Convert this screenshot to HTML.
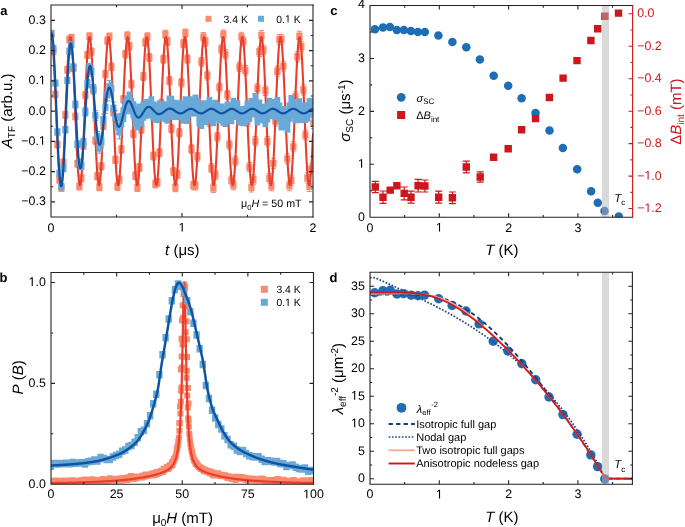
<!DOCTYPE html>
<html><head><meta charset="utf-8"><style>
html,body{margin:0;padding:0;background:#fff;}
svg{display:block;font-family:"Liberation Sans", sans-serif;will-change:transform;text-rendering:geometricPrecision;}
</style></head><body>
<svg width="685" height="527" viewBox="0 0 685 527">
<rect width="685" height="527" fill="#fff"/>
<clipPath id="ca"><rect x="51.0" y="5.0" width="262.0" height="212.0"/></clipPath>
<g clip-path="url(#ca)">
<path d="M48.29,30.73h6.20v7.40h-6.20z M50.89,31.10h1.0v6.66h-1.0z M48.89,30.60h5.0v1.0h-5.0z M48.89,37.26h5.0v1.0h-5.0z M50.29,47.70h6.20v7.40h-6.20z M52.89,48.05h1.0v6.69h-1.0z M50.89,47.55h5.0v1.0h-5.0z M50.89,54.24h5.0v1.0h-5.0z M52.29,90.72h6.20v7.40h-6.20z M54.89,91.06h1.0v6.72h-1.0z M52.89,90.56h5.0v1.0h-5.0z M52.89,97.28h5.0v1.0h-5.0z M54.29,140.94h6.20v7.40h-6.20z M56.89,141.27h1.0v6.74h-1.0z M54.89,140.77h5.0v1.0h-5.0z M54.89,147.51h5.0v1.0h-5.0z M56.29,176.14h6.20v7.40h-6.20z M58.89,176.45h1.0v6.77h-1.0z M56.89,175.95h5.0v1.0h-5.0z M56.89,182.72h5.0v1.0h-5.0z M58.29,184.39h6.20v7.40h-6.20z M60.89,184.69h1.0v6.80h-1.0z M58.89,184.19h5.0v1.0h-5.0z M58.89,190.99h5.0v1.0h-5.0z M60.29,158.73h6.20v7.40h-6.20z M62.89,159.02h1.0v6.83h-1.0z M60.89,158.52h5.0v1.0h-5.0z M60.89,165.34h5.0v1.0h-5.0z M62.29,111.25h6.20v7.40h-6.20z M64.89,111.53h1.0v6.85h-1.0z M62.89,111.03h5.0v1.0h-5.0z M62.89,117.88h5.0v1.0h-5.0z M64.29,66.03h6.20v7.40h-6.20z M66.89,66.29h1.0v6.88h-1.0z M64.89,65.79h5.0v1.0h-5.0z M64.89,72.67h5.0v1.0h-5.0z M66.29,35.81h6.20v7.40h-6.20z M68.89,36.06h1.0v6.91h-1.0z M66.89,35.56h5.0v1.0h-5.0z M66.89,42.47h5.0v1.0h-5.0z M68.29,34.00h6.20v7.40h-6.20z M70.89,34.23h1.0v6.94h-1.0z M68.89,33.73h5.0v1.0h-5.0z M68.89,40.67h5.0v1.0h-5.0z M70.29,64.40h6.20v7.40h-6.20z M72.89,64.62h1.0v6.97h-1.0z M70.89,64.12h5.0v1.0h-5.0z M70.89,71.08h5.0v1.0h-5.0z M72.29,112.70h6.20v7.40h-6.20z M74.89,112.91h1.0v6.99h-1.0z M72.89,112.41h5.0v1.0h-5.0z M72.89,119.40h5.0v1.0h-5.0z M74.29,159.92h6.20v7.40h-6.20z M76.89,160.11h1.0v7.02h-1.0z M74.89,159.61h5.0v1.0h-5.0z M74.89,166.63h5.0v1.0h-5.0z M76.29,182.86h6.20v7.40h-6.20z M78.89,183.04h1.0v7.05h-1.0z M76.89,182.54h5.0v1.0h-5.0z M76.89,189.58h5.0v1.0h-5.0z M78.29,174.59h6.20v7.40h-6.20z M80.89,174.75h1.0v7.08h-1.0z M78.89,174.25h5.0v1.0h-5.0z M78.89,181.33h5.0v1.0h-5.0z M80.29,142.01h6.20v7.40h-6.20z M82.89,142.16h1.0v7.10h-1.0z M80.89,141.66h5.0v1.0h-5.0z M80.89,148.76h5.0v1.0h-5.0z M82.29,91.40h6.20v7.40h-6.20z M84.89,91.54h1.0v7.13h-1.0z M82.89,91.04h5.0v1.0h-5.0z M82.89,98.17h5.0v1.0h-5.0z M84.29,51.29h6.20v7.40h-6.20z M86.89,51.41h1.0v7.16h-1.0z M84.89,50.91h5.0v1.0h-5.0z M84.89,58.07h5.0v1.0h-5.0z M86.29,32.69h6.20v7.40h-6.20z M88.89,32.80h1.0v7.19h-1.0z M86.89,32.30h5.0v1.0h-5.0z M86.89,39.49h5.0v1.0h-5.0z M88.29,47.86h6.20v7.40h-6.20z M90.89,47.95h1.0v7.21h-1.0z M88.89,47.45h5.0v1.0h-5.0z M88.89,54.67h5.0v1.0h-5.0z M90.29,85.78h6.20v7.40h-6.20z M92.89,85.86h1.0v7.24h-1.0z M90.89,85.36h5.0v1.0h-5.0z M90.89,92.60h5.0v1.0h-5.0z M92.29,136.87h6.20v7.40h-6.20z M94.89,136.93h1.0v7.27h-1.0z M92.89,136.43h5.0v1.0h-5.0z M92.89,143.70h5.0v1.0h-5.0z M94.29,172.56h6.20v7.40h-6.20z M96.89,172.61h1.0v7.30h-1.0z M94.89,172.11h5.0v1.0h-5.0z M94.89,179.41h5.0v1.0h-5.0z M96.29,183.39h6.20v7.40h-6.20z M98.89,183.42h1.0v7.33h-1.0z M96.89,182.92h5.0v1.0h-5.0z M96.89,190.25h5.0v1.0h-5.0z M98.29,162.73h6.20v7.40h-6.20z M100.89,162.76h1.0v7.35h-1.0z M98.89,162.26h5.0v1.0h-5.0z M98.89,169.61h5.0v1.0h-5.0z M100.29,122.10h6.20v7.40h-6.20z M102.89,122.11h1.0v7.38h-1.0z M100.89,121.61h5.0v1.0h-5.0z M100.89,128.99h5.0v1.0h-5.0z M102.29,70.41h6.20v7.40h-6.20z M104.89,70.40h1.0v7.41h-1.0z M102.89,69.90h5.0v1.0h-5.0z M102.89,77.31h5.0v1.0h-5.0z M104.29,36.75h6.20v7.40h-6.20z M106.89,36.73h1.0v7.44h-1.0z M104.89,36.23h5.0v1.0h-5.0z M104.89,43.67h5.0v1.0h-5.0z M106.29,33.11h6.20v7.40h-6.20z M108.89,33.08h1.0v7.46h-1.0z M106.89,32.58h5.0v1.0h-5.0z M106.89,40.04h5.0v1.0h-5.0z M108.29,63.14h6.20v7.40h-6.20z M110.89,63.10h1.0v7.49h-1.0z M108.89,62.60h5.0v1.0h-5.0z M108.89,70.09h5.0v1.0h-5.0z M110.29,108.54h6.20v7.40h-6.20z M112.89,108.48h1.0v7.52h-1.0z M110.89,107.98h5.0v1.0h-5.0z M110.89,115.50h5.0v1.0h-5.0z M112.29,156.12h6.20v7.40h-6.20z M114.89,156.04h1.0v7.55h-1.0z M112.89,155.54h5.0v1.0h-5.0z M112.89,163.09h5.0v1.0h-5.0z M114.29,182.96h6.20v7.40h-6.20z M116.89,182.87h1.0v7.57h-1.0z M114.89,182.37h5.0v1.0h-5.0z M114.89,189.94h5.0v1.0h-5.0z M116.29,176.19h6.20v7.40h-6.20z M118.89,176.09h1.0v7.60h-1.0z M116.89,175.59h5.0v1.0h-5.0z M116.89,183.19h5.0v1.0h-5.0z M118.29,145.69h6.20v7.40h-6.20z M120.89,145.58h1.0v7.63h-1.0z M118.89,145.08h5.0v1.0h-5.0z M118.89,152.71h5.0v1.0h-5.0z M120.29,95.72h6.20v7.40h-6.20z M122.89,95.59h1.0v7.66h-1.0z M120.89,95.09h5.0v1.0h-5.0z M120.89,102.75h5.0v1.0h-5.0z M122.29,50.43h6.20v7.40h-6.20z M124.89,50.29h1.0v7.69h-1.0z M122.89,49.79h5.0v1.0h-5.0z M122.89,57.47h5.0v1.0h-5.0z M124.29,31.97h6.20v7.40h-6.20z M126.89,31.81h1.0v7.71h-1.0z M124.89,31.31h5.0v1.0h-5.0z M124.89,39.03h5.0v1.0h-5.0z M126.29,42.44h6.20v7.40h-6.20z M128.89,42.27h1.0v7.74h-1.0z M126.89,41.77h5.0v1.0h-5.0z M126.89,49.51h5.0v1.0h-5.0z M128.29,80.47h6.20v7.40h-6.20z M130.89,80.29h1.0v7.77h-1.0z M128.89,79.79h5.0v1.0h-5.0z M128.89,87.56h5.0v1.0h-5.0z M130.29,130.09h6.20v7.40h-6.20z M132.89,129.89h1.0v7.80h-1.0z M130.89,129.39h5.0v1.0h-5.0z M130.89,137.18h5.0v1.0h-5.0z M132.29,172.07h6.20v7.40h-6.20z M134.89,171.86h1.0v7.82h-1.0z M132.89,171.36h5.0v1.0h-5.0z M132.89,179.18h5.0v1.0h-5.0z M134.29,183.91h6.20v7.40h-6.20z M136.89,183.68h1.0v7.85h-1.0z M134.89,183.18h5.0v1.0h-5.0z M134.89,191.03h5.0v1.0h-5.0z M136.29,163.79h6.20v7.40h-6.20z M138.89,163.55h1.0v7.88h-1.0z M136.89,163.05h5.0v1.0h-5.0z M136.89,170.93h5.0v1.0h-5.0z M138.29,125.61h6.20v7.40h-6.20z M140.89,125.35h1.0v7.91h-1.0z M138.89,124.85h5.0v1.0h-5.0z M138.89,132.76h5.0v1.0h-5.0z M140.29,72.76h6.20v7.40h-6.20z M142.89,72.50h1.0v7.94h-1.0z M140.89,72.00h5.0v1.0h-5.0z M140.89,79.93h5.0v1.0h-5.0z M142.29,38.60h6.20v7.40h-6.20z M144.89,38.32h1.0v7.96h-1.0z M142.89,37.82h5.0v1.0h-5.0z M142.89,45.78h5.0v1.0h-5.0z M144.29,33.11h6.20v7.40h-6.20z M146.89,32.82h1.0v7.99h-1.0z M144.89,32.32h5.0v1.0h-5.0z M144.89,40.31h5.0v1.0h-5.0z M146.29,53.90h6.20v7.40h-6.20z M148.89,53.59h1.0v8.02h-1.0z M146.89,53.09h5.0v1.0h-5.0z M146.89,61.11h5.0v1.0h-5.0z M148.29,101.62h6.20v7.40h-6.20z M150.89,101.30h1.0v8.05h-1.0z M148.89,100.80h5.0v1.0h-5.0z M148.89,108.85h5.0v1.0h-5.0z M150.29,152.38h6.20v7.40h-6.20z M152.89,152.04h1.0v8.07h-1.0z M150.89,151.54h5.0v1.0h-5.0z M150.89,159.61h5.0v1.0h-5.0z M152.29,180.21h6.20v7.40h-6.20z M154.89,179.86h1.0v8.10h-1.0z M152.89,179.36h5.0v1.0h-5.0z M152.89,187.46h5.0v1.0h-5.0z M154.29,178.77h6.20v7.40h-6.20z M156.89,178.41h1.0v8.13h-1.0z M154.89,177.91h5.0v1.0h-5.0z M154.89,186.04h5.0v1.0h-5.0z M156.29,149.09h6.20v7.40h-6.20z M158.89,148.71h1.0v8.16h-1.0z M156.89,148.21h5.0v1.0h-5.0z M156.89,156.37h5.0v1.0h-5.0z M158.29,99.65h6.20v7.40h-6.20z M160.89,99.25h1.0v8.18h-1.0z M158.89,98.75h5.0v1.0h-5.0z M158.89,106.94h5.0v1.0h-5.0z M160.29,55.46h6.20v7.40h-6.20z M162.89,55.05h1.0v8.21h-1.0z M160.89,54.55h5.0v1.0h-5.0z M160.89,62.76h5.0v1.0h-5.0z M162.29,30.75h6.20v7.40h-6.20z M164.89,30.33h1.0v8.24h-1.0z M162.89,29.83h5.0v1.0h-5.0z M162.89,38.07h5.0v1.0h-5.0z M164.29,37.57h6.20v7.40h-6.20z M166.89,37.14h1.0v8.27h-1.0z M164.89,36.64h5.0v1.0h-5.0z M164.89,44.90h5.0v1.0h-5.0z M166.29,76.99h6.20v7.40h-6.20z M168.89,76.55h1.0v8.30h-1.0z M166.89,76.05h5.0v1.0h-5.0z M166.89,84.34h5.0v1.0h-5.0z M168.29,125.01h6.20v7.40h-6.20z M170.89,124.55h1.0v8.32h-1.0z M168.89,124.05h5.0v1.0h-5.0z M168.89,132.37h5.0v1.0h-5.0z M170.29,167.89h6.20v7.40h-6.20z M172.89,167.41h1.0v8.35h-1.0z M170.89,166.91h5.0v1.0h-5.0z M170.89,175.26h5.0v1.0h-5.0z M172.29,183.90h6.20v7.40h-6.20z M174.89,183.41h1.0v8.38h-1.0z M172.89,182.91h5.0v1.0h-5.0z M172.89,191.29h5.0v1.0h-5.0z M174.29,170.78h6.20v7.40h-6.20z M176.89,170.28h1.0v8.41h-1.0z M174.89,169.78h5.0v1.0h-5.0z M174.89,178.18h5.0v1.0h-5.0z M176.29,129.04h6.20v7.40h-6.20z M178.89,128.52h1.0v8.43h-1.0z M176.89,128.02h5.0v1.0h-5.0z M176.89,136.46h5.0v1.0h-5.0z M178.29,78.97h6.20v7.40h-6.20z M180.89,78.44h1.0v8.46h-1.0z M178.89,77.94h5.0v1.0h-5.0z M178.89,86.41h5.0v1.0h-5.0z M180.29,39.82h6.20v7.40h-6.20z M182.89,39.28h1.0v8.49h-1.0z M180.89,38.78h5.0v1.0h-5.0z M180.89,47.27h5.0v1.0h-5.0z M182.29,29.60h6.20v7.40h-6.20z M184.89,29.04h1.0v8.52h-1.0z M182.89,28.54h5.0v1.0h-5.0z M182.89,37.06h5.0v1.0h-5.0z M184.29,55.24h6.20v7.40h-6.20z M186.89,54.66h1.0v8.54h-1.0z M184.89,54.16h5.0v1.0h-5.0z M184.89,62.71h5.0v1.0h-5.0z M186.29,98.96h6.20v7.40h-6.20z M188.89,98.37h1.0v8.57h-1.0z M186.89,97.87h5.0v1.0h-5.0z M186.89,106.44h5.0v1.0h-5.0z M188.29,145.32h6.20v7.40h-6.20z M190.89,144.72h1.0v8.60h-1.0z M188.89,144.22h5.0v1.0h-5.0z M188.89,152.82h5.0v1.0h-5.0z M190.29,181.62h6.20v7.40h-6.20z M192.89,181.00h1.0v8.63h-1.0z M190.89,180.50h5.0v1.0h-5.0z M190.89,189.13h5.0v1.0h-5.0z M192.29,181.89h6.20v7.40h-6.20z M194.89,181.26h1.0v8.66h-1.0z M192.89,180.76h5.0v1.0h-5.0z M192.89,189.41h5.0v1.0h-5.0z M194.29,153.11h6.20v7.40h-6.20z M196.89,152.47h1.0v8.68h-1.0z M194.89,151.97h5.0v1.0h-5.0z M194.89,160.65h5.0v1.0h-5.0z M196.29,103.82h6.20v7.40h-6.20z M198.89,103.16h1.0v8.71h-1.0z M196.89,102.66h5.0v1.0h-5.0z M196.89,111.37h5.0v1.0h-5.0z M198.29,58.13h6.20v7.40h-6.20z M200.89,57.46h1.0v8.74h-1.0z M198.89,56.96h5.0v1.0h-5.0z M198.89,65.70h5.0v1.0h-5.0z M200.29,33.26h6.20v7.40h-6.20z M202.89,32.58h1.0v8.77h-1.0z M200.89,32.08h5.0v1.0h-5.0z M200.89,40.84h5.0v1.0h-5.0z M202.29,38.07h6.20v7.40h-6.20z M204.89,37.38h1.0v8.79h-1.0z M202.89,36.88h5.0v1.0h-5.0z M202.89,45.67h5.0v1.0h-5.0z M204.29,71.82h6.20v7.40h-6.20z M206.89,71.11h1.0v8.82h-1.0z M204.89,70.61h5.0v1.0h-5.0z M204.89,79.43h5.0v1.0h-5.0z M206.29,118.07h6.20v7.40h-6.20z M208.89,117.35h1.0v8.85h-1.0z M206.89,116.85h5.0v1.0h-5.0z M206.89,125.70h5.0v1.0h-5.0z M208.29,164.54h6.20v7.40h-6.20z M210.89,163.80h1.0v8.88h-1.0z M208.89,163.30h5.0v1.0h-5.0z M208.89,172.18h5.0v1.0h-5.0z M210.29,184.29h6.20v7.40h-6.20z M212.89,183.54h1.0v8.90h-1.0z M210.89,183.04h5.0v1.0h-5.0z M210.89,191.94h5.0v1.0h-5.0z M212.29,171.32h6.20v7.40h-6.20z M214.89,170.56h1.0v8.93h-1.0z M212.89,170.06h5.0v1.0h-5.0z M212.89,178.99h5.0v1.0h-5.0z M214.29,133.16h6.20v7.40h-6.20z M216.89,132.38h1.0v8.96h-1.0z M214.89,131.88h5.0v1.0h-5.0z M214.89,140.84h5.0v1.0h-5.0z M216.29,83.71h6.20v7.40h-6.20z M218.89,82.92h1.0v8.99h-1.0z M216.89,82.42h5.0v1.0h-5.0z M216.89,91.41h5.0v1.0h-5.0z M218.29,45.55h6.20v7.40h-6.20z M220.89,44.75h1.0v9.02h-1.0z M218.89,44.25h5.0v1.0h-5.0z M218.89,53.26h5.0v1.0h-5.0z M220.29,30.86h6.20v7.40h-6.20z M222.89,30.04h1.0v9.04h-1.0z M220.89,29.54h5.0v1.0h-5.0z M220.89,38.59h5.0v1.0h-5.0z M222.29,50.45h6.20v7.40h-6.20z M224.89,49.62h1.0v9.07h-1.0z M222.89,49.12h5.0v1.0h-5.0z M222.89,58.19h5.0v1.0h-5.0z M224.29,91.01h6.20v7.40h-6.20z M226.89,90.16h1.0v9.10h-1.0z M224.89,89.66h5.0v1.0h-5.0z M224.89,98.76h5.0v1.0h-5.0z M226.29,140.88h6.20v7.40h-6.20z M228.89,140.02h1.0v9.13h-1.0z M226.89,139.52h5.0v1.0h-5.0z M226.89,148.64h5.0v1.0h-5.0z M228.29,176.61h6.20v7.40h-6.20z M230.89,175.73h1.0v9.15h-1.0z M228.89,175.23h5.0v1.0h-5.0z M228.89,184.39h5.0v1.0h-5.0z M230.29,181.39h6.20v7.40h-6.20z M232.89,180.50h1.0v9.18h-1.0z M230.89,180.00h5.0v1.0h-5.0z M230.89,189.18h5.0v1.0h-5.0z M232.29,157.43h6.20v7.40h-6.20z M234.89,156.53h1.0v9.21h-1.0z M232.89,156.03h5.0v1.0h-5.0z M232.89,165.24h5.0v1.0h-5.0z M234.29,109.17h6.20v7.40h-6.20z M236.89,108.25h1.0v9.24h-1.0z M234.89,107.75h5.0v1.0h-5.0z M234.89,116.99h5.0v1.0h-5.0z M236.29,63.21h6.20v7.40h-6.20z M238.89,62.28h1.0v9.27h-1.0z M236.89,61.78h5.0v1.0h-5.0z M236.89,71.04h5.0v1.0h-5.0z M238.29,33.21h6.20v7.40h-6.20z M240.89,32.26h1.0v9.29h-1.0z M238.89,31.76h5.0v1.0h-5.0z M238.89,41.06h5.0v1.0h-5.0z M240.29,37.54h6.20v7.40h-6.20z M242.89,36.58h1.0v9.32h-1.0z M240.89,36.08h5.0v1.0h-5.0z M240.89,45.40h5.0v1.0h-5.0z M242.29,66.54h6.20v7.40h-6.20z M244.89,65.56h1.0v9.35h-1.0z M242.89,65.06h5.0v1.0h-5.0z M242.89,74.41h5.0v1.0h-5.0z M244.29,117.93h6.20v7.40h-6.20z M246.89,116.94h1.0v9.38h-1.0z M244.89,116.44h5.0v1.0h-5.0z M244.89,125.82h5.0v1.0h-5.0z M246.29,163.44h6.20v7.40h-6.20z M248.89,162.44h1.0v9.40h-1.0z M246.89,161.94h5.0v1.0h-5.0z M246.89,171.34h5.0v1.0h-5.0z M248.29,183.70h6.20v7.40h-6.20z M250.89,182.68h1.0v9.43h-1.0z M248.89,182.18h5.0v1.0h-5.0z M248.89,191.61h5.0v1.0h-5.0z M250.29,175.81h6.20v7.40h-6.20z M252.89,174.78h1.0v9.46h-1.0z M250.89,174.28h5.0v1.0h-5.0z M250.89,183.74h5.0v1.0h-5.0z M252.29,137.43h6.20v7.40h-6.20z M254.89,136.38h1.0v9.49h-1.0z M252.89,135.88h5.0v1.0h-5.0z M252.89,145.37h5.0v1.0h-5.0z M254.29,84.86h6.20v7.40h-6.20z M256.89,83.81h1.0v9.51h-1.0z M254.89,83.31h5.0v1.0h-5.0z M254.89,92.82h5.0v1.0h-5.0z M256.29,48.09h6.20v7.40h-6.20z M258.89,47.02h1.0v9.54h-1.0z M256.89,46.52h5.0v1.0h-5.0z M256.89,56.06h5.0v1.0h-5.0z M258.29,31.64h6.20v7.40h-6.20z M260.89,30.55h1.0v9.57h-1.0z M258.89,30.05h5.0v1.0h-5.0z M258.89,39.62h5.0v1.0h-5.0z M260.29,46.27h6.20v7.40h-6.20z M262.89,45.17h1.0v9.60h-1.0z M260.89,44.67h5.0v1.0h-5.0z M260.89,54.27h5.0v1.0h-5.0z M262.29,87.11h6.20v7.40h-6.20z M264.89,85.99h1.0v9.63h-1.0z M262.89,85.49h5.0v1.0h-5.0z M262.89,95.12h5.0v1.0h-5.0z M264.29,137.56h6.20v7.40h-6.20z M266.89,136.43h1.0v9.65h-1.0z M264.89,135.93h5.0v1.0h-5.0z M264.89,145.58h5.0v1.0h-5.0z M266.29,174.56h6.20v7.40h-6.20z M268.89,173.42h1.0v9.68h-1.0z M266.89,172.92h5.0v1.0h-5.0z M266.89,182.60h5.0v1.0h-5.0z M268.29,182.24h6.20v7.40h-6.20z M270.89,181.08h1.0v9.71h-1.0z M268.89,180.58h5.0v1.0h-5.0z M268.89,190.29h5.0v1.0h-5.0z M270.29,159.88h6.20v7.40h-6.20z M272.89,158.71h1.0v9.74h-1.0z M270.89,158.21h5.0v1.0h-5.0z M270.89,167.95h5.0v1.0h-5.0z M272.29,117.36h6.20v7.40h-6.20z M274.89,116.17h1.0v9.76h-1.0z M272.89,115.67h5.0v1.0h-5.0z M272.89,125.44h5.0v1.0h-5.0z M274.29,67.54h6.20v7.40h-6.20z M276.89,66.34h1.0v9.79h-1.0z M274.89,65.84h5.0v1.0h-5.0z M274.89,75.63h5.0v1.0h-5.0z M276.29,35.68h6.20v7.40h-6.20z M278.89,34.47h1.0v9.82h-1.0z M276.89,33.97h5.0v1.0h-5.0z M276.89,43.79h5.0v1.0h-5.0z M278.29,35.57h6.20v7.40h-6.20z M280.89,34.34h1.0v9.85h-1.0z M278.89,33.84h5.0v1.0h-5.0z M278.89,43.69h5.0v1.0h-5.0z M280.29,62.47h6.20v7.40h-6.20z M282.89,61.23h1.0v9.87h-1.0z M280.89,60.73h5.0v1.0h-5.0z M280.89,70.60h5.0v1.0h-5.0z M282.29,111.64h6.20v7.40h-6.20z M284.89,110.39h1.0v9.90h-1.0z M282.89,109.89h5.0v1.0h-5.0z M282.89,119.79h5.0v1.0h-5.0z M284.29,155.13h6.20v7.40h-6.20z M286.89,153.86h1.0v9.93h-1.0z M284.89,153.36h5.0v1.0h-5.0z M284.89,163.29h5.0v1.0h-5.0z M286.29,182.02h6.20v7.40h-6.20z M288.89,180.74h1.0v9.96h-1.0z M286.89,180.24h5.0v1.0h-5.0z M286.89,190.20h5.0v1.0h-5.0z M288.29,176.62h6.20v7.40h-6.20z M290.89,175.33h1.0v9.99h-1.0z M288.89,174.83h5.0v1.0h-5.0z M288.89,184.81h5.0v1.0h-5.0z M290.29,143.14h6.20v7.40h-6.20z M292.89,141.83h1.0v10.01h-1.0z M290.89,141.33h5.0v1.0h-5.0z M290.89,151.34h5.0v1.0h-5.0z M292.29,93.36h6.20v7.40h-6.20z M294.89,92.04h1.0v10.04h-1.0z M292.89,91.54h5.0v1.0h-5.0z M292.89,101.58h5.0v1.0h-5.0z M294.29,53.08h6.20v7.40h-6.20z M296.89,51.75h1.0v10.07h-1.0z M294.89,51.25h5.0v1.0h-5.0z M294.89,61.31h5.0v1.0h-5.0z M296.29,32.58h6.20v7.40h-6.20z M298.89,31.24h1.0v10.10h-1.0z M296.89,30.74h5.0v1.0h-5.0z M296.89,40.83h5.0v1.0h-5.0z M298.29,43.09h6.20v7.40h-6.20z M300.89,41.73h1.0v10.12h-1.0z M298.89,41.23h5.0v1.0h-5.0z M298.89,51.35h5.0v1.0h-5.0z M300.29,86.24h6.20v7.40h-6.20z M302.89,84.86h1.0v10.15h-1.0z M300.89,84.36h5.0v1.0h-5.0z M300.89,94.51h5.0v1.0h-5.0z M302.29,131.30h6.20v7.40h-6.20z M304.89,129.91h1.0v10.18h-1.0z M302.89,129.41h5.0v1.0h-5.0z M302.89,139.59h5.0v1.0h-5.0z M304.29,174.27h6.20v7.40h-6.20z M306.89,172.87h1.0v10.21h-1.0z M304.89,172.37h5.0v1.0h-5.0z M304.89,182.57h5.0v1.0h-5.0z M306.29,182.72h6.20v7.40h-6.20z M308.89,181.30h1.0v10.24h-1.0z M306.89,180.80h5.0v1.0h-5.0z M306.89,191.04h5.0v1.0h-5.0z M308.29,165.46h6.20v7.40h-6.20z M310.89,164.03h1.0v10.26h-1.0z M308.89,163.53h5.0v1.0h-5.0z M308.89,173.79h5.0v1.0h-5.0z M310.29,119.61h6.20v7.40h-6.20z M312.89,118.16h1.0v10.29h-1.0z M310.89,117.66h5.0v1.0h-5.0z M310.89,127.96h5.0v1.0h-5.0z" fill="#F98B6E"/>
<path d="M51.00,37.35 L51.19,37.04 L51.37,37.01 L51.56,37.26 L51.75,37.79 L51.94,38.60 L52.12,39.68 L52.31,41.04 L52.50,42.66 L52.69,44.54 L52.87,46.67 L53.06,49.05 L53.25,51.66 L53.43,54.50 L53.62,57.55 L53.81,60.81 L54.00,64.26 L54.18,67.88 L54.37,71.67 L54.56,75.61 L54.75,79.68 L54.93,83.87 L55.12,88.17 L55.31,92.55 L55.49,97.01 L55.68,101.51 L55.87,106.05 L56.06,110.62 L56.24,115.18 L56.43,119.73 L56.62,124.24 L56.81,128.71 L56.99,133.11 L57.18,137.42 L57.37,141.64 L57.55,145.74 L57.74,149.71 L57.93,153.53 L58.12,157.19 L58.30,160.68 L58.49,163.97 L58.68,167.07 L58.87,169.96 L59.05,172.62 L59.24,175.04 L59.43,177.23 L59.61,179.16 L59.80,180.84 L59.99,182.25 L60.18,183.39 L60.36,184.26 L60.55,184.85 L60.74,185.16 L60.93,185.19 L61.11,184.94 L61.30,184.41 L61.49,183.60 L61.67,182.51 L61.86,181.15 L62.05,179.53 L62.24,177.65 L62.42,175.51 L62.61,173.14 L62.80,170.52 L62.99,167.68 L63.17,164.63 L63.36,161.37 L63.55,157.92 L63.73,154.30 L63.92,150.51 L64.11,146.57 L64.30,142.49 L64.48,138.30 L64.67,134.00 L64.86,129.62 L65.05,125.17 L65.23,120.66 L65.42,116.12 L65.61,111.56 L65.79,106.99 L65.98,102.44 L66.17,97.93 L66.36,93.46 L66.54,89.07 L66.73,84.75 L66.92,80.54 L67.11,76.44 L67.29,72.47 L67.48,68.65 L67.67,64.99 L67.85,61.50 L68.04,58.21 L68.23,55.11 L68.42,52.23 L68.60,49.57 L68.79,47.14 L68.98,44.96 L69.17,43.02 L69.35,41.35 L69.54,39.94 L69.73,38.80 L69.91,37.93 L70.10,37.35 L70.29,37.04 L70.48,37.01 L70.66,37.26 L70.85,37.80 L71.04,38.61 L71.23,39.70 L71.41,41.06 L71.60,42.68 L71.79,44.56 L71.97,46.70 L72.16,49.08 L72.35,51.69 L72.54,54.54 L72.72,57.59 L72.91,60.85 L73.10,64.30 L73.29,67.93 L73.47,71.72 L73.66,75.66 L73.85,79.73 L74.04,83.92 L74.22,88.22 L74.41,92.60 L74.60,97.06 L74.78,101.57 L74.97,106.11 L75.16,110.67 L75.35,115.23 L75.53,119.78 L75.72,124.30 L75.91,128.76 L76.10,133.16 L76.28,137.47 L76.47,141.69 L76.66,145.79 L76.84,149.75 L77.03,153.57 L77.22,157.23 L77.41,160.72 L77.59,164.01 L77.78,167.11 L77.97,169.99 L78.16,172.65 L78.34,175.07 L78.53,177.25 L78.72,179.19 L78.90,180.86 L79.09,182.27 L79.28,183.41 L79.47,184.27 L79.65,184.86 L79.84,185.16 L80.03,185.19 L80.22,184.93 L80.40,184.40 L80.59,183.58 L80.78,182.50 L80.96,181.14 L81.15,179.51 L81.34,177.63 L81.53,175.49 L81.71,173.11 L81.90,170.49 L82.09,167.65 L82.28,164.59 L82.46,161.33 L82.65,157.88 L82.84,154.25 L83.02,150.46 L83.21,146.52 L83.40,142.44 L83.59,138.25 L83.77,133.95 L83.96,129.57 L84.15,125.12 L84.34,120.61 L84.52,116.06 L84.71,111.50 L84.90,106.94 L85.08,102.39 L85.27,97.88 L85.46,93.41 L85.65,89.01 L85.83,84.70 L86.02,80.49 L86.21,76.39 L86.40,72.42 L86.58,68.60 L86.77,64.95 L86.96,61.46 L87.14,58.17 L87.33,55.08 L87.52,52.20 L87.71,49.54 L87.89,47.11 L88.08,44.93 L88.27,43.00 L88.46,41.33 L88.64,39.92 L88.83,38.79 L89.02,37.93 L89.20,37.34 L89.39,37.04 L89.58,37.01 L89.77,37.27 L89.95,37.81 L90.14,38.62 L90.33,39.71 L90.52,41.07 L90.70,42.70 L90.89,44.59 L91.08,46.73 L91.26,49.11 L91.45,51.73 L91.64,54.57 L91.83,57.63 L92.01,60.89 L92.20,64.34 L92.39,67.97 L92.58,71.76 L92.76,75.70 L92.95,79.78 L93.14,83.97 L93.32,88.27 L93.51,92.66 L93.70,97.11 L93.89,101.62 L94.07,106.16 L94.26,110.72 L94.45,115.29 L94.64,119.84 L94.82,124.35 L95.01,128.81 L95.20,133.21 L95.38,137.53 L95.57,141.74 L95.76,145.83 L95.95,149.80 L96.13,153.62 L96.32,157.27 L96.51,160.76 L96.70,164.05 L96.88,167.14 L97.07,170.02 L97.26,172.68 L97.44,175.10 L97.63,177.28 L97.82,179.21 L98.01,180.88 L98.19,182.28 L98.38,183.42 L98.57,184.28 L98.76,184.86 L98.94,185.17 L99.13,185.19 L99.32,184.93 L99.50,184.39 L99.69,183.57 L99.88,182.48 L100.07,181.12 L100.25,179.49 L100.44,177.60 L100.63,175.46 L100.82,173.08 L101.00,170.46 L101.19,167.61 L101.38,164.55 L101.56,161.29 L101.75,157.84 L101.94,154.21 L102.13,150.42 L102.31,146.47 L102.50,142.40 L102.69,138.20 L102.88,133.90 L103.06,129.52 L103.25,125.06 L103.44,120.55 L103.62,116.01 L103.81,111.45 L104.00,106.88 L104.19,102.34 L104.37,97.82 L104.56,93.36 L104.75,88.96 L104.94,84.65 L105.12,80.44 L105.31,76.34 L105.50,72.38 L105.68,68.56 L105.87,64.90 L106.06,61.42 L106.25,58.13 L106.43,55.04 L106.62,52.16 L106.81,49.51 L107.00,47.09 L107.18,44.91 L107.37,42.98 L107.56,41.31 L107.74,39.91 L107.93,38.78 L108.12,37.92 L108.31,37.34 L108.49,37.03 L108.68,37.01 L108.87,37.27 L109.06,37.81 L109.24,38.63 L109.43,39.73 L109.62,41.09 L109.80,42.72 L109.99,44.61 L110.18,46.75 L110.37,49.14 L110.55,51.76 L110.74,54.61 L110.93,57.67 L111.12,60.93 L111.30,64.38 L111.49,68.01 L111.68,71.81 L111.86,75.75 L112.05,79.83 L112.24,84.03 L112.43,88.32 L112.61,92.71 L112.80,97.16 L112.99,101.67 L113.18,106.22 L113.36,110.78 L113.55,115.34 L113.74,119.89 L113.92,124.40 L114.11,128.87 L114.30,133.26 L114.49,137.58 L114.67,141.79 L114.86,145.88 L115.05,149.85 L115.24,153.66 L115.42,157.32 L115.61,160.80 L115.80,164.09 L115.98,167.18 L116.17,170.05 L116.36,172.71 L116.55,175.13 L116.73,177.30 L116.92,179.23 L117.11,180.90 L117.30,182.30 L117.48,183.43 L117.67,184.29 L117.86,184.87 L118.05,185.17 L118.23,185.19 L118.42,184.92 L118.61,184.38 L118.79,183.56 L118.98,182.47 L119.17,181.10 L119.36,179.47 L119.54,177.58 L119.73,175.43 L119.92,173.05 L120.11,170.42 L120.29,167.58 L120.48,164.52 L120.67,161.25 L120.85,157.80 L121.04,154.16 L121.23,150.37 L121.42,146.42 L121.60,142.35 L121.79,138.15 L121.98,133.85 L122.17,129.46 L122.35,125.01 L122.54,120.50 L122.73,115.96 L122.91,111.39 L123.10,106.83 L123.29,102.28 L123.48,97.77 L123.66,93.31 L123.85,88.91 L124.04,84.60 L124.23,80.39 L124.41,76.29 L124.60,72.33 L124.79,68.52 L124.97,64.86 L125.16,61.38 L125.35,58.09 L125.54,55.01 L125.72,52.13 L125.91,49.48 L126.10,47.06 L126.29,44.88 L126.47,42.96 L126.66,41.30 L126.85,39.89 L127.03,38.76 L127.22,37.91 L127.41,37.33 L127.60,37.03 L127.78,37.01 L127.97,37.28 L128.16,37.82 L128.35,38.64 L128.53,39.74 L128.72,41.11 L128.91,42.74 L129.09,44.63 L129.28,46.78 L129.47,49.17 L129.66,51.79 L129.84,54.64 L130.03,57.70 L130.22,60.97 L130.41,64.42 L130.59,68.06 L130.78,71.85 L130.97,75.80 L131.15,79.88 L131.34,84.08 L131.53,88.38 L131.72,92.76 L131.90,97.22 L132.09,101.73 L132.28,106.27 L132.47,110.83 L132.65,115.40 L132.84,119.94 L133.03,124.46 L133.21,128.92 L133.40,133.31 L133.59,137.63 L133.78,141.84 L133.96,145.93 L134.15,149.89 L134.34,153.71 L134.53,157.36 L134.71,160.84 L134.90,164.12 L135.09,167.21 L135.27,170.09 L135.46,172.74 L135.65,175.15 L135.84,177.33 L136.02,179.25 L136.21,180.91 L136.40,182.31 L136.59,183.44 L136.77,184.30 L136.96,184.87 L137.15,185.17 L137.33,185.18 L137.52,184.92 L137.71,184.37 L137.90,183.55 L138.08,182.45 L138.27,181.08 L138.46,179.45 L138.65,177.55 L138.83,175.41 L139.02,173.02 L139.21,170.39 L139.39,167.54 L139.58,164.48 L139.77,161.21 L139.96,157.75 L140.14,154.12 L140.33,150.32 L140.52,146.38 L140.71,142.30 L140.89,138.10 L141.08,133.80 L141.27,129.41 L141.45,124.96 L141.64,120.45 L141.83,115.90 L142.02,111.34 L142.20,106.78 L142.39,102.23 L142.58,97.72 L142.77,93.25 L142.95,88.86 L143.14,84.55 L143.33,80.34 L143.51,76.25 L143.70,72.29 L143.89,68.47 L144.08,64.82 L144.26,61.34 L144.45,58.06 L144.64,54.97 L144.83,52.10 L145.01,49.45 L145.20,47.03 L145.39,44.86 L145.57,42.94 L145.76,41.28 L145.95,39.88 L146.14,38.75 L146.32,37.90 L146.51,37.33 L146.70,37.03 L146.89,37.02 L147.07,37.28 L147.26,37.83 L147.45,38.66 L147.63,39.76 L147.82,41.13 L148.01,42.76 L148.20,44.66 L148.38,46.81 L148.57,49.20 L148.76,51.82 L148.95,54.68 L149.13,57.74 L149.32,61.01 L149.51,64.47 L149.69,68.10 L149.88,71.90 L150.07,75.85 L150.26,79.93 L150.44,84.13 L150.63,88.43 L150.82,92.81 L151.01,97.27 L151.19,101.78 L151.38,106.32 L151.57,110.89 L151.75,115.45 L151.94,120.00 L152.13,124.51 L152.32,128.97 L152.50,133.37 L152.69,137.68 L152.88,141.89 L153.07,145.98 L153.25,149.94 L153.44,153.75 L153.63,157.40 L153.81,160.88 L154.00,164.16 L154.19,167.25 L154.38,170.12 L154.56,172.77 L154.75,175.18 L154.94,177.35 L155.13,179.27 L155.31,180.93 L155.50,182.33 L155.69,183.45 L155.87,184.30 L156.06,184.88 L156.25,185.17 L156.44,185.18 L156.62,184.91 L156.81,184.37 L157.00,183.54 L157.19,182.44 L157.37,181.06 L157.56,179.43 L157.75,177.53 L157.93,175.38 L158.12,172.99 L158.31,170.36 L158.50,167.51 L158.68,164.44 L158.87,161.17 L159.06,157.71 L159.25,154.08 L159.43,150.28 L159.62,146.33 L159.81,142.25 L159.99,138.05 L160.18,133.75 L160.37,129.36 L160.56,124.90 L160.74,120.39 L160.93,115.85 L161.12,111.29 L161.31,106.72 L161.49,102.18 L161.68,97.66 L161.87,93.20 L162.06,88.81 L162.24,84.50 L162.43,80.29 L162.62,76.20 L162.80,72.24 L162.99,68.43 L163.18,64.78 L163.37,61.30 L163.55,58.02 L163.74,54.94 L163.93,52.06 L164.12,49.42 L164.30,47.01 L164.49,44.84 L164.68,42.92 L164.86,41.26 L165.05,39.86 L165.24,38.74 L165.43,37.89 L165.61,37.32 L165.80,37.03 L165.99,37.02 L166.18,37.29 L166.36,37.84 L166.55,38.67 L166.74,39.77 L166.92,41.14 L167.11,42.78 L167.30,44.68 L167.49,46.83 L167.67,49.23 L167.86,51.86 L168.05,54.71 L168.24,57.78 L168.42,61.05 L168.61,64.51 L168.80,68.15 L168.98,71.95 L169.17,75.89 L169.36,79.98 L169.55,84.18 L169.73,88.48 L169.92,92.87 L170.11,97.32 L170.30,101.83 L170.48,106.38 L170.67,110.94 L170.86,115.50 L171.04,120.05 L171.23,124.56 L171.42,129.02 L171.61,133.42 L171.79,137.73 L171.98,141.93 L172.17,146.03 L172.36,149.98 L172.54,153.79 L172.73,157.44 L172.92,160.92 L173.10,164.20 L173.29,167.28 L173.48,170.15 L173.67,172.80 L173.85,175.21 L174.04,177.38 L174.23,179.29 L174.42,180.95 L174.60,182.34 L174.79,183.46 L174.98,184.31 L175.16,184.88 L175.35,185.17 L175.54,185.18 L175.73,184.91 L175.91,184.36 L176.10,183.53 L176.29,182.42 L176.48,181.05 L176.66,179.41 L176.85,177.51 L177.04,175.35 L177.22,172.96 L177.41,170.33 L177.60,167.47 L177.79,164.40 L177.97,161.13 L178.16,157.67 L178.35,154.03 L178.54,150.23 L178.72,146.28 L178.91,142.20 L179.10,138.00 L179.28,133.70 L179.47,129.31 L179.66,124.85 L179.85,120.34 L180.03,115.80 L180.22,111.23 L180.41,106.67 L180.60,102.12 L180.78,97.61 L180.97,93.15 L181.16,88.76 L181.34,84.45 L181.53,80.24 L181.72,76.15 L181.91,72.19 L182.09,68.38 L182.28,64.74 L182.47,61.26 L182.66,57.98 L182.84,54.90 L183.03,52.03 L183.22,49.39 L183.40,46.98 L183.59,44.81 L183.78,42.90 L183.97,41.24 L184.15,39.85 L184.34,38.73 L184.53,37.88 L184.72,37.31 L184.90,37.03 L185.09,37.02 L185.28,37.29 L185.46,37.85 L185.65,38.68 L185.84,39.78 L186.03,41.16 L186.21,42.80 L186.40,44.71 L186.59,46.86 L186.78,49.26 L186.96,51.89 L187.15,54.75 L187.34,57.82 L187.52,61.09 L187.71,64.55 L187.90,68.19 L188.09,71.99 L188.27,75.94 L188.46,80.02 L188.65,84.23 L188.84,88.53 L189.02,92.92 L189.21,97.38 L189.40,101.89 L189.58,106.43 L189.77,110.99 L189.96,115.56 L190.15,120.10 L190.33,124.62 L190.52,129.08 L190.71,133.47 L190.90,137.78 L191.08,141.98 L191.27,146.07 L191.46,150.03 L191.64,153.84 L191.83,157.49 L192.02,160.96 L192.21,164.24 L192.39,167.32 L192.58,170.18 L192.77,172.83 L192.96,175.24 L193.14,177.40 L193.33,179.31 L193.52,180.97 L193.70,182.36 L193.89,183.48 L194.08,184.32 L194.27,184.89 L194.45,185.17 L194.64,185.18 L194.83,184.90 L195.02,184.35 L195.20,183.52 L195.39,182.41 L195.58,181.03 L195.76,179.39 L195.95,177.48 L196.14,175.33 L196.33,172.93 L196.51,170.29 L196.70,167.44 L196.89,164.37 L197.08,161.09 L197.26,157.63 L197.45,153.99 L197.64,150.19 L197.82,146.23 L198.01,142.15 L198.20,137.95 L198.39,133.64 L198.57,129.26 L198.76,124.80 L198.95,120.29 L199.14,115.74 L199.32,111.18 L199.51,106.62 L199.70,102.07 L199.88,97.56 L200.07,93.10 L200.26,88.70 L200.45,84.40 L200.63,80.19 L200.82,76.10 L201.01,72.15 L201.20,68.34 L201.38,64.69 L201.57,61.22 L201.76,57.94 L201.94,54.86 L202.13,52.00 L202.32,49.36 L202.51,46.95 L202.69,44.79 L202.88,42.88 L203.07,41.22 L203.26,39.84 L203.44,38.72 L203.63,37.87 L203.82,37.31 L204.01,37.02 L204.19,37.02 L204.38,37.30 L204.57,37.85 L204.75,38.69 L204.94,39.80 L205.13,41.18 L205.32,42.83 L205.50,44.73 L205.69,46.89 L205.88,49.29 L206.07,51.92 L206.25,54.78 L206.44,57.85 L206.63,61.13 L206.81,64.59 L207.00,68.23 L207.19,72.04 L207.38,75.99 L207.56,80.07 L207.75,84.28 L207.94,88.58 L208.13,92.97 L208.31,97.43 L208.50,101.94 L208.69,106.49 L208.87,111.05 L209.06,115.61 L209.25,120.16 L209.44,124.67 L209.62,129.13 L209.81,133.52 L210.00,137.83 L210.19,142.03 L210.37,146.12 L210.56,150.08 L210.75,153.88 L210.93,157.53 L211.12,161.00 L211.31,164.28 L211.50,167.35 L211.68,170.22 L211.87,172.86 L212.06,175.26 L212.25,177.42 L212.43,179.33 L212.62,180.99 L212.81,182.37 L212.99,183.49 L213.18,184.33 L213.37,184.89 L213.56,185.18 L213.74,185.18 L213.93,184.90 L214.12,184.34 L214.31,183.50 L214.49,182.39 L214.68,181.01 L214.87,179.36 L215.05,177.46 L215.24,175.30 L215.43,172.90 L215.62,170.26 L215.80,167.40 L215.99,164.33 L216.18,161.05 L216.37,157.59 L216.55,153.94 L216.74,150.14 L216.93,146.19 L217.11,142.10 L217.30,137.90 L217.49,133.59 L217.68,129.20 L217.86,124.74 L218.05,120.23 L218.24,115.69 L218.43,111.12 L218.61,106.56 L218.80,102.02 L218.99,97.50 L219.17,93.04 L219.36,88.65 L219.55,84.35 L219.74,80.14 L219.92,76.06 L220.11,72.10 L220.30,68.30 L220.49,64.65 L220.67,61.18 L220.86,57.91 L221.05,54.83 L221.23,51.97 L221.42,49.33 L221.61,46.92 L221.80,44.76 L221.98,42.85 L222.17,41.21 L222.36,39.82 L222.55,38.71 L222.73,37.87 L222.92,37.30 L223.11,37.02 L223.29,37.02 L223.48,37.30 L223.67,37.86 L223.86,38.70 L224.04,39.81 L224.23,41.20 L224.42,42.85 L224.61,44.75 L224.79,46.91 L224.98,49.32 L225.17,51.95 L225.35,54.82 L225.54,57.89 L225.73,61.17 L225.92,64.63 L226.10,68.28 L226.29,72.08 L226.48,76.04 L226.67,80.12 L226.85,84.33 L227.04,88.63 L227.23,93.02 L227.41,97.48 L227.60,101.99 L227.79,106.54 L227.98,111.10 L228.16,115.67 L228.35,120.21 L228.54,124.72 L228.73,129.18 L228.91,133.57 L229.10,137.88 L229.29,142.08 L229.47,146.17 L229.66,150.12 L229.85,153.93 L230.04,157.57 L230.22,161.04 L230.41,164.31 L230.60,167.39 L230.79,170.25 L230.97,172.89 L231.16,175.29 L231.35,177.45 L231.53,179.36 L231.72,181.00 L231.91,182.39 L232.10,183.50 L232.28,184.34 L232.47,184.90 L232.66,185.18 L232.85,185.18 L233.03,184.89 L233.22,184.33 L233.41,183.49 L233.59,182.38 L233.78,180.99 L233.97,179.34 L234.16,177.43 L234.34,175.27 L234.53,172.87 L234.72,170.23 L234.91,167.37 L235.09,164.29 L235.28,161.01 L235.47,157.54 L235.65,153.90 L235.84,150.09 L236.03,146.14 L236.22,142.05 L236.40,137.85 L236.59,133.54 L236.78,129.15 L236.97,124.69 L237.15,120.18 L237.34,115.63 L237.53,111.07 L237.71,106.51 L237.90,101.96 L238.09,97.45 L238.28,92.99 L238.46,88.60 L238.65,84.30 L238.84,80.09 L239.03,76.01 L239.21,72.06 L239.40,68.25 L239.59,64.61 L239.77,61.14 L239.96,57.87 L240.15,54.79 L240.34,51.93 L240.52,49.30 L240.71,46.90 L240.90,44.74 L241.09,42.83 L241.27,41.19 L241.46,39.81 L241.65,38.69 L241.83,37.86 L242.02,37.30 L242.21,37.02 L242.40,37.02 L242.58,37.31 L242.77,37.87 L242.96,38.71 L243.15,39.83 L243.33,41.22 L243.52,42.87 L243.71,44.78 L243.89,46.94 L244.08,49.35 L244.27,51.99 L244.46,54.85 L244.64,57.93 L244.83,61.21 L245.02,64.68 L245.21,68.32 L245.39,72.13 L245.58,76.08 L245.77,80.17 L245.95,84.38 L246.14,88.68 L246.33,93.08 L246.52,97.54 L246.70,102.05 L246.89,106.59 L247.08,111.16 L247.27,115.72 L247.45,120.26 L247.64,124.78 L247.83,129.23 L248.02,133.62 L248.20,137.93 L248.39,142.13 L248.58,146.22 L248.76,150.17 L248.95,153.97 L249.14,157.61 L249.33,161.08 L249.51,164.35 L249.70,167.42 L249.89,170.28 L250.08,172.92 L250.26,175.32 L250.45,177.47 L250.64,179.38 L250.82,181.02 L251.01,182.40 L251.20,183.51 L251.39,184.35 L251.57,184.90 L251.76,185.18 L251.95,185.18 L252.14,184.89 L252.32,184.32 L252.51,183.48 L252.70,182.36 L252.88,180.98 L253.07,179.32 L253.26,177.41 L253.45,175.25 L253.63,172.84 L253.82,170.20 L254.01,167.33 L254.20,164.25 L254.38,160.97 L254.57,157.50 L254.76,153.86 L254.94,150.05 L255.13,146.09 L255.32,142.00 L255.51,137.80 L255.69,133.49 L255.88,129.10 L256.07,124.64 L256.26,120.13 L256.44,115.58 L256.63,111.02 L256.82,106.45 L257.00,101.91 L257.19,97.40 L257.38,92.94 L257.57,88.55 L257.75,84.25 L257.94,80.04 L258.13,75.96 L258.32,72.01 L258.50,68.21 L258.69,64.57 L258.88,61.10 L259.06,57.83 L259.25,54.76 L259.44,51.90 L259.63,49.27 L259.81,46.87 L260.00,44.72 L260.19,42.81 L260.38,41.17 L260.56,39.79 L260.75,38.68 L260.94,37.85 L261.12,37.29 L261.31,37.02 L261.50,37.03 L261.69,37.31 L261.87,37.88 L262.06,38.72 L262.25,39.84 L262.44,41.23 L262.62,42.89 L262.81,44.80 L263.00,46.97 L263.18,49.38 L263.37,52.02 L263.56,54.89 L263.75,57.97 L263.93,61.25 L264.12,64.72 L264.31,68.37 L264.50,72.17 L264.68,76.13 L264.87,80.22 L265.06,84.43 L265.24,88.74 L265.43,93.13 L265.62,97.59 L265.81,102.10 L265.99,106.65 L266.18,111.21 L266.37,115.77 L266.56,120.32 L266.74,124.83 L266.93,129.29 L267.12,133.68 L267.30,137.98 L267.49,142.18 L267.68,146.26 L267.87,150.21 L268.05,154.01 L268.24,157.65 L268.43,161.12 L268.62,164.39 L268.80,167.46 L268.99,170.31 L269.18,172.95 L269.36,175.34 L269.55,177.50 L269.74,179.40 L269.93,181.04 L270.11,182.42 L270.30,183.52 L270.49,184.35 L270.68,184.91 L270.86,185.18 L271.05,185.17 L271.24,184.88 L271.42,184.32 L271.61,183.47 L271.80,182.35 L271.99,180.96 L272.17,179.30 L272.36,177.39 L272.55,175.22 L272.74,172.81 L272.92,170.16 L273.11,167.30 L273.30,164.22 L273.48,160.93 L273.67,157.46 L273.86,153.81 L274.05,150.00 L274.23,146.04 L274.42,141.95 L274.61,137.75 L274.80,133.44 L274.98,129.05 L275.17,124.58 L275.36,120.07 L275.54,115.53 L275.73,110.96 L275.92,106.40 L276.11,101.85 L276.29,97.34 L276.48,92.89 L276.67,88.50 L276.86,84.20 L277.04,80.00 L277.23,75.91 L277.42,71.96 L277.60,68.16 L277.79,64.53 L277.98,61.06 L278.17,57.79 L278.35,54.72 L278.54,51.87 L278.73,49.24 L278.92,46.84 L279.10,44.69 L279.29,42.79 L279.48,41.15 L279.66,39.78 L279.85,38.67 L280.04,37.84 L280.23,37.29 L280.41,37.02 L280.60,37.03 L280.79,37.32 L280.98,37.89 L281.16,38.74 L281.35,39.86 L281.54,41.25 L281.72,42.91 L281.91,44.83 L282.10,46.99 L282.29,49.41 L282.47,52.05 L282.66,54.92 L282.85,58.00 L283.04,61.29 L283.22,64.76 L283.41,68.41 L283.60,72.22 L283.78,76.18 L283.97,80.27 L284.16,84.48 L284.35,88.79 L284.53,93.18 L284.72,97.64 L284.91,102.15 L285.10,106.70 L285.28,111.26 L285.47,115.83 L285.66,120.37 L285.84,124.88 L286.03,129.34 L286.22,133.73 L286.41,138.03 L286.59,142.23 L286.78,146.31 L286.97,150.26 L287.16,154.06 L287.34,157.70 L287.53,161.16 L287.72,164.43 L287.90,167.49 L288.09,170.35 L288.28,172.98 L288.47,175.37 L288.65,177.52 L288.84,179.42 L289.03,181.06 L289.22,182.43 L289.40,183.53 L289.59,184.36 L289.78,184.91 L289.96,185.18 L290.15,185.17 L290.34,184.88 L290.53,184.31 L290.71,183.46 L290.90,182.33 L291.09,180.94 L291.28,179.28 L291.46,177.36 L291.65,175.19 L291.84,172.78 L292.03,170.13 L292.21,167.26 L292.40,164.18 L292.59,160.89 L292.77,157.42 L292.96,153.77 L293.15,149.96 L293.34,146.00 L293.52,141.91 L293.71,137.70 L293.90,133.39 L294.09,128.99 L294.27,124.53 L294.46,120.02 L294.65,115.47 L294.83,110.91 L295.02,106.35 L295.21,101.80 L295.40,97.29 L295.58,92.83 L295.77,88.45 L295.96,84.15 L296.15,79.95 L296.33,75.87 L296.52,71.92 L296.71,68.12 L296.89,64.48 L297.08,61.02 L297.27,57.76 L297.46,54.69 L297.64,51.84 L297.83,49.21 L298.02,46.82 L298.21,44.67 L298.39,42.77 L298.58,41.13 L298.77,39.76 L298.95,38.66 L299.14,37.83 L299.33,37.29 L299.52,37.02 L299.70,37.03 L299.89,37.32 L300.08,37.90 L300.27,38.75 L300.45,39.87 L300.64,41.27 L300.83,42.93 L301.01,44.85 L301.20,47.02 L301.39,49.44 L301.58,52.08 L301.76,54.96 L301.95,58.04 L302.14,61.33 L302.33,64.80 L302.51,68.45 L302.70,72.27 L302.89,76.23 L303.07,80.32 L303.26,84.53 L303.45,88.84 L303.64,93.23 L303.82,97.70 L304.01,102.21 L304.20,106.76 L304.39,111.32 L304.57,115.88 L304.76,120.43 L304.95,124.93 L305.13,129.39 L305.32,133.78 L305.51,138.08 L305.70,142.28 L305.88,146.36 L306.07,150.31 L306.26,154.10 L306.45,157.74 L306.63,161.20 L306.82,164.46 L307.01,167.53 L307.19,170.38 L307.38,173.01 L307.57,175.40 L307.76,177.54 L307.94,179.44 L308.13,181.08 L308.32,182.45 L308.51,183.55 L308.69,184.37 L308.88,184.92 L309.07,185.18 L309.25,185.17 L309.44,184.87 L309.63,184.30 L309.82,183.45 L310.00,182.32 L310.19,180.92 L310.38,179.26 L310.57,177.34 L310.75,175.16 L310.94,172.75 L311.13,170.10 L311.31,167.23 L311.50,164.14 L311.69,160.85 L311.88,157.38 L312.06,153.72 L312.25,149.91 L312.44,145.95 L312.63,141.86 L312.81,137.65 L313.00,133.34" stroke="#EB3D2B" stroke-width="2.1" fill="none" stroke-linejoin="round"/>
<path d="M48.29,29.66h6.20v7.40h-6.20z M50.79,30.93h1.2v4.84h-1.2z M48.59,30.43h5.6v1.0h-5.6z M48.59,35.28h5.6v1.0h-5.6z M50.29,44.77h6.20v7.40h-6.20z M52.79,46.02h1.2v4.90h-1.2z M50.59,45.52h5.6v1.0h-5.6z M50.59,50.42h5.6v1.0h-5.6z M52.29,79.40h6.20v7.40h-6.20z M54.79,80.61h1.2v4.99h-1.2z M52.59,80.11h5.6v1.0h-5.6z M52.59,85.10h5.6v1.0h-5.6z M54.29,128.25h6.20v7.40h-6.20z M56.79,129.40h1.2v5.11h-1.2z M54.59,128.90h5.6v1.0h-5.6z M54.59,134.01h5.6v1.0h-5.6z M56.29,169.69h6.20v7.40h-6.20z M58.79,170.77h1.2v5.24h-1.2z M56.59,170.27h5.6v1.0h-5.6z M56.59,175.51h5.6v1.0h-5.6z M58.29,182.89h6.20v7.40h-6.20z M60.79,183.90h1.2v5.39h-1.2z M58.59,183.40h5.6v1.0h-5.6z M58.59,188.79h5.6v1.0h-5.6z M60.29,164.83h6.20v7.40h-6.20z M62.79,165.75h1.2v5.56h-1.2z M60.59,165.25h5.6v1.0h-5.6z M60.59,170.82h5.6v1.0h-5.6z M62.29,126.01h6.20v7.40h-6.20z M64.79,126.84h1.2v5.74h-1.2z M62.59,126.34h5.6v1.0h-5.6z M62.59,132.08h5.6v1.0h-5.6z M64.29,76.70h6.20v7.40h-6.20z M66.79,77.43h1.2v5.94h-1.2z M64.59,76.93h5.6v1.0h-5.6z M64.59,82.86h5.6v1.0h-5.6z M66.29,47.86h6.20v7.40h-6.20z M68.79,48.48h1.2v6.14h-1.2z M66.59,47.98h5.6v1.0h-5.6z M66.59,54.13h5.6v1.0h-5.6z M68.29,40.88h6.20v7.40h-6.20z M70.79,41.40h1.2v6.36h-1.2z M68.59,40.90h5.6v1.0h-5.6z M68.59,47.26h5.6v1.0h-5.6z M70.29,63.27h6.20v7.40h-6.20z M72.79,63.67h1.2v6.59h-1.2z M70.59,63.17h5.6v1.0h-5.6z M70.59,69.76h5.6v1.0h-5.6z M72.29,100.79h6.20v7.40h-6.20z M74.79,101.07h1.2v6.83h-1.2z M72.59,100.57h5.6v1.0h-5.6z M72.59,107.41h5.6v1.0h-5.6z M74.29,140.59h6.20v7.40h-6.20z M76.79,140.75h1.2v7.08h-1.2z M74.59,140.25h5.6v1.0h-5.6z M74.59,147.33h5.6v1.0h-5.6z M76.29,158.79h6.20v7.40h-6.20z M78.79,158.82h1.2v7.34h-1.2z M76.59,158.32h5.6v1.0h-5.6z M76.59,165.66h5.6v1.0h-5.6z M78.29,162.10h6.20v7.40h-6.20z M80.79,161.99h1.2v7.61h-1.2z M78.59,161.49h5.6v1.0h-5.6z M78.59,169.10h5.6v1.0h-5.6z M80.29,138.45h6.20v7.40h-6.20z M82.79,138.21h1.2v7.89h-1.2z M80.59,137.71h5.6v1.0h-5.6z M80.59,145.60h5.6v1.0h-5.6z M82.29,108.17h6.20v7.40h-6.20z M84.79,107.78h1.2v8.18h-1.2z M82.59,107.28h5.6v1.0h-5.6z M82.59,115.46h5.6v1.0h-5.6z M84.29,80.11h6.20v7.40h-6.20z M86.79,79.58h1.2v8.47h-1.2z M84.59,79.08h5.6v1.0h-5.6z M84.59,87.55h5.6v1.0h-5.6z M86.29,63.84h6.20v7.40h-6.20z M88.79,63.15h1.2v8.77h-1.2z M86.59,62.65h5.6v1.0h-5.6z M86.59,71.43h5.6v1.0h-5.6z M88.29,67.90h6.20v7.40h-6.20z M90.79,67.06h1.2v9.08h-1.2z M88.59,66.56h5.6v1.0h-5.6z M88.59,75.64h5.6v1.0h-5.6z M90.29,85.60h6.20v7.40h-6.20z M92.79,84.60h1.2v9.40h-1.2z M90.59,84.10h5.6v1.0h-5.6z M90.59,93.50h5.6v1.0h-5.6z M92.29,111.94h6.20v7.40h-6.20z M94.79,110.77h1.2v9.73h-1.2z M92.59,110.27h5.6v1.0h-5.6z M92.59,120.00h5.6v1.0h-5.6z M94.29,132.78h6.20v7.40h-6.20z M96.79,131.45h1.2v10.07h-1.2z M94.59,130.95h5.6v1.0h-5.6z M94.59,141.01h5.6v1.0h-5.6z M96.29,144.44h6.20v7.40h-6.20z M98.79,142.94h1.2v10.41h-1.2z M96.59,142.44h5.6v1.0h-5.6z M96.59,152.85h5.6v1.0h-5.6z M98.29,137.82h6.20v7.40h-6.20z M100.79,136.15h1.2v10.76h-1.2z M98.59,135.65h5.6v1.0h-5.6z M98.59,146.40h5.6v1.0h-5.6z M100.29,115.91h6.20v7.40h-6.20z M102.79,114.06h1.2v11.11h-1.2z M100.59,113.56h5.6v1.0h-5.6z M100.59,124.67h5.6v1.0h-5.6z M102.29,103.73h6.20v7.40h-6.20z M104.79,101.70h1.2v11.47h-1.2z M102.59,101.20h5.6v1.0h-5.6z M102.59,112.67h5.6v1.0h-5.6z M104.29,91.11h6.20v7.40h-6.20z M106.79,88.89h1.2v11.84h-1.2z M104.59,88.39h5.6v1.0h-5.6z M104.59,100.23h5.6v1.0h-5.6z M106.29,82.91h6.20v7.40h-6.20z M108.79,80.50h1.2v12.22h-1.2z M106.59,80.00h5.6v1.0h-5.6z M106.59,92.22h5.6v1.0h-5.6z M108.29,85.15h6.20v7.40h-6.20z M110.79,82.55h1.2v12.60h-1.2z M108.59,82.05h5.6v1.0h-5.6z M108.59,94.65h5.6v1.0h-5.6z M110.29,104.69h6.20v7.40h-6.20z M112.79,101.90h1.2v12.99h-1.2z M110.59,101.40h5.6v1.0h-5.6z M110.59,114.39h5.6v1.0h-5.6z M112.29,113.46h6.20v7.40h-6.20z M114.79,110.46h1.2v13.38h-1.2z M112.59,109.96h5.6v1.0h-5.6z M112.59,123.35h5.6v1.0h-5.6z M114.29,123.02h6.20v7.40h-6.20z M116.79,119.83h1.2v13.79h-1.2z M114.59,119.33h5.6v1.0h-5.6z M114.59,133.12h5.6v1.0h-5.6z M116.29,128.20h6.20v7.40h-6.20z M118.79,124.81h1.2v14.19h-1.2z M116.59,124.31h5.6v1.0h-5.6z M116.59,138.50h5.6v1.0h-5.6z M118.29,116.38h6.20v7.40h-6.20z M118.49,112.78h5.8v14.61h-5.8z M120.29,110.83h6.20v7.40h-6.20z M120.49,107.02h5.8v15.02h-5.8z M122.29,102.74h6.20v7.40h-6.20z M122.49,98.71h5.8v15.45h-5.8z M124.29,100.49h6.20v7.40h-6.20z M124.49,96.25h5.8v15.88h-5.8z M126.29,96.08h6.20v7.40h-6.20z M126.49,91.62h5.8v16.32h-5.8z M128.29,102.41h6.20v7.40h-6.20z M128.49,97.73h5.8v16.76h-5.8z M130.29,106.20h6.20v7.40h-6.20z M130.49,101.30h5.8v17.21h-5.8z M132.29,114.23h6.20v7.40h-6.20z M132.49,109.10h5.8v17.66h-5.8z M134.29,117.50h6.20v7.40h-6.20z M134.49,112.14h5.8v18.12h-5.8z M136.29,109.09h6.20v7.40h-6.20z M136.49,103.50h5.8v18.58h-5.8z M138.29,113.38h6.20v7.40h-6.20z M138.49,107.55h5.8v19.05h-5.8z M140.29,107.44h6.20v7.40h-6.20z M140.49,101.46h5.8v19.36h-5.8z M142.29,105.53h6.20v7.40h-6.20z M142.49,99.55h5.8v19.36h-5.8z M144.29,105.06h6.20v7.40h-6.20z M144.49,99.08h5.8v19.36h-5.8z M146.29,105.01h6.20v7.40h-6.20z M146.49,99.03h5.8v19.36h-5.8z M148.29,102.22h6.20v7.40h-6.20z M148.49,96.24h5.8v19.36h-5.8z M150.29,107.47h6.20v7.40h-6.20z M150.49,101.49h5.8v19.36h-5.8z M152.29,109.04h6.20v7.40h-6.20z M152.49,103.06h5.8v19.36h-5.8z M154.29,109.91h6.20v7.40h-6.20z M154.49,103.93h5.8v19.36h-5.8z M156.29,106.36h6.20v7.40h-6.20z M156.49,100.38h5.8v19.36h-5.8z M158.29,107.49h6.20v7.40h-6.20z M158.49,101.51h5.8v19.36h-5.8z M160.29,107.18h6.20v7.40h-6.20z M160.49,101.20h5.8v19.36h-5.8z M162.29,108.85h6.20v7.40h-6.20z M162.49,102.87h5.8v19.36h-5.8z M164.29,110.35h6.20v7.40h-6.20z M164.49,104.37h5.8v19.36h-5.8z M166.29,101.59h6.20v7.40h-6.20z M166.49,95.61h5.8v19.36h-5.8z M168.29,101.76h6.20v7.40h-6.20z M168.49,95.78h5.8v19.36h-5.8z M170.29,106.60h6.20v7.40h-6.20z M170.49,100.62h5.8v19.36h-5.8z M172.29,105.62h6.20v7.40h-6.20z M172.49,99.64h5.8v19.36h-5.8z M174.29,106.11h6.20v7.40h-6.20z M174.49,100.13h5.8v19.36h-5.8z M176.29,106.74h6.20v7.40h-6.20z M176.49,100.76h5.8v19.36h-5.8z M178.29,106.43h6.20v7.40h-6.20z M178.49,100.45h5.8v19.36h-5.8z M180.29,110.44h6.20v7.40h-6.20z M180.49,104.46h5.8v19.36h-5.8z M182.29,102.30h6.20v7.40h-6.20z M182.49,96.32h5.8v19.36h-5.8z M184.29,110.57h6.20v7.40h-6.20z M184.49,104.59h5.8v19.36h-5.8z M186.29,102.32h6.20v7.40h-6.20z M186.49,96.34h5.8v19.36h-5.8z M188.29,103.44h6.20v7.40h-6.20z M188.49,97.46h5.8v19.36h-5.8z M190.29,102.76h6.20v7.40h-6.20z M190.49,96.78h5.8v19.36h-5.8z M192.29,100.48h6.20v7.40h-6.20z M192.49,94.50h5.8v19.36h-5.8z M194.29,103.20h6.20v7.40h-6.20z M194.49,97.22h5.8v19.36h-5.8z M196.29,113.36h6.20v7.40h-6.20z M196.49,107.38h5.8v19.36h-5.8z M198.29,115.54h6.20v7.40h-6.20z M198.49,109.56h5.8v19.36h-5.8z M200.29,106.29h6.20v7.40h-6.20z M200.49,100.31h5.8v19.36h-5.8z M202.29,111.50h6.20v7.40h-6.20z M202.49,105.52h5.8v19.36h-5.8z M204.29,106.65h6.20v7.40h-6.20z M204.49,100.67h5.8v19.36h-5.8z M206.29,102.61h6.20v7.40h-6.20z M206.49,96.63h5.8v19.36h-5.8z M208.29,110.85h6.20v7.40h-6.20z M208.49,104.87h5.8v19.36h-5.8z M210.29,112.90h6.20v7.40h-6.20z M210.49,106.92h5.8v19.36h-5.8z M212.29,105.76h6.20v7.40h-6.20z M212.49,99.78h5.8v19.36h-5.8z M214.29,107.87h6.20v7.40h-6.20z M214.49,101.89h5.8v19.36h-5.8z M216.29,110.02h6.20v7.40h-6.20z M216.49,104.04h5.8v19.36h-5.8z M218.29,109.53h6.20v7.40h-6.20z M218.49,103.55h5.8v19.36h-5.8z M220.29,112.33h6.20v7.40h-6.20z M220.49,106.35h5.8v19.36h-5.8z M222.29,113.57h6.20v7.40h-6.20z M222.49,107.59h5.8v19.36h-5.8z M224.29,107.52h6.20v7.40h-6.20z M224.49,101.54h5.8v19.36h-5.8z M226.29,109.13h6.20v7.40h-6.20z M226.49,103.15h5.8v19.36h-5.8z M228.29,110.87h6.20v7.40h-6.20z M228.49,104.89h5.8v19.36h-5.8z M230.29,103.62h6.20v7.40h-6.20z M230.49,97.64h5.8v19.36h-5.8z M232.29,106.56h6.20v7.40h-6.20z M232.49,100.58h5.8v19.36h-5.8z M234.29,106.28h6.20v7.40h-6.20z M234.49,100.30h5.8v19.36h-5.8z M236.29,112.38h6.20v7.40h-6.20z M236.49,106.40h5.8v19.36h-5.8z M238.29,111.91h6.20v7.40h-6.20z M238.49,105.93h5.8v19.36h-5.8z M240.29,112.97h6.20v7.40h-6.20z M240.49,106.99h5.8v19.36h-5.8z M242.29,111.69h6.20v7.40h-6.20z M242.49,105.71h5.8v19.36h-5.8z M244.29,106.60h6.20v7.40h-6.20z M244.49,100.62h5.8v19.36h-5.8z M246.29,108.72h6.20v7.40h-6.20z M246.49,102.74h5.8v19.36h-5.8z M248.29,103.99h6.20v7.40h-6.20z M248.49,98.01h5.8v19.36h-5.8z M250.29,104.07h6.20v7.40h-6.20z M250.49,98.09h5.8v19.36h-5.8z M252.29,99.01h6.20v7.40h-6.20z M252.49,93.03h5.8v19.36h-5.8z M254.29,112.20h6.20v7.40h-6.20z M254.49,106.22h5.8v19.36h-5.8z M256.29,105.58h6.20v7.40h-6.20z M256.49,99.60h5.8v19.36h-5.8z M258.29,109.83h6.20v7.40h-6.20z M258.49,103.85h5.8v19.36h-5.8z M260.29,109.65h6.20v7.40h-6.20z M260.49,103.67h5.8v19.36h-5.8z M262.29,113.92h6.20v7.40h-6.20z M262.49,107.94h5.8v19.36h-5.8z M264.29,109.22h6.20v7.40h-6.20z M264.49,103.24h5.8v19.36h-5.8z M266.29,103.69h6.20v7.40h-6.20z M266.49,97.71h5.8v19.36h-5.8z M268.29,105.63h6.20v7.40h-6.20z M268.49,99.65h5.8v19.36h-5.8z M270.29,104.88h6.20v7.40h-6.20z M270.49,98.90h5.8v19.36h-5.8z M272.29,106.81h6.20v7.40h-6.20z M272.49,100.83h5.8v19.36h-5.8z M274.29,103.00h6.20v7.40h-6.20z M274.49,97.02h5.8v19.36h-5.8z M276.29,108.44h6.20v7.40h-6.20z M276.49,102.46h5.8v19.36h-5.8z M278.29,117.03h6.20v7.40h-6.20z M278.49,111.05h5.8v19.36h-5.8z M280.29,112.07h6.20v7.40h-6.20z M280.49,106.09h5.8v19.36h-5.8z M282.29,115.97h6.20v7.40h-6.20z M282.49,109.99h5.8v19.36h-5.8z M284.29,119.26h6.20v7.40h-6.20z M284.49,113.28h5.8v19.36h-5.8z M286.29,108.43h6.20v7.40h-6.20z M286.49,102.45h5.8v19.36h-5.8z M288.29,100.88h6.20v7.40h-6.20z M288.49,94.90h5.8v19.36h-5.8z M290.29,104.97h6.20v7.40h-6.20z M290.49,98.99h5.8v19.36h-5.8z M292.29,109.65h6.20v7.40h-6.20z M292.49,103.67h5.8v19.36h-5.8z M294.29,109.95h6.20v7.40h-6.20z M294.49,103.97h5.8v19.36h-5.8z M296.29,104.12h6.20v7.40h-6.20z M296.49,98.14h5.8v19.36h-5.8z M298.29,108.64h6.20v7.40h-6.20z M298.49,102.66h5.8v19.36h-5.8z M300.29,109.50h6.20v7.40h-6.20z M300.49,103.52h5.8v19.36h-5.8z M302.29,109.51h6.20v7.40h-6.20z M302.49,103.53h5.8v19.36h-5.8z M304.29,108.14h6.20v7.40h-6.20z M304.49,102.16h5.8v19.36h-5.8z M306.29,104.11h6.20v7.40h-6.20z M306.49,98.13h5.8v19.36h-5.8z M308.29,103.80h6.20v7.40h-6.20z M308.49,97.82h5.8v19.36h-5.8z M310.29,104.40h6.20v7.40h-6.20z M310.49,98.42h5.8v19.36h-5.8z" fill="#69A9D7"/>
<path d="M51.00,34.90 L51.19,34.10 L51.37,33.59 L51.56,33.36 L51.75,33.43 L51.94,33.78 L52.12,34.42 L52.31,35.35 L52.50,36.56 L52.69,38.05 L52.87,39.81 L53.06,41.83 L53.25,44.12 L53.43,46.65 L53.62,49.42 L53.81,52.41 L54.00,55.63 L54.18,59.05 L54.37,62.66 L54.56,66.45 L54.75,70.40 L54.93,74.50 L55.12,78.74 L55.31,83.09 L55.49,87.54 L55.68,92.07 L55.87,96.67 L56.06,101.32 L56.24,106.00 L56.43,110.69 L56.62,115.37 L56.81,120.04 L56.99,124.66 L57.18,129.23 L57.37,133.72 L57.55,138.12 L57.74,142.42 L57.93,146.59 L58.12,150.62 L58.30,154.49 L58.49,158.20 L58.68,161.72 L58.87,165.05 L59.05,168.17 L59.24,171.08 L59.43,173.75 L59.61,176.18 L59.80,178.37 L59.99,180.30 L60.18,181.97 L60.36,183.36 L60.55,184.49 L60.74,185.34 L60.93,185.91 L61.11,186.21 L61.30,186.22 L61.49,185.95 L61.67,185.40 L61.86,184.58 L62.05,183.49 L62.24,182.12 L62.42,180.50 L62.61,178.63 L62.80,176.51 L62.99,174.15 L63.17,171.56 L63.36,168.76 L63.55,165.75 L63.73,162.55 L63.92,159.17 L64.11,155.62 L64.30,151.91 L64.48,148.07 L64.67,144.10 L64.86,140.02 L65.05,135.85 L65.23,131.61 L65.42,127.30 L65.61,122.95 L65.79,118.57 L65.98,114.18 L66.17,109.80 L66.36,105.44 L66.54,101.12 L66.73,96.85 L66.92,92.65 L67.11,88.54 L67.29,84.54 L67.48,80.64 L67.67,76.88 L67.85,73.26 L68.04,69.80 L68.23,66.51 L68.42,63.40 L68.60,60.49 L68.79,57.77 L68.98,55.27 L69.17,52.98 L69.35,50.93 L69.54,49.11 L69.73,47.52 L69.91,46.19 L70.10,45.10 L70.29,44.26 L70.48,43.68 L70.66,43.35 L70.85,43.28 L71.04,43.45 L71.23,43.88 L71.41,44.56 L71.60,45.49 L71.79,46.65 L71.97,48.04 L72.16,49.67 L72.35,51.51 L72.54,53.56 L72.72,55.82 L72.91,58.27 L73.10,60.90 L73.29,63.71 L73.47,66.67 L73.66,69.79 L73.85,73.04 L74.04,76.41 L74.22,79.88 L74.41,83.46 L74.60,87.11 L74.78,90.83 L74.97,94.61 L75.16,98.42 L75.35,102.25 L75.53,106.09 L75.72,109.93 L75.91,113.74 L76.10,117.52 L76.28,121.25 L76.47,124.92 L76.66,128.51 L76.84,132.01 L77.03,135.41 L77.22,138.69 L77.41,141.85 L77.59,144.87 L77.78,147.75 L77.97,150.46 L78.16,153.02 L78.34,155.39 L78.53,157.59 L78.72,159.59 L78.90,161.40 L79.09,163.01 L79.28,164.41 L79.47,165.60 L79.65,166.58 L79.84,167.34 L80.03,167.89 L80.22,168.23 L80.40,168.35 L80.59,168.25 L80.78,167.94 L80.96,167.42 L81.15,166.70 L81.34,165.77 L81.53,164.65 L81.71,163.33 L81.90,161.83 L82.09,160.16 L82.28,158.32 L82.46,156.31 L82.65,154.15 L82.84,151.85 L83.02,149.42 L83.21,146.87 L83.40,144.20 L83.59,141.43 L83.77,138.58 L83.96,135.64 L84.15,132.64 L84.34,129.59 L84.52,126.49 L84.71,123.37 L84.90,120.22 L85.08,117.07 L85.27,113.93 L85.46,110.80 L85.65,107.71 L85.83,104.65 L86.02,101.65 L86.21,98.71 L86.40,95.85 L86.58,93.07 L86.77,90.38 L86.96,87.79 L87.14,85.32 L87.33,82.96 L87.52,80.74 L87.71,78.65 L87.89,76.70 L88.08,74.90 L88.27,73.25 L88.46,71.75 L88.64,70.42 L88.83,69.26 L89.02,68.26 L89.20,67.44 L89.39,66.78 L89.58,66.30 L89.77,65.99 L89.95,65.85 L90.14,65.88 L90.33,66.08 L90.52,66.45 L90.70,66.97 L90.89,67.66 L91.08,68.51 L91.26,69.50 L91.45,70.64 L91.64,71.92 L91.83,73.33 L92.01,74.86 L92.20,76.52 L92.39,78.29 L92.58,80.16 L92.76,82.12 L92.95,84.17 L93.14,86.30 L93.32,88.50 L93.51,90.76 L93.70,93.07 L93.89,95.42 L94.07,97.81 L94.26,100.21 L94.45,102.63 L94.64,105.06 L94.82,107.47 L95.01,109.88 L95.20,112.26 L95.38,114.61 L95.57,116.92 L95.76,119.18 L95.95,121.38 L96.13,123.52 L96.32,125.59 L96.51,127.58 L96.70,129.48 L96.88,131.30 L97.07,133.01 L97.26,134.62 L97.44,136.13 L97.63,137.52 L97.82,138.80 L98.01,139.96 L98.19,141.00 L98.38,141.91 L98.57,142.70 L98.76,143.35 L98.94,143.88 L99.13,144.28 L99.32,144.56 L99.50,144.70 L99.69,144.71 L99.88,144.60 L100.07,144.37 L100.25,144.01 L100.44,143.54 L100.63,142.95 L100.82,142.25 L101.00,141.44 L101.19,140.53 L101.38,139.52 L101.56,138.42 L101.75,137.23 L101.94,135.95 L102.13,134.61 L102.31,133.19 L102.50,131.70 L102.69,130.17 L102.88,128.57 L103.06,126.94 L103.25,125.27 L103.44,123.57 L103.62,121.84 L103.81,120.10 L104.00,118.34 L104.19,116.59 L104.37,114.83 L104.56,113.09 L104.75,111.36 L104.94,109.66 L105.12,107.99 L105.31,106.35 L105.50,104.75 L105.68,103.19 L105.87,101.69 L106.06,100.24 L106.25,98.86 L106.43,97.54 L106.62,96.29 L106.81,95.11 L107.00,94.01 L107.18,92.99 L107.37,92.05 L107.56,91.19 L107.74,90.42 L107.93,89.74 L108.12,89.15 L108.31,88.65 L108.49,88.24 L108.68,87.92 L108.87,87.70 L109.06,87.56 L109.24,87.52 L109.43,87.56 L109.62,87.69 L109.80,87.90 L109.99,88.20 L110.18,88.58 L110.37,89.04 L110.55,89.57 L110.74,90.18 L110.93,90.85 L111.12,91.59 L111.30,92.39 L111.49,93.25 L111.68,94.16 L111.86,95.13 L112.05,96.13 L112.24,97.18 L112.43,98.26 L112.61,99.38 L112.80,100.52 L112.99,101.68 L113.18,102.86 L113.36,104.06 L113.55,105.26 L113.74,106.46 L113.92,107.66 L114.11,108.86 L114.30,110.05 L114.49,111.22 L114.67,112.37 L114.86,113.50 L115.05,114.60 L115.24,115.68 L115.42,116.72 L115.61,117.72 L115.80,118.68 L115.98,119.60 L116.17,120.47 L116.36,121.29 L116.55,122.06 L116.73,122.78 L116.92,123.45 L117.11,124.06 L117.30,124.61 L117.48,125.10 L117.67,125.53 L117.86,125.90 L118.05,126.21 L118.23,126.46 L118.42,126.64 L118.61,126.77 L118.79,126.84 L118.98,126.85 L119.17,126.79 L119.36,126.69 L119.54,126.52 L119.73,126.30 L119.92,126.03 L120.11,125.71 L120.29,125.34 L120.48,124.92 L120.67,124.46 L120.85,123.96 L121.04,123.42 L121.23,122.84 L121.42,122.22 L121.60,121.58 L121.79,120.91 L121.98,120.21 L122.17,119.49 L122.35,118.76 L122.54,118.00 L122.73,117.24 L122.91,116.46 L123.10,115.68 L123.29,114.89 L123.48,114.11 L123.66,113.32 L123.85,112.54 L124.04,111.77 L124.23,111.01 L124.41,110.26 L124.60,109.53 L124.79,108.82 L124.97,108.12 L125.16,107.45 L125.35,106.81 L125.54,106.19 L125.72,105.60 L125.91,105.04 L126.10,104.51 L126.29,104.01 L126.47,103.55 L126.66,103.13 L126.85,102.74 L127.03,102.39 L127.22,102.07 L127.41,101.80 L127.60,101.56 L127.78,101.36 L127.97,101.20 L128.16,101.08 L128.35,101.00 L128.53,100.96 L128.72,100.95 L128.91,100.98 L129.09,101.05 L129.28,101.15 L129.47,101.29 L129.66,101.46 L129.84,101.66 L130.03,101.89 L130.22,102.16 L130.41,102.44 L130.59,102.76 L130.78,103.10 L130.97,103.47 L131.15,103.85 L131.34,104.25 L131.53,104.68 L131.72,105.11 L131.90,105.57 L132.09,106.03 L132.28,106.50 L132.47,106.99 L132.65,107.48 L132.84,107.97 L133.03,108.47 L133.21,108.96 L133.40,109.46 L133.59,109.95 L133.78,110.44 L133.96,110.92 L134.15,111.40 L134.34,111.86 L134.53,112.32 L134.71,112.76 L134.90,113.19 L135.09,113.60 L135.27,114.00 L135.46,114.38 L135.65,114.75 L135.84,115.09 L136.02,115.41 L136.21,115.72 L136.40,116.00 L136.59,116.26 L136.77,116.49 L136.96,116.71 L137.15,116.90 L137.33,117.06 L137.52,117.21 L137.71,117.32 L137.90,117.42 L138.08,117.49 L138.27,117.54 L138.46,117.56 L138.65,117.56 L138.83,117.54 L139.02,117.50 L139.21,117.43 L139.39,117.34 L139.58,117.24 L139.77,117.11 L139.96,116.97 L140.14,116.80 L140.33,116.62 L140.52,116.43 L140.71,116.22 L140.89,115.99 L141.08,115.75 L141.27,115.50 L141.45,115.24 L141.64,114.97 L141.83,114.69 L142.02,114.40 L142.20,114.11 L142.39,113.81 L142.58,113.50 L142.77,113.19 L142.95,112.89 L143.14,112.57 L143.33,112.26 L143.51,111.95 L143.70,111.65 L143.89,111.34 L144.08,111.04 L144.26,110.74 L144.45,110.45 L144.64,110.17 L144.83,109.90 L145.01,109.63 L145.20,109.37 L145.39,109.12 L145.57,108.89 L145.76,108.66 L145.95,108.44 L146.14,108.24 L146.32,108.05 L146.51,107.88 L146.70,107.71 L146.89,107.56 L147.07,107.43 L147.26,107.31 L147.45,107.20 L147.63,107.11 L147.82,107.03 L148.01,106.97 L148.20,106.92 L148.38,106.89 L148.57,106.87 L148.76,106.86 L148.95,106.87 L149.13,106.89 L149.32,106.93 L149.51,106.98 L149.69,107.04 L149.88,107.11 L150.07,107.20 L150.26,107.30 L150.44,107.41 L150.63,107.53 L150.82,107.66 L151.01,107.79 L151.19,107.94 L151.38,108.10 L151.57,108.26 L151.75,108.43 L151.94,108.61 L152.13,108.79 L152.32,108.98 L152.50,109.17 L152.69,109.37 L152.88,109.57 L153.07,109.77 L153.25,109.97 L153.44,110.17 L153.63,110.38 L153.81,110.58 L154.00,110.78 L154.19,110.99 L154.38,111.19 L154.56,111.38 L154.75,111.58 L154.94,111.77 L155.13,111.95 L155.31,112.13 L155.50,112.31 L155.69,112.48 L155.87,112.64 L156.06,112.80 L156.25,112.95 L156.44,113.09 L156.62,113.22 L156.81,113.35 L157.00,113.47 L157.19,113.58 L157.37,113.68 L157.56,113.77 L157.75,113.85 L157.93,113.92 L158.12,113.98 L158.31,114.04 L158.50,114.08 L158.68,114.11 L158.87,114.14 L159.06,114.15 L159.25,114.15 L159.43,114.15 L159.62,114.13 L159.81,114.11 L159.99,114.08 L160.18,114.03 L160.37,113.98 L160.56,113.92 L160.74,113.86 L160.93,113.78 L161.12,113.70 L161.31,113.61 L161.49,113.51 L161.68,113.40 L161.87,113.29 L162.06,113.18 L162.24,113.06 L162.43,112.93 L162.62,112.80 L162.80,112.66 L162.99,112.52 L163.18,112.38 L163.37,112.23 L163.55,112.08 L163.74,111.93 L163.93,111.78 L164.12,111.63 L164.30,111.47 L164.49,111.32 L164.68,111.17 L164.86,111.01 L165.05,110.86 L165.24,110.71 L165.43,110.56 L165.61,110.42 L165.80,110.28 L165.99,110.14 L166.18,110.00 L166.36,109.87 L166.55,109.75 L166.74,109.63 L166.92,109.51 L167.11,109.40 L167.30,109.30 L167.49,109.20 L167.67,109.11 L167.86,109.02 L168.05,108.94 L168.24,108.87 L168.42,108.81 L168.61,108.75 L168.80,108.70 L168.98,108.66 L169.17,108.63 L169.36,108.60 L169.55,108.58 L169.73,108.57 L169.92,108.57 L170.11,108.58 L170.30,108.59 L170.48,108.61 L170.67,108.64 L170.86,108.68 L171.04,108.72 L171.23,108.77 L171.42,108.83 L171.61,108.90 L171.79,108.97 L171.98,109.04 L172.17,109.13 L172.36,109.22 L172.54,109.31 L172.73,109.42 L172.92,109.52 L173.10,109.63 L173.29,109.75 L173.48,109.87 L173.67,109.99 L173.85,110.11 L174.04,110.24 L174.23,110.37 L174.42,110.50 L174.60,110.64 L174.79,110.77 L174.98,110.91 L175.16,111.04 L175.35,111.18 L175.54,111.31 L175.73,111.45 L175.91,111.58 L176.10,111.71 L176.29,111.84 L176.48,111.97 L176.66,112.09 L176.85,112.21 L177.04,112.32 L177.22,112.44 L177.41,112.54 L177.60,112.65 L177.79,112.74 L177.97,112.84 L178.16,112.92 L178.35,113.00 L178.54,113.08 L178.72,113.14 L178.91,113.21 L179.10,113.26 L179.28,113.31 L179.47,113.35 L179.66,113.38 L179.85,113.41 L180.03,113.43 L180.22,113.44 L180.41,113.44 L180.60,113.44 L180.78,113.43 L180.97,113.41 L181.16,113.38 L181.34,113.35 L181.53,113.31 L181.72,113.26 L181.91,113.21 L182.09,113.15 L182.28,113.08 L182.47,113.00 L182.66,112.93 L182.84,112.84 L183.03,112.75 L183.22,112.65 L183.40,112.55 L183.59,112.45 L183.78,112.34 L183.97,112.22 L184.15,112.11 L184.34,111.99 L184.53,111.86 L184.72,111.74 L184.90,111.61 L185.09,111.48 L185.28,111.35 L185.46,111.22 L185.65,111.09 L185.84,110.96 L186.03,110.83 L186.21,110.70 L186.40,110.57 L186.59,110.45 L186.78,110.32 L186.96,110.20 L187.15,110.08 L187.34,109.97 L187.52,109.85 L187.71,109.75 L187.90,109.64 L188.09,109.55 L188.27,109.45 L188.46,109.37 L188.65,109.28 L188.84,109.21 L189.02,109.14 L189.21,109.07 L189.40,109.02 L189.58,108.97 L189.77,108.92 L189.96,108.89 L190.15,108.86 L190.33,108.84 L190.52,108.82 L190.71,108.82 L190.90,108.82 L191.08,108.82 L191.27,108.84 L191.46,108.86 L191.64,108.89 L191.83,108.93 L192.02,108.97 L192.21,109.02 L192.39,109.08 L192.58,109.15 L192.77,109.22 L192.96,109.29 L193.14,109.38 L193.33,109.46 L193.52,109.56 L193.70,109.66 L193.89,109.76 L194.08,109.87 L194.27,109.98 L194.45,110.09 L194.64,110.21 L194.83,110.33 L195.02,110.46 L195.20,110.58 L195.39,110.71 L195.58,110.84 L195.76,110.97 L195.95,111.10 L196.14,111.23 L196.33,111.36 L196.51,111.49 L196.70,111.62 L196.89,111.74 L197.08,111.87 L197.26,111.99 L197.45,112.10 L197.64,112.22 L197.82,112.33 L198.01,112.44 L198.20,112.54 L198.39,112.64 L198.57,112.73 L198.76,112.82 L198.95,112.90 L199.14,112.98 L199.32,113.05 L199.51,113.11 L199.70,113.17 L199.88,113.22 L200.07,113.26 L200.26,113.30 L200.45,113.33 L200.63,113.35 L200.82,113.36 L201.01,113.37 L201.20,113.37 L201.38,113.36 L201.57,113.35 L201.76,113.32 L201.94,113.29 L202.13,113.26 L202.32,113.21 L202.51,113.16 L202.69,113.10 L202.88,113.04 L203.07,112.97 L203.26,112.89 L203.44,112.81 L203.63,112.72 L203.82,112.63 L204.01,112.53 L204.19,112.42 L204.38,112.31 L204.57,112.20 L204.75,112.09 L204.94,111.97 L205.13,111.85 L205.32,111.72 L205.50,111.60 L205.69,111.47 L205.88,111.34 L206.07,111.21 L206.25,111.08 L206.44,110.95 L206.63,110.82 L206.81,110.69 L207.00,110.57 L207.19,110.44 L207.38,110.32 L207.56,110.20 L207.75,110.08 L207.94,109.96 L208.13,109.85 L208.31,109.75 L208.50,109.64 L208.69,109.55 L208.87,109.45 L209.06,109.37 L209.25,109.29 L209.44,109.21 L209.62,109.14 L209.81,109.08 L210.00,109.02 L210.19,108.98 L210.37,108.93 L210.56,108.90 L210.75,108.87 L210.93,108.85 L211.12,108.84 L211.31,108.83 L211.50,108.83 L211.68,108.84 L211.87,108.86 L212.06,108.88 L212.25,108.92 L212.43,108.95 L212.62,109.00 L212.81,109.05 L212.99,109.11 L213.18,109.18 L213.37,109.25 L213.56,109.33 L213.74,109.41 L213.93,109.50 L214.12,109.60 L214.31,109.70 L214.49,109.80 L214.68,109.91 L214.87,110.02 L215.05,110.14 L215.24,110.26 L215.43,110.38 L215.62,110.51 L215.80,110.63 L215.99,110.76 L216.18,110.89 L216.37,111.02 L216.55,111.15 L216.74,111.28 L216.93,111.41 L217.11,111.54 L217.30,111.67 L217.49,111.79 L217.68,111.91 L217.86,112.03 L218.05,112.15 L218.24,112.26 L218.43,112.37 L218.61,112.48 L218.80,112.58 L218.99,112.68 L219.17,112.77 L219.36,112.85 L219.55,112.93 L219.74,113.01 L219.92,113.07 L220.11,113.14 L220.30,113.19 L220.49,113.24 L220.67,113.28 L220.86,113.31 L221.05,113.34 L221.23,113.35 L221.42,113.36 L221.61,113.37 L221.80,113.36 L221.98,113.35 L222.17,113.33 L222.36,113.31 L222.55,113.27 L222.73,113.23 L222.92,113.19 L223.11,113.13 L223.29,113.07 L223.48,113.00 L223.67,112.93 L223.86,112.85 L224.04,112.76 L224.23,112.67 L224.42,112.57 L224.61,112.47 L224.79,112.37 L224.98,112.26 L225.17,112.14 L225.35,112.03 L225.54,111.91 L225.73,111.78 L225.92,111.66 L226.10,111.53 L226.29,111.40 L226.48,111.27 L226.67,111.14 L226.85,111.01 L227.04,110.88 L227.23,110.75 L227.41,110.62 L227.60,110.50 L227.79,110.37 L227.98,110.25 L228.16,110.13 L228.35,110.02 L228.54,109.90 L228.73,109.80 L228.91,109.69 L229.10,109.59 L229.29,109.50 L229.47,109.41 L229.66,109.32 L229.85,109.24 L230.04,109.17 L230.22,109.11 L230.41,109.05 L230.60,109.00 L230.79,108.95 L230.97,108.91 L231.16,108.88 L231.35,108.86 L231.53,108.84 L231.72,108.83 L231.91,108.83 L232.10,108.84 L232.28,108.85 L232.47,108.87 L232.66,108.90 L232.85,108.94 L233.03,108.98 L233.22,109.03 L233.41,109.09 L233.59,109.15 L233.78,109.22 L233.97,109.29 L234.16,109.38 L234.34,109.46 L234.53,109.56 L234.72,109.65 L234.91,109.76 L235.09,109.86 L235.28,109.98 L235.47,110.09 L235.65,110.21 L235.84,110.33 L236.03,110.45 L236.22,110.58 L236.40,110.71 L236.59,110.84 L236.78,110.97 L236.97,111.10 L237.15,111.23 L237.34,111.36 L237.53,111.48 L237.71,111.61 L237.90,111.74 L238.09,111.86 L238.28,111.98 L238.46,112.10 L238.65,112.22 L238.84,112.33 L239.03,112.44 L239.21,112.54 L239.40,112.64 L239.59,112.73 L239.77,112.82 L239.96,112.90 L240.15,112.98 L240.34,113.05 L240.52,113.11 L240.71,113.17 L240.90,113.22 L241.09,113.26 L241.27,113.30 L241.46,113.33 L241.65,113.35 L241.83,113.36 L242.02,113.37 L242.21,113.37 L242.40,113.36 L242.58,113.34 L242.77,113.32 L242.96,113.29 L243.15,113.25 L243.33,113.21 L243.52,113.16 L243.71,113.10 L243.89,113.03 L244.08,112.96 L244.27,112.88 L244.46,112.80 L244.64,112.71 L244.83,112.62 L245.02,112.52 L245.21,112.41 L245.39,112.30 L245.58,112.19 L245.77,112.08 L245.95,111.96 L246.14,111.83 L246.33,111.71 L246.52,111.58 L246.70,111.46 L246.89,111.33 L247.08,111.20 L247.27,111.07 L247.45,110.94 L247.64,110.81 L247.83,110.68 L248.02,110.55 L248.20,110.43 L248.39,110.30 L248.58,110.18 L248.76,110.06 L248.95,109.95 L249.14,109.84 L249.33,109.73 L249.51,109.63 L249.70,109.53 L249.89,109.44 L250.08,109.36 L250.26,109.28 L250.45,109.20 L250.64,109.13 L250.82,109.07 L251.01,109.02 L251.20,108.97 L251.39,108.93 L251.57,108.89 L251.76,108.87 L251.95,108.85 L252.14,108.84 L252.32,108.83 L252.51,108.83 L252.70,108.84 L252.88,108.86 L253.07,108.89 L253.26,108.92 L253.45,108.96 L253.63,109.01 L253.82,109.06 L254.01,109.12 L254.20,109.19 L254.38,109.26 L254.57,109.34 L254.76,109.43 L254.94,109.52 L255.13,109.61 L255.32,109.71 L255.51,109.82 L255.69,109.93 L255.88,110.04 L256.07,110.16 L256.26,110.28 L256.44,110.40 L256.63,110.53 L256.82,110.65 L257.00,110.78 L257.19,110.91 L257.38,111.04 L257.57,111.17 L257.75,111.30 L257.94,111.43 L258.13,111.56 L258.32,111.69 L258.50,111.81 L258.69,111.93 L258.88,112.05 L259.06,112.17 L259.25,112.28 L259.44,112.39 L259.63,112.50 L259.81,112.60 L260.00,112.69 L260.19,112.78 L260.38,112.87 L260.56,112.95 L260.75,113.02 L260.94,113.09 L261.12,113.14 L261.31,113.20 L261.50,113.24 L261.69,113.28 L261.87,113.31 L262.06,113.34 L262.25,113.36 L262.44,113.37 L262.62,113.37 L262.81,113.36 L263.00,113.35 L263.18,113.33 L263.37,113.30 L263.56,113.27 L263.75,113.23 L263.93,113.18 L264.12,113.12 L264.31,113.06 L264.50,112.99 L264.68,112.92 L264.87,112.83 L265.06,112.75 L265.24,112.66 L265.43,112.56 L265.62,112.46 L265.81,112.35 L265.99,112.24 L266.18,112.12 L266.37,112.01 L266.56,111.88 L266.74,111.76 L266.93,111.64 L267.12,111.51 L267.30,111.38 L267.49,111.25 L267.68,111.12 L267.87,110.99 L268.05,110.86 L268.24,110.73 L268.43,110.60 L268.62,110.48 L268.80,110.35 L268.99,110.23 L269.18,110.11 L269.36,110.00 L269.55,109.88 L269.74,109.78 L269.93,109.67 L270.11,109.57 L270.30,109.48 L270.49,109.39 L270.68,109.31 L270.86,109.23 L271.05,109.16 L271.24,109.10 L271.42,109.04 L271.61,108.99 L271.80,108.94 L271.99,108.91 L272.17,108.88 L272.36,108.85 L272.55,108.84 L272.74,108.83 L272.92,108.83 L273.11,108.84 L273.30,108.85 L273.48,108.88 L273.67,108.91 L273.86,108.94 L274.05,108.99 L274.23,109.04 L274.42,109.10 L274.61,109.16 L274.80,109.23 L274.98,109.31 L275.17,109.39 L275.36,109.48 L275.54,109.57 L275.73,109.67 L275.92,109.78 L276.11,109.88 L276.29,110.00 L276.48,110.11 L276.67,110.23 L276.86,110.35 L277.04,110.48 L277.23,110.60 L277.42,110.73 L277.60,110.86 L277.79,110.99 L277.98,111.12 L278.17,111.25 L278.35,111.38 L278.54,111.51 L278.73,111.63 L278.92,111.76 L279.10,111.88 L279.29,112.00 L279.48,112.12 L279.66,112.24 L279.85,112.35 L280.04,112.45 L280.23,112.56 L280.41,112.65 L280.60,112.75 L280.79,112.83 L280.98,112.91 L281.16,112.99 L281.35,113.06 L281.54,113.12 L281.72,113.18 L281.91,113.23 L282.10,113.27 L282.29,113.30 L282.47,113.33 L282.66,113.35 L282.85,113.36 L283.04,113.37 L283.22,113.37 L283.41,113.36 L283.60,113.34 L283.78,113.32 L283.97,113.28 L284.16,113.24 L284.35,113.20 L284.53,113.15 L284.72,113.09 L284.91,113.02 L285.10,112.95 L285.28,112.87 L285.47,112.78 L285.66,112.69 L285.84,112.60 L286.03,112.50 L286.22,112.39 L286.41,112.28 L286.59,112.17 L286.78,112.05 L286.97,111.93 L287.16,111.81 L287.34,111.69 L287.53,111.56 L287.72,111.43 L287.90,111.30 L288.09,111.17 L288.28,111.04 L288.47,110.91 L288.65,110.78 L288.84,110.65 L289.03,110.53 L289.22,110.40 L289.40,110.28 L289.59,110.16 L289.78,110.04 L289.96,109.93 L290.15,109.82 L290.34,109.71 L290.53,109.61 L290.71,109.52 L290.90,109.43 L291.09,109.34 L291.28,109.26 L291.46,109.19 L291.65,109.12 L291.84,109.06 L292.03,109.01 L292.21,108.96 L292.40,108.92 L292.59,108.89 L292.77,108.86 L292.96,108.84 L293.15,108.83 L293.34,108.83 L293.52,108.84 L293.71,108.85 L293.90,108.87 L294.09,108.89 L294.27,108.93 L294.46,108.97 L294.65,109.02 L294.83,109.07 L295.02,109.13 L295.21,109.20 L295.40,109.28 L295.58,109.36 L295.77,109.44 L295.96,109.53 L296.15,109.63 L296.33,109.73 L296.52,109.84 L296.71,109.95 L296.89,110.06 L297.08,110.18 L297.27,110.30 L297.46,110.42 L297.64,110.55 L297.83,110.68 L298.02,110.81 L298.21,110.94 L298.39,111.07 L298.58,111.20 L298.77,111.33 L298.95,111.45 L299.14,111.58 L299.33,111.71 L299.52,111.83 L299.70,111.96 L299.89,112.07 L300.08,112.19 L300.27,112.30 L300.45,112.41 L300.64,112.52 L300.83,112.61 L301.01,112.71 L301.20,112.80 L301.39,112.88 L301.58,112.96 L301.76,113.03 L301.95,113.10 L302.14,113.15 L302.33,113.21 L302.51,113.25 L302.70,113.29 L302.89,113.32 L303.07,113.34 L303.26,113.36 L303.45,113.37 L303.64,113.37 L303.82,113.36 L304.01,113.35 L304.20,113.33 L304.39,113.30 L304.57,113.26 L304.76,113.22 L304.95,113.17 L305.13,113.11 L305.32,113.05 L305.51,112.98 L305.70,112.90 L305.88,112.82 L306.07,112.73 L306.26,112.64 L306.45,112.54 L306.63,112.44 L306.82,112.33 L307.01,112.22 L307.19,112.10 L307.38,111.98 L307.57,111.86 L307.76,111.74 L307.94,111.61 L308.13,111.49 L308.32,111.36 L308.51,111.23 L308.69,111.10 L308.88,110.97 L309.07,110.84 L309.25,110.71 L309.44,110.58 L309.63,110.45 L309.82,110.33 L310.00,110.21 L310.19,110.09 L310.38,109.98 L310.57,109.86 L310.75,109.76 L310.94,109.65 L311.13,109.56 L311.31,109.46 L311.50,109.38 L311.69,109.29 L311.88,109.22 L312.06,109.15 L312.25,109.09 L312.44,109.03 L312.63,108.98 L312.81,108.94 L313.00,108.90" stroke="#0F54A3" stroke-width="2.2" fill="none" stroke-linejoin="round"/>
</g>
<path d="M182.00,217.00 L182.00,213.00 M182.00,5.00 L182.00,9.00 M116.50,217.00 L116.50,214.80 M116.50,5.00 L116.50,7.20 M247.50,217.00 L247.50,214.80 M247.50,5.00 L247.50,7.20 M51.00,201.85 L55.00,201.85 M51.00,171.60 L55.00,171.60 M51.00,141.35 L55.00,141.35 M51.00,111.10 L55.00,111.10 M51.00,80.85 L55.00,80.85 M51.00,50.60 L55.00,50.60 M51.00,20.35 L55.00,20.35 M51.00,186.72 L53.20,186.72 M51.00,156.47 L53.20,156.47 M51.00,126.22 L53.20,126.22 M51.00,95.97 L53.20,95.97 M51.00,65.72 L53.20,65.72 M51.00,35.47 L53.20,35.47" stroke="#222" stroke-width="1.1" fill="none"/>
<path d="M313.00,201.85 L309.00,201.85 M313.00,171.60 L309.00,171.60 M313.00,141.35 L309.00,141.35 M313.00,111.10 L309.00,111.10 M313.00,80.85 L309.00,80.85 M313.00,50.60 L309.00,50.60 M313.00,20.35 L309.00,20.35 M313.00,186.72 L310.80,186.72 M313.00,156.47 L310.80,156.47 M313.00,126.22 L310.80,126.22 M313.00,95.97 L310.80,95.97 M313.00,65.72 L310.80,65.72 M313.00,35.47 L310.80,35.47" stroke="#222" stroke-width="1.1" fill="none"/>
<path d="M313.0,5.0 L51.0,5.0 L51.0,217.0 L313.0,217.0" stroke="#222" stroke-width="1.1" fill="none" stroke-linejoin="miter" stroke-linecap="square"/>
<path d="M313.0,5.0 L313.0,217.0" stroke="#222" stroke-width="1.1" fill="none" stroke-linecap="square"/>
<text x="51.00" y="231.60" font-size="12.4" text-anchor="middle" fill="#000" font-weight="normal" font-style="normal" >0</text>
<text x="182.00" y="231.60" font-size="12.4" text-anchor="middle" fill="#000" > </text>
<path d="M181.67,231.60 L181.67,224.11 L179.74,225.48 L179.74,224.46 L181.76,223.07 L182.77,223.07 L182.77,231.60Z" fill="#000"/>
<text x="313.00" y="231.60" font-size="12.4" text-anchor="middle" fill="#000" font-weight="normal" font-style="normal" >2</text>
<text x="45.80" y="23.75" font-size="12.4" text-anchor="end" fill="#000" font-weight="normal" font-style="normal" >0.3</text>
<text x="45.80" y="54.00" font-size="12.4" text-anchor="end" fill="#000" font-weight="normal" font-style="normal" >0.2</text>
<text x="45.80" y="84.25" font-size="12.4" text-anchor="end" fill="#000" >0. </text>
<path d="M42.02,84.25 L42.02,76.76 L40.10,78.13 L40.10,77.11 L42.11,75.72 L43.12,75.72 L43.12,84.25Z" fill="#000"/>
<text x="45.80" y="114.50" font-size="12.4" text-anchor="end" fill="#000" font-weight="normal" font-style="normal" >0.0</text>
<text x="45.80" y="144.75" font-size="12.4" text-anchor="end" fill="#000" >−0. </text>
<path d="M42.02,144.75 L42.02,137.26 L40.10,138.63 L40.10,137.61 L42.11,136.22 L43.12,136.22 L43.12,144.75Z" fill="#000"/>
<text x="45.80" y="175.00" font-size="12.4" text-anchor="end" fill="#000" font-weight="normal" font-style="normal" >−0.2</text>
<text x="45.80" y="205.25" font-size="12.4" text-anchor="end" fill="#000" font-weight="normal" font-style="normal" >−0.3</text>
<text x="182.3" y="254.8" font-size="15.0" text-anchor="middle" fill="#000"><tspan font-style="italic">t</tspan> (μs)</text>
<text transform="translate(11.6,110.8) rotate(-90)" font-size="15.0" text-anchor="middle" fill="#000"><tspan font-style="italic">A</tspan><tspan font-size="10" dy="3">TF</tspan><tspan dy="-3"> (arb.u.)</tspan></text>
<rect x="205.5" y="15.8" width="6" height="6" fill="#F98B6E"/>
<rect x="258" y="15.8" width="6" height="6" fill="#69A9D7"/>
<text x="223.60" y="22.50" font-size="10.4" text-anchor="start" fill="#000" font-weight="normal" font-style="normal" >3.4 K</text>
<text x="276.30" y="22.50" font-size="10.4" text-anchor="start" fill="#000" >0.  K</text>
<path d="M287.59,22.50 L287.59,16.22 L285.97,17.37 L285.97,16.51 L287.66,15.34 L288.51,15.34 L288.51,22.50Z" fill="#000"/>
<text x="241.0" y="207.4" font-size="10.7" fill="#000">μ<tspan font-size="7.6" dy="2.6">0</tspan><tspan dy="-2.6" font-style="italic">H</tspan> = 50 mT</text>
<text x="0.30" y="14.90" font-size="13" text-anchor="start" fill="#000" font-weight="bold" font-style="normal" >a</text>
<clipPath id="cb"><rect x="51.0" y="272.5" width="262.5" height="211.7"/></clipPath>
<g clip-path="url(#cb)">
<path d="M48.26,479.86h6.00v6.00h-6.00z M48.79,478.59h6.00v6.00h-6.00z M49.31,479.55h6.00v6.00h-6.00z M49.84,478.11h6.00v6.00h-6.00z M50.36,480.01h6.00v6.00h-6.00z M50.89,479.08h6.00v6.00h-6.00z M51.41,478.97h6.00v6.00h-6.00z M51.94,480.02h6.00v6.00h-6.00z M52.46,477.55h6.00v6.00h-6.00z M52.99,477.76h6.00v6.00h-6.00z M53.51,479.30h6.00v6.00h-6.00z M54.04,478.29h6.00v6.00h-6.00z M54.56,478.60h6.00v6.00h-6.00z M55.09,481.01h6.00v6.00h-6.00z M55.61,478.68h6.00v6.00h-6.00z M56.14,478.93h6.00v6.00h-6.00z M56.66,478.80h6.00v6.00h-6.00z M57.19,479.73h6.00v6.00h-6.00z M57.71,479.06h6.00v6.00h-6.00z M58.24,478.98h6.00v6.00h-6.00z M58.76,477.87h6.00v6.00h-6.00z M59.29,478.54h6.00v6.00h-6.00z M59.81,478.81h6.00v6.00h-6.00z M60.34,477.56h6.00v6.00h-6.00z M60.86,479.23h6.00v6.00h-6.00z M61.39,479.09h6.00v6.00h-6.00z M61.91,480.23h6.00v6.00h-6.00z M62.44,477.48h6.00v6.00h-6.00z M62.96,477.96h6.00v6.00h-6.00z M63.49,477.99h6.00v6.00h-6.00z M64.01,478.17h6.00v6.00h-6.00z M64.54,478.61h6.00v6.00h-6.00z M65.06,478.52h6.00v6.00h-6.00z M65.59,478.88h6.00v6.00h-6.00z M66.11,478.83h6.00v6.00h-6.00z M66.64,478.61h6.00v6.00h-6.00z M67.16,477.42h6.00v6.00h-6.00z M67.69,478.18h6.00v6.00h-6.00z M68.21,478.66h6.00v6.00h-6.00z M68.74,479.07h6.00v6.00h-6.00z M69.26,479.10h6.00v6.00h-6.00z M69.79,477.28h6.00v6.00h-6.00z M70.31,478.15h6.00v6.00h-6.00z M70.84,478.49h6.00v6.00h-6.00z M71.36,478.81h6.00v6.00h-6.00z M71.89,479.41h6.00v6.00h-6.00z M72.41,478.56h6.00v6.00h-6.00z M72.94,477.79h6.00v6.00h-6.00z M73.46,478.79h6.00v6.00h-6.00z M73.99,478.64h6.00v6.00h-6.00z M74.51,478.62h6.00v6.00h-6.00z M75.04,478.34h6.00v6.00h-6.00z M75.56,479.70h6.00v6.00h-6.00z M76.09,478.59h6.00v6.00h-6.00z M76.61,479.07h6.00v6.00h-6.00z M77.14,477.66h6.00v6.00h-6.00z M77.66,478.97h6.00v6.00h-6.00z M78.19,477.87h6.00v6.00h-6.00z M78.71,477.09h6.00v6.00h-6.00z M79.24,478.56h6.00v6.00h-6.00z M79.76,478.77h6.00v6.00h-6.00z M80.29,478.11h6.00v6.00h-6.00z M80.81,478.25h6.00v6.00h-6.00z M81.34,479.04h6.00v6.00h-6.00z M81.86,477.84h6.00v6.00h-6.00z M82.39,476.57h6.00v6.00h-6.00z M82.91,478.39h6.00v6.00h-6.00z M83.44,478.33h6.00v6.00h-6.00z M83.96,478.99h6.00v6.00h-6.00z M84.49,477.87h6.00v6.00h-6.00z M85.01,479.11h6.00v6.00h-6.00z M85.54,478.98h6.00v6.00h-6.00z M86.06,477.03h6.00v6.00h-6.00z M86.59,478.78h6.00v6.00h-6.00z M87.11,477.15h6.00v6.00h-6.00z M87.64,476.77h6.00v6.00h-6.00z M88.16,477.77h6.00v6.00h-6.00z M88.69,477.52h6.00v6.00h-6.00z M89.21,476.37h6.00v6.00h-6.00z M89.74,478.08h6.00v6.00h-6.00z M90.26,478.38h6.00v6.00h-6.00z M90.79,478.97h6.00v6.00h-6.00z M91.31,477.82h6.00v6.00h-6.00z M91.84,476.64h6.00v6.00h-6.00z M92.36,477.03h6.00v6.00h-6.00z M92.89,478.54h6.00v6.00h-6.00z M93.41,478.45h6.00v6.00h-6.00z M93.94,478.14h6.00v6.00h-6.00z M94.46,477.47h6.00v6.00h-6.00z M94.99,477.85h6.00v6.00h-6.00z M95.51,477.49h6.00v6.00h-6.00z M96.04,477.39h6.00v6.00h-6.00z M96.56,477.85h6.00v6.00h-6.00z M97.09,477.61h6.00v6.00h-6.00z M97.61,477.39h6.00v6.00h-6.00z M98.14,477.60h6.00v6.00h-6.00z M98.66,477.09h6.00v6.00h-6.00z M99.19,475.96h6.00v6.00h-6.00z M99.71,476.97h6.00v6.00h-6.00z M100.24,477.37h6.00v6.00h-6.00z M100.76,478.75h6.00v6.00h-6.00z M101.29,477.04h6.00v6.00h-6.00z M101.81,478.90h6.00v6.00h-6.00z M102.34,478.43h6.00v6.00h-6.00z M102.86,476.58h6.00v6.00h-6.00z M103.39,476.66h6.00v6.00h-6.00z M103.91,477.32h6.00v6.00h-6.00z M104.44,478.55h6.00v6.00h-6.00z M104.96,477.44h6.00v6.00h-6.00z M105.49,477.65h6.00v6.00h-6.00z M106.01,476.56h6.00v6.00h-6.00z M106.54,475.21h6.00v6.00h-6.00z M107.06,476.83h6.00v6.00h-6.00z M107.59,477.59h6.00v6.00h-6.00z M108.11,477.87h6.00v6.00h-6.00z M108.64,476.94h6.00v6.00h-6.00z M109.16,477.00h6.00v6.00h-6.00z M109.69,477.75h6.00v6.00h-6.00z M110.21,476.69h6.00v6.00h-6.00z M110.74,477.67h6.00v6.00h-6.00z M111.26,475.81h6.00v6.00h-6.00z M111.79,475.81h6.00v6.00h-6.00z M112.31,475.75h6.00v6.00h-6.00z M112.84,476.96h6.00v6.00h-6.00z M113.36,476.12h6.00v6.00h-6.00z M113.89,476.60h6.00v6.00h-6.00z M114.41,476.77h6.00v6.00h-6.00z M114.94,476.68h6.00v6.00h-6.00z M115.46,477.41h6.00v6.00h-6.00z M115.99,477.48h6.00v6.00h-6.00z M116.51,475.63h6.00v6.00h-6.00z M117.04,476.38h6.00v6.00h-6.00z M117.56,476.01h6.00v6.00h-6.00z M118.09,475.32h6.00v6.00h-6.00z M118.61,477.48h6.00v6.00h-6.00z M119.14,476.67h6.00v6.00h-6.00z M119.66,475.84h6.00v6.00h-6.00z M120.19,475.61h6.00v6.00h-6.00z M120.71,476.18h6.00v6.00h-6.00z M121.24,475.00h6.00v6.00h-6.00z M121.76,475.60h6.00v6.00h-6.00z M122.29,476.70h6.00v6.00h-6.00z M122.81,476.41h6.00v6.00h-6.00z M123.34,474.96h6.00v6.00h-6.00z M123.86,475.17h6.00v6.00h-6.00z M124.39,477.02h6.00v6.00h-6.00z M124.91,474.34h6.00v6.00h-6.00z M125.44,474.89h6.00v6.00h-6.00z M125.96,474.22h6.00v6.00h-6.00z M126.49,475.56h6.00v6.00h-6.00z M127.01,475.42h6.00v6.00h-6.00z M127.54,476.03h6.00v6.00h-6.00z M128.06,473.01h6.00v6.00h-6.00z M128.59,475.13h6.00v6.00h-6.00z M129.11,473.64h6.00v6.00h-6.00z M129.64,475.37h6.00v6.00h-6.00z M130.16,474.65h6.00v6.00h-6.00z M130.69,476.06h6.00v6.00h-6.00z M131.21,474.94h6.00v6.00h-6.00z M131.74,473.77h6.00v6.00h-6.00z M132.26,475.50h6.00v6.00h-6.00z M132.79,473.54h6.00v6.00h-6.00z M133.31,474.06h6.00v6.00h-6.00z M133.84,475.10h6.00v6.00h-6.00z M134.36,474.58h6.00v6.00h-6.00z M134.89,474.46h6.00v6.00h-6.00z M135.41,474.05h6.00v6.00h-6.00z M135.94,474.36h6.00v6.00h-6.00z M136.46,474.50h6.00v6.00h-6.00z M136.99,474.00h6.00v6.00h-6.00z M137.51,474.49h6.00v6.00h-6.00z M138.04,474.61h6.00v6.00h-6.00z M138.56,473.52h6.00v6.00h-6.00z M139.09,472.67h6.00v6.00h-6.00z M139.61,474.52h6.00v6.00h-6.00z M140.14,473.19h6.00v6.00h-6.00z M140.66,473.62h6.00v6.00h-6.00z M141.19,473.78h6.00v6.00h-6.00z M141.71,472.20h6.00v6.00h-6.00z M142.24,473.20h6.00v6.00h-6.00z M142.76,471.47h6.00v6.00h-6.00z M143.29,473.20h6.00v6.00h-6.00z M143.81,472.15h6.00v6.00h-6.00z M144.34,472.53h6.00v6.00h-6.00z M144.86,472.84h6.00v6.00h-6.00z M145.39,471.65h6.00v6.00h-6.00z M145.91,472.13h6.00v6.00h-6.00z M146.44,471.39h6.00v6.00h-6.00z M146.96,471.80h6.00v6.00h-6.00z M147.49,472.51h6.00v6.00h-6.00z M148.01,471.59h6.00v6.00h-6.00z M148.54,471.33h6.00v6.00h-6.00z M149.06,470.47h6.00v6.00h-6.00z M149.59,471.83h6.00v6.00h-6.00z M150.11,471.00h6.00v6.00h-6.00z M150.64,472.21h6.00v6.00h-6.00z M151.16,470.15h6.00v6.00h-6.00z M151.69,471.40h6.00v6.00h-6.00z M152.21,471.84h6.00v6.00h-6.00z M152.74,470.27h6.00v6.00h-6.00z M153.26,469.17h6.00v6.00h-6.00z M153.79,471.13h6.00v6.00h-6.00z M154.31,470.61h6.00v6.00h-6.00z M154.84,470.16h6.00v6.00h-6.00z M155.36,470.30h6.00v6.00h-6.00z M155.89,468.90h6.00v6.00h-6.00z M156.41,469.67h6.00v6.00h-6.00z M156.94,469.41h6.00v6.00h-6.00z M157.46,468.16h6.00v6.00h-6.00z M157.99,469.03h6.00v6.00h-6.00z M158.51,467.86h6.00v6.00h-6.00z M159.04,468.78h6.00v6.00h-6.00z M159.56,468.74h6.00v6.00h-6.00z M160.09,469.01h6.00v6.00h-6.00z M160.61,465.78h6.00v6.00h-6.00z M161.14,467.28h6.00v6.00h-6.00z M161.66,466.56h6.00v6.00h-6.00z M162.19,466.49h6.00v6.00h-6.00z M162.71,466.04h6.00v6.00h-6.00z M163.24,465.82h6.00v6.00h-6.00z M163.76,463.99h6.00v6.00h-6.00z M164.29,466.01h6.00v6.00h-6.00z M164.81,466.06h6.00v6.00h-6.00z M165.34,465.21h6.00v6.00h-6.00z M165.86,465.05h6.00v6.00h-6.00z M166.39,462.90h6.00v6.00h-6.00z M166.91,462.34h6.00v6.00h-6.00z M167.44,463.24h6.00v6.00h-6.00z M167.96,462.99h6.00v6.00h-6.00z M168.49,461.51h6.00v6.00h-6.00z M169.01,459.38h6.00v6.00h-6.00z M169.54,461.99h6.00v6.00h-6.00z M170.06,458.40h6.00v6.00h-6.00z M170.59,458.70h6.00v6.00h-6.00z M171.11,455.88h6.00v6.00h-6.00z M171.64,456.31h6.00v6.00h-6.00z M172.16,454.22h6.00v6.00h-6.00z M172.69,453.53h6.00v6.00h-6.00z M173.21,451.14h6.00v6.00h-6.00z M173.74,446.94h6.00v6.00h-6.00z M174.26,444.68h6.00v6.00h-6.00z M174.79,442.41h6.00v6.00h-6.00z M175.31,438.85h6.00v6.00h-6.00z M175.84,434.85h6.00v6.00h-6.00z M176.36,427.68h6.00v6.00h-6.00z M176.89,419.94h6.00v6.00h-6.00z M177.41,410.62h6.00v6.00h-6.00z M177.94,398.75h6.00v6.00h-6.00z M178.46,384.49h6.00v6.00h-6.00z M178.99,364.61h6.00v6.00h-6.00z M179.51,341.43h6.00v6.00h-6.00z M180.04,314.65h6.00v6.00h-6.00z M180.56,290.98h6.00v6.00h-6.00z M181.09,281.52h6.00v6.00h-6.00z M181.61,285.02h6.00v6.00h-6.00z M182.14,303.35h6.00v6.00h-6.00z M182.66,329.14h6.00v6.00h-6.00z M183.19,354.06h6.00v6.00h-6.00z M183.71,374.65h6.00v6.00h-6.00z M184.24,392.42h6.00v6.00h-6.00z M184.76,404.48h6.00v6.00h-6.00z M185.29,415.59h6.00v6.00h-6.00z M185.81,423.65h6.00v6.00h-6.00z M186.34,430.65h6.00v6.00h-6.00z M186.86,436.45h6.00v6.00h-6.00z M187.39,440.98h6.00v6.00h-6.00z M187.91,443.98h6.00v6.00h-6.00z M188.44,447.21h6.00v6.00h-6.00z M188.96,449.07h6.00v6.00h-6.00z M189.49,451.37h6.00v6.00h-6.00z M190.01,454.28h6.00v6.00h-6.00z M190.54,454.69h6.00v6.00h-6.00z M191.06,457.19h6.00v6.00h-6.00z M191.59,457.79h6.00v6.00h-6.00z M192.11,458.58h6.00v6.00h-6.00z M192.64,460.96h6.00v6.00h-6.00z M193.16,460.04h6.00v6.00h-6.00z M193.69,460.75h6.00v6.00h-6.00z M194.21,461.68h6.00v6.00h-6.00z M194.74,462.52h6.00v6.00h-6.00z M195.26,463.04h6.00v6.00h-6.00z M195.79,464.05h6.00v6.00h-6.00z M196.31,463.96h6.00v6.00h-6.00z M196.84,464.63h6.00v6.00h-6.00z M197.36,464.53h6.00v6.00h-6.00z M197.89,465.96h6.00v6.00h-6.00z M198.41,465.16h6.00v6.00h-6.00z M198.94,465.58h6.00v6.00h-6.00z M199.46,466.13h6.00v6.00h-6.00z M199.99,466.68h6.00v6.00h-6.00z M200.51,466.17h6.00v6.00h-6.00z M201.04,468.23h6.00v6.00h-6.00z M201.56,466.78h6.00v6.00h-6.00z M202.09,467.21h6.00v6.00h-6.00z M202.61,467.42h6.00v6.00h-6.00z M203.14,467.57h6.00v6.00h-6.00z M203.66,468.63h6.00v6.00h-6.00z M204.19,468.53h6.00v6.00h-6.00z M204.71,468.01h6.00v6.00h-6.00z M205.24,468.38h6.00v6.00h-6.00z M205.76,468.76h6.00v6.00h-6.00z M206.29,470.33h6.00v6.00h-6.00z M206.81,468.86h6.00v6.00h-6.00z M207.34,468.53h6.00v6.00h-6.00z M207.86,468.83h6.00v6.00h-6.00z M208.39,469.63h6.00v6.00h-6.00z M208.91,471.24h6.00v6.00h-6.00z M209.44,469.38h6.00v6.00h-6.00z M209.96,470.42h6.00v6.00h-6.00z M210.49,472.50h6.00v6.00h-6.00z M211.01,470.30h6.00v6.00h-6.00z M211.54,471.95h6.00v6.00h-6.00z M212.06,471.94h6.00v6.00h-6.00z M212.59,471.55h6.00v6.00h-6.00z M213.11,470.15h6.00v6.00h-6.00z M213.64,471.61h6.00v6.00h-6.00z M214.16,471.22h6.00v6.00h-6.00z M214.69,470.16h6.00v6.00h-6.00z M215.21,470.41h6.00v6.00h-6.00z M215.74,471.90h6.00v6.00h-6.00z M216.26,472.14h6.00v6.00h-6.00z M216.79,473.08h6.00v6.00h-6.00z M217.31,472.74h6.00v6.00h-6.00z M217.84,471.95h6.00v6.00h-6.00z M218.36,472.09h6.00v6.00h-6.00z M218.89,472.43h6.00v6.00h-6.00z M219.41,471.82h6.00v6.00h-6.00z M219.94,473.36h6.00v6.00h-6.00z M220.46,472.88h6.00v6.00h-6.00z M220.99,472.35h6.00v6.00h-6.00z M221.51,472.57h6.00v6.00h-6.00z M222.04,472.28h6.00v6.00h-6.00z M222.56,472.92h6.00v6.00h-6.00z M223.09,473.59h6.00v6.00h-6.00z M223.61,473.14h6.00v6.00h-6.00z M224.14,474.33h6.00v6.00h-6.00z M224.66,474.94h6.00v6.00h-6.00z M225.19,473.24h6.00v6.00h-6.00z M225.71,473.84h6.00v6.00h-6.00z M226.24,473.63h6.00v6.00h-6.00z M226.76,475.34h6.00v6.00h-6.00z M227.29,474.34h6.00v6.00h-6.00z M227.81,474.62h6.00v6.00h-6.00z M228.34,474.91h6.00v6.00h-6.00z M228.86,476.11h6.00v6.00h-6.00z M229.39,474.64h6.00v6.00h-6.00z M229.91,473.72h6.00v6.00h-6.00z M230.44,474.22h6.00v6.00h-6.00z M230.96,475.08h6.00v6.00h-6.00z M231.49,474.68h6.00v6.00h-6.00z M232.01,474.13h6.00v6.00h-6.00z M232.54,477.04h6.00v6.00h-6.00z M233.06,474.98h6.00v6.00h-6.00z M233.59,474.51h6.00v6.00h-6.00z M234.11,474.47h6.00v6.00h-6.00z M234.64,473.71h6.00v6.00h-6.00z M235.16,474.23h6.00v6.00h-6.00z M235.69,474.96h6.00v6.00h-6.00z M236.21,475.03h6.00v6.00h-6.00z M236.74,474.70h6.00v6.00h-6.00z M237.26,475.83h6.00v6.00h-6.00z M237.79,475.49h6.00v6.00h-6.00z M238.31,474.79h6.00v6.00h-6.00z M238.84,474.00h6.00v6.00h-6.00z M239.36,475.76h6.00v6.00h-6.00z M239.89,475.73h6.00v6.00h-6.00z M240.41,475.58h6.00v6.00h-6.00z M240.94,474.72h6.00v6.00h-6.00z M241.46,475.88h6.00v6.00h-6.00z M241.99,474.72h6.00v6.00h-6.00z M242.51,476.74h6.00v6.00h-6.00z M243.04,476.16h6.00v6.00h-6.00z M243.56,476.22h6.00v6.00h-6.00z M244.09,475.47h6.00v6.00h-6.00z M244.61,475.31h6.00v6.00h-6.00z M245.14,477.42h6.00v6.00h-6.00z M245.66,476.99h6.00v6.00h-6.00z M246.19,476.03h6.00v6.00h-6.00z M246.71,476.87h6.00v6.00h-6.00z M247.24,477.62h6.00v6.00h-6.00z M247.76,475.59h6.00v6.00h-6.00z M248.29,476.08h6.00v6.00h-6.00z M248.81,476.12h6.00v6.00h-6.00z M249.34,476.94h6.00v6.00h-6.00z M249.86,475.77h6.00v6.00h-6.00z M250.39,476.84h6.00v6.00h-6.00z M250.91,475.80h6.00v6.00h-6.00z M251.44,477.46h6.00v6.00h-6.00z M251.96,477.45h6.00v6.00h-6.00z M252.49,476.63h6.00v6.00h-6.00z M253.01,477.40h6.00v6.00h-6.00z M253.54,476.33h6.00v6.00h-6.00z M254.06,476.70h6.00v6.00h-6.00z M254.59,477.69h6.00v6.00h-6.00z M255.11,476.92h6.00v6.00h-6.00z M255.64,477.30h6.00v6.00h-6.00z M256.16,476.31h6.00v6.00h-6.00z M256.69,477.60h6.00v6.00h-6.00z M257.21,477.47h6.00v6.00h-6.00z M257.74,476.18h6.00v6.00h-6.00z M258.26,475.38h6.00v6.00h-6.00z M258.79,475.61h6.00v6.00h-6.00z M259.31,477.20h6.00v6.00h-6.00z M259.84,477.10h6.00v6.00h-6.00z M260.36,476.07h6.00v6.00h-6.00z M260.89,477.44h6.00v6.00h-6.00z M261.41,478.16h6.00v6.00h-6.00z M261.94,477.31h6.00v6.00h-6.00z M262.46,477.07h6.00v6.00h-6.00z M262.99,478.13h6.00v6.00h-6.00z M263.51,478.81h6.00v6.00h-6.00z M264.04,478.67h6.00v6.00h-6.00z M264.56,477.00h6.00v6.00h-6.00z M265.09,478.18h6.00v6.00h-6.00z M265.61,477.71h6.00v6.00h-6.00z M266.14,477.45h6.00v6.00h-6.00z M266.66,477.15h6.00v6.00h-6.00z M267.19,477.94h6.00v6.00h-6.00z M267.71,477.30h6.00v6.00h-6.00z M268.24,478.44h6.00v6.00h-6.00z M268.76,478.04h6.00v6.00h-6.00z M269.29,478.60h6.00v6.00h-6.00z M269.81,476.88h6.00v6.00h-6.00z M270.34,477.84h6.00v6.00h-6.00z M270.86,478.44h6.00v6.00h-6.00z M271.39,478.15h6.00v6.00h-6.00z M271.91,478.07h6.00v6.00h-6.00z M272.44,477.34h6.00v6.00h-6.00z M272.96,479.22h6.00v6.00h-6.00z M273.49,478.79h6.00v6.00h-6.00z M274.01,478.28h6.00v6.00h-6.00z M274.54,475.95h6.00v6.00h-6.00z M275.06,477.24h6.00v6.00h-6.00z M275.59,478.13h6.00v6.00h-6.00z M276.11,477.48h6.00v6.00h-6.00z M276.64,476.42h6.00v6.00h-6.00z M277.16,478.28h6.00v6.00h-6.00z M277.69,478.41h6.00v6.00h-6.00z M278.21,477.16h6.00v6.00h-6.00z M278.74,477.75h6.00v6.00h-6.00z M279.26,477.63h6.00v6.00h-6.00z M279.79,478.60h6.00v6.00h-6.00z M280.31,476.66h6.00v6.00h-6.00z M280.84,476.85h6.00v6.00h-6.00z M281.36,477.79h6.00v6.00h-6.00z M281.89,477.71h6.00v6.00h-6.00z M282.41,479.91h6.00v6.00h-6.00z M282.94,477.78h6.00v6.00h-6.00z M283.46,478.47h6.00v6.00h-6.00z M283.99,477.98h6.00v6.00h-6.00z M284.51,477.79h6.00v6.00h-6.00z M285.04,478.64h6.00v6.00h-6.00z M285.56,479.74h6.00v6.00h-6.00z M286.09,478.10h6.00v6.00h-6.00z M286.61,479.01h6.00v6.00h-6.00z M287.14,478.69h6.00v6.00h-6.00z M287.66,478.93h6.00v6.00h-6.00z M288.19,478.73h6.00v6.00h-6.00z M288.71,480.33h6.00v6.00h-6.00z M289.24,477.50h6.00v6.00h-6.00z M289.76,478.29h6.00v6.00h-6.00z M290.29,477.62h6.00v6.00h-6.00z M290.81,476.93h6.00v6.00h-6.00z M291.34,478.52h6.00v6.00h-6.00z M291.86,480.01h6.00v6.00h-6.00z M292.39,479.29h6.00v6.00h-6.00z M292.91,479.55h6.00v6.00h-6.00z M293.44,479.00h6.00v6.00h-6.00z M293.96,478.54h6.00v6.00h-6.00z M294.49,480.24h6.00v6.00h-6.00z M295.01,478.36h6.00v6.00h-6.00z M295.54,479.86h6.00v6.00h-6.00z M296.06,478.42h6.00v6.00h-6.00z M296.59,478.76h6.00v6.00h-6.00z M297.11,478.94h6.00v6.00h-6.00z M297.64,478.75h6.00v6.00h-6.00z M298.16,479.14h6.00v6.00h-6.00z M298.69,479.21h6.00v6.00h-6.00z M299.21,480.09h6.00v6.00h-6.00z M299.74,478.77h6.00v6.00h-6.00z M300.26,477.27h6.00v6.00h-6.00z M300.79,477.17h6.00v6.00h-6.00z M301.31,477.71h6.00v6.00h-6.00z M301.84,478.22h6.00v6.00h-6.00z M302.36,479.34h6.00v6.00h-6.00z M302.89,477.65h6.00v6.00h-6.00z M303.41,478.87h6.00v6.00h-6.00z M303.94,478.89h6.00v6.00h-6.00z M304.46,479.08h6.00v6.00h-6.00z M304.99,478.78h6.00v6.00h-6.00z M305.51,479.21h6.00v6.00h-6.00z M306.04,478.94h6.00v6.00h-6.00z M306.56,479.76h6.00v6.00h-6.00z M307.09,479.19h6.00v6.00h-6.00z M307.61,477.06h6.00v6.00h-6.00z M308.14,478.97h6.00v6.00h-6.00z M308.66,479.11h6.00v6.00h-6.00z M309.19,478.50h6.00v6.00h-6.00z M309.71,478.37h6.00v6.00h-6.00z M310.24,479.85h6.00v6.00h-6.00z M310.76,479.12h6.00v6.00h-6.00z M176.25,420.15h6.00v6.00h-6.00z M185.67,417.56h6.00v6.00h-6.00z M177.05,403.38h6.00v6.00h-6.00z M185.58,400.54h6.00v6.00h-6.00z M178.15,387.75h6.00v6.00h-6.00z M185.05,385.06h6.00v6.00h-6.00z M177.85,366.44h6.00v6.00h-6.00z M183.82,367.74h6.00v6.00h-6.00z M178.65,353.45h6.00v6.00h-6.00z M184.04,353.97h6.00v6.00h-6.00z M178.50,335.71h6.00v6.00h-6.00z M183.77,336.28h6.00v6.00h-6.00z M179.02,317.19h6.00v6.00h-6.00z M183.60,318.23h6.00v6.00h-6.00z M179.67,302.20h6.00v6.00h-6.00z M183.21,303.13h6.00v6.00h-6.00z M179.72,284.84h6.00v6.00h-6.00z M182.20,283.64h6.00v6.00h-6.00z" fill="#F98B6E"/>
<path d="M51.00,483.05 L51.78,483.03 L52.55,483.02 L53.33,483.01 L54.10,483.00 L54.88,482.98 L55.65,482.97 L56.43,482.96 L57.20,482.94 L57.98,482.93 L58.75,482.91 L59.53,482.90 L60.30,482.88 L61.08,482.87 L61.85,482.85 L62.63,482.84 L63.40,482.82 L64.18,482.81 L64.95,482.79 L65.73,482.77 L66.50,482.76 L67.28,482.74 L68.05,482.72 L68.83,482.70 L69.60,482.69 L70.38,482.67 L71.15,482.65 L71.93,482.63 L72.70,482.61 L73.48,482.59 L74.26,482.57 L75.03,482.55 L75.81,482.53 L76.58,482.51 L77.36,482.49 L78.13,482.47 L78.91,482.44 L79.68,482.42 L80.46,482.40 L81.23,482.37 L82.01,482.35 L82.78,482.33 L83.56,482.30 L84.33,482.28 L85.11,482.25 L85.88,482.22 L86.66,482.20 L87.43,482.17 L88.21,482.14 L88.98,482.11 L89.76,482.08 L90.53,482.05 L91.31,482.02 L92.08,481.99 L92.86,481.96 L93.63,481.93 L94.41,481.90 L95.18,481.86 L95.96,481.83 L96.73,481.79 L97.51,481.76 L98.29,481.72 L99.06,481.69 L99.84,481.65 L100.61,481.61 L101.39,481.57 L102.16,481.53 L102.94,481.49 L103.71,481.45 L104.49,481.41 L105.26,481.36 L106.04,481.32 L106.81,481.27 L107.59,481.22 L108.36,481.18 L109.14,481.13 L109.91,481.08 L110.69,481.03 L111.46,480.98 L112.24,480.92 L113.01,480.87 L113.79,480.81 L114.56,480.76 L115.34,480.70 L116.11,480.64 L116.89,480.58 L117.66,480.51 L118.44,480.45 L119.21,480.39 L119.99,480.32 L120.77,480.25 L121.54,480.18 L122.32,480.11 L123.09,480.04 L123.87,479.96 L124.64,479.88 L125.42,479.81 L126.19,479.73 L126.97,479.64 L127.74,479.56 L128.52,479.47 L129.29,479.38 L130.07,479.29 L130.84,479.20 L131.62,479.11 L132.39,479.01 L133.17,478.91 L133.94,478.81 L134.72,478.70 L135.49,478.60 L136.27,478.49 L137.04,478.37 L137.82,478.26 L138.59,478.14 L139.37,478.02 L140.14,477.90 L140.92,477.77 L141.69,477.64 L142.47,477.51 L143.24,477.37 L144.02,477.23 L144.80,477.09 L145.57,476.94 L146.35,476.79 L147.12,476.64 L147.90,476.48 L148.67,476.32 L149.45,476.15 L150.22,475.98 L151.00,475.80 L151.77,475.62 L152.55,475.44 L153.32,475.25 L154.10,475.05 L154.87,474.85 L155.65,474.64 L156.42,474.42 L157.20,474.20 L157.97,473.97 L158.75,473.73 L159.52,473.49 L160.30,473.23 L161.07,472.96 L161.85,472.68 L162.62,472.39 L163.40,472.07 L164.17,471.75 L164.95,471.39 L165.72,471.02 L166.50,470.61 L166.50,470.61 L166.55,470.59 L166.59,470.56 L166.64,470.54 L166.68,470.51 L166.73,470.49 L166.78,470.46 L166.82,470.44 L166.87,470.41 L166.91,470.39 L166.96,470.36 L167.01,470.33 L167.05,470.31 L167.10,470.28 L167.14,470.25 L167.19,470.23 L167.24,470.20 L167.28,470.17 L167.33,470.14 L167.37,470.12 L167.42,470.09 L167.47,470.06 L167.51,470.03 L167.56,470.01 L167.60,469.98 L167.65,469.95 L167.70,469.92 L167.74,469.89 L167.79,469.86 L167.83,469.84 L167.88,469.81 L167.93,469.78 L167.97,469.75 L168.02,469.72 L168.06,469.69 L168.11,469.66 L168.16,469.63 L168.20,469.60 L168.25,469.57 L168.29,469.54 L168.34,469.51 L168.39,469.47 L168.43,469.44 L168.48,469.41 L168.52,469.38 L168.57,469.35 L168.62,469.32 L168.66,469.28 L168.71,469.25 L168.75,469.22 L168.80,469.19 L168.85,469.15 L168.89,469.12 L168.94,469.09 L168.98,469.05 L169.03,469.02 L169.08,468.99 L169.12,468.95 L169.17,468.92 L169.21,468.88 L169.26,468.85 L169.31,468.81 L169.35,468.78 L169.40,468.74 L169.44,468.70 L169.49,468.67 L169.54,468.63 L169.58,468.59 L169.63,468.56 L169.67,468.52 L169.72,468.48 L169.77,468.45 L169.81,468.41 L169.86,468.37 L169.90,468.33 L169.95,468.29 L170.00,468.25 L170.04,468.21 L170.09,468.17 L170.13,468.13 L170.18,468.09 L170.23,468.05 L170.27,468.01 L170.32,467.97 L170.36,467.93 L170.41,467.89 L170.46,467.84 L170.50,467.80 L170.55,467.76 L170.59,467.72 L170.64,467.67 L170.69,467.63 L170.73,467.59 L170.78,467.54 L170.82,467.50 L170.87,467.45 L170.92,467.40 L170.96,467.36 L171.01,467.31 L171.05,467.27 L171.10,467.22 L171.15,467.17 L171.19,467.12 L171.24,467.07 L171.28,467.03 L171.33,466.98 L171.38,466.93 L171.42,466.88 L171.47,466.83 L171.51,466.78 L171.56,466.72 L171.61,466.67 L171.65,466.62 L171.70,466.57 L171.74,466.52 L171.79,466.46 L171.84,466.41 L171.88,466.35 L171.93,466.30 L171.97,466.24 L172.02,466.19 L172.07,466.13 L172.11,466.07 L172.16,466.01 L172.20,465.96 L172.25,465.90 L172.30,465.84 L172.34,465.78 L172.39,465.72 L172.43,465.66 L172.48,465.60 L172.53,465.53 L172.57,465.47 L172.62,465.41 L172.66,465.34 L172.71,465.28 L172.76,465.21 L172.80,465.15 L172.85,465.08 L172.89,465.01 L172.94,464.94 L172.99,464.88 L173.03,464.81 L173.08,464.74 L173.12,464.66 L173.17,464.59 L173.22,464.52 L173.26,464.45 L173.31,464.37 L173.35,464.30 L173.40,464.22 L173.45,464.15 L173.49,464.07 L173.54,463.99 L173.58,463.91 L173.63,463.83 L173.68,463.75 L173.72,463.67 L173.77,463.59 L173.81,463.50 L173.86,463.42 L173.91,463.33 L173.95,463.25 L174.00,463.16 L174.04,463.07 L174.09,462.98 L174.14,462.89 L174.18,462.80 L174.23,462.71 L174.27,462.61 L174.32,462.52 L174.37,462.42 L174.41,462.33 L174.46,462.23 L174.50,462.13 L174.55,462.03 L174.60,461.93 L174.64,461.82 L174.69,461.72 L174.73,461.61 L174.78,461.50 L174.83,461.40 L174.87,461.29 L174.92,461.17 L174.96,461.06 L175.01,460.95 L175.06,460.83 L175.10,460.71 L175.15,460.60 L175.19,460.47 L175.24,460.35 L175.29,460.23 L175.33,460.10 L175.38,459.98 L175.42,459.85 L175.47,459.72 L175.52,459.59 L175.56,459.45 L175.61,459.32 L175.65,459.18 L175.70,459.04 L175.74,458.90 L175.79,458.75 L175.84,458.61 L175.88,458.46 L175.93,458.31 L175.97,458.16 L176.02,458.00 L176.07,457.85 L176.11,457.69 L176.16,457.53 L176.20,457.36 L176.25,457.20 L176.30,457.03 L176.34,456.86 L176.39,456.68 L176.43,456.51 L176.48,456.33 L176.53,456.15 L176.57,455.96 L176.62,455.77 L176.66,455.58 L176.71,455.39 L176.76,455.19 L176.80,454.99 L176.85,454.79 L176.89,454.59 L176.94,454.38 L176.99,454.16 L177.03,453.95 L177.08,453.73 L177.12,453.50 L177.17,453.28 L177.22,453.05 L177.26,452.81 L177.31,452.57 L177.35,452.33 L177.40,452.08 L177.45,451.83 L177.49,451.58 L177.54,451.32 L177.58,451.05 L177.63,450.78 L177.68,450.51 L177.72,450.23 L177.77,449.95 L177.81,449.66 L177.86,449.37 L177.91,449.07 L177.95,448.76 L178.00,448.45 L178.04,448.14 L178.09,447.82 L178.14,447.49 L178.18,447.16 L178.23,446.82 L178.27,446.47 L178.32,446.12 L178.37,445.76 L178.41,445.39 L178.46,445.02 L178.50,444.64 L178.55,444.25 L178.60,443.86 L178.64,443.45 L178.69,443.04 L178.73,442.62 L178.78,442.20 L178.83,441.76 L178.87,441.31 L178.92,440.86 L178.96,440.40 L179.01,439.93 L179.06,439.44 L179.10,438.95 L179.15,438.45 L179.19,437.94 L179.24,437.41 L179.29,436.88 L179.33,436.33 L179.38,435.78 L179.42,435.21 L179.47,434.63 L179.52,434.03 L179.56,433.43 L179.61,432.81 L179.65,432.18 L179.70,431.53 L179.75,430.87 L179.79,430.19 L179.84,429.50 L179.88,428.80 L179.93,428.08 L179.98,427.34 L180.02,426.58 L180.07,425.81 L180.11,425.03 L180.16,424.22 L180.21,423.40 L180.25,422.55 L180.30,421.69 L180.34,420.81 L180.39,419.91 L180.44,418.98 L180.48,418.04 L180.53,417.07 L180.57,416.09 L180.62,415.07 L180.67,414.04 L180.71,412.98 L180.76,411.90 L180.80,410.79 L180.85,409.66 L180.90,408.50 L180.94,407.31 L180.99,406.10 L181.03,404.86 L181.08,403.59 L181.13,402.29 L181.17,400.96 L181.22,399.60 L181.26,398.21 L181.31,396.78 L181.36,395.33 L181.40,393.84 L181.45,392.32 L181.49,390.77 L181.54,389.18 L181.59,387.56 L181.63,385.90 L181.68,384.21 L181.72,382.49 L181.77,380.72 L181.82,378.93 L181.86,377.09 L181.91,375.22 L181.95,373.32 L182.00,371.38 L182.05,369.40 L182.09,367.39 L182.14,365.34 L182.18,363.26 L182.23,361.15 L182.28,359.00 L182.32,356.82 L182.37,354.62 L182.41,352.38 L182.46,350.12 L182.51,347.83 L182.55,345.51 L182.60,343.18 L182.64,340.83 L182.69,338.46 L182.74,336.08 L182.78,333.69 L182.83,331.30 L182.87,328.90 L182.92,326.50 L182.97,324.11 L183.01,321.73 L183.06,319.37 L183.10,317.02 L183.15,314.71 L183.20,312.42 L183.24,310.18 L183.29,307.97 L183.33,305.82 L183.38,303.72 L183.43,301.69 L183.47,299.72 L183.52,297.83 L183.56,296.02 L183.61,294.30 L183.66,292.68 L183.70,291.15 L183.75,289.74 L183.79,288.43 L183.84,287.25 L183.89,286.19 L183.93,285.25 L183.98,284.45 L184.02,283.78 L184.07,283.25 L184.12,282.86 L184.16,282.61 L184.21,282.50 L184.25,282.54 L184.30,282.72 L184.35,283.05 L184.39,283.51 L184.44,284.12 L184.48,284.86 L184.53,285.74 L184.58,286.74 L184.62,287.87 L184.67,289.12 L184.71,290.48 L184.76,291.96 L184.81,293.54 L184.85,295.21 L184.90,296.98 L184.94,298.83 L184.99,300.76 L185.04,302.77 L185.08,304.84 L185.13,306.97 L185.17,309.15 L185.22,311.37 L185.27,313.64 L185.31,315.95 L185.36,318.28 L185.40,320.63 L185.45,323.00 L185.50,325.39 L185.54,327.78 L185.59,330.18 L185.63,332.58 L185.68,334.97 L185.73,337.36 L185.77,339.73 L185.82,342.09 L185.86,344.43 L185.91,346.76 L185.96,349.06 L186.00,351.33 L186.05,353.58 L186.09,355.80 L186.14,357.99 L186.19,360.15 L186.23,362.28 L186.28,364.38 L186.32,366.44 L186.37,368.47 L186.42,370.46 L186.46,372.42 L186.51,374.34 L186.55,376.23 L186.60,378.08 L186.65,379.89 L186.69,381.67 L186.74,383.42 L186.78,385.12 L186.83,386.80 L186.88,388.43 L186.92,390.04 L186.97,391.61 L187.01,393.14 L187.06,394.64 L187.11,396.11 L187.15,397.55 L187.20,398.95 L187.24,400.33 L187.29,401.67 L187.34,402.99 L187.38,404.27 L187.43,405.52 L187.47,406.75 L187.52,407.95 L187.57,409.12 L187.61,410.27 L187.66,411.39 L187.70,412.48 L187.75,413.55 L187.80,414.60 L187.84,415.62 L187.89,416.62 L187.93,417.59 L187.98,418.55 L188.03,419.48 L188.07,420.39 L188.12,421.28 L188.16,422.15 L188.21,423.01 L188.26,423.84 L188.30,424.65 L188.35,425.45 L188.39,426.23 L188.44,426.99 L188.49,427.74 L188.53,428.46 L188.58,429.18 L188.62,429.87 L188.67,430.56 L188.72,431.22 L188.76,431.88 L188.81,432.52 L188.85,433.14 L188.90,433.75 L188.95,434.35 L188.99,434.94 L189.04,435.51 L189.08,436.08 L189.13,436.63 L189.18,437.17 L189.22,437.70 L189.27,438.21 L189.31,438.72 L189.36,439.22 L189.41,439.70 L189.45,440.18 L189.50,440.65 L189.54,441.10 L189.59,441.55 L189.64,441.99 L189.68,442.43 L189.73,442.85 L189.77,443.26 L189.82,443.67 L189.87,444.07 L189.91,444.46 L189.96,444.84 L190.00,445.22 L190.05,445.59 L190.10,445.95 L190.14,446.31 L190.19,446.66 L190.23,447.00 L190.28,447.34 L190.33,447.67 L190.37,447.99 L190.42,448.31 L190.46,448.62 L190.51,448.93 L190.56,449.23 L190.60,449.52 L190.65,449.82 L190.69,450.10 L190.74,450.38 L190.79,450.66 L190.83,450.93 L190.88,451.20 L190.92,451.46 L190.97,451.71 L191.02,451.97 L191.06,452.22 L191.11,452.46 L191.15,452.70 L191.20,452.94 L191.25,453.17 L191.29,453.40 L191.34,453.62 L191.38,453.85 L191.43,454.06 L191.48,454.28 L191.52,454.49 L191.57,454.70 L191.61,454.90 L191.66,455.10 L191.71,455.30 L191.75,455.49 L191.80,455.69 L191.84,455.88 L191.89,456.06 L191.94,456.24 L191.98,456.42 L192.03,456.60 L192.07,456.78 L192.12,456.95 L192.17,457.12 L192.21,457.29 L192.26,457.45 L192.30,457.61 L192.35,457.77 L192.40,457.93 L192.44,458.09 L192.49,458.24 L192.53,458.39 L192.58,458.54 L192.63,458.69 L192.67,458.83 L192.72,458.97 L192.76,459.11 L192.81,459.25 L192.86,459.39 L192.90,459.52 L192.95,459.66 L192.99,459.79 L193.04,459.92 L193.09,460.05 L193.13,460.17 L193.18,460.30 L193.22,460.42 L193.27,460.54 L193.32,460.66 L193.36,460.78 L193.41,460.89 L193.45,461.01 L193.50,461.12 L193.55,461.23 L193.59,461.34 L193.64,461.45 L193.68,461.56 L193.73,461.67 L193.78,461.77 L193.82,461.88 L193.87,461.98 L193.91,462.08 L193.96,462.18 L194.01,462.28 L194.05,462.38 L194.10,462.47 L194.14,462.57 L194.19,462.66 L194.23,462.76 L194.28,462.85 L194.33,462.94 L194.37,463.03 L194.42,463.12 L194.46,463.21 L194.51,463.29 L194.56,463.38 L194.60,463.46 L194.65,463.55 L194.69,463.63 L194.74,463.71 L194.79,463.79 L194.83,463.87 L194.88,463.95 L194.92,464.03 L194.97,464.11 L195.02,464.19 L195.06,464.26 L195.11,464.34 L195.15,464.41 L195.20,464.49 L195.25,464.56 L195.29,464.63 L195.34,464.70 L195.38,464.77 L195.43,464.84 L195.48,464.91 L195.52,464.98 L195.57,465.05 L195.61,465.12 L195.66,465.18 L195.71,465.25 L195.75,465.31 L195.80,465.38 L195.84,465.44 L195.89,465.50 L195.94,465.57 L195.98,465.63 L196.03,465.69 L196.07,465.75 L196.12,465.81 L196.17,465.87 L196.21,465.93 L196.26,465.99 L196.30,466.05 L196.35,466.10 L196.40,466.16 L196.44,466.22 L196.49,466.27 L196.53,466.33 L196.58,466.38 L196.63,466.44 L196.67,466.49 L196.72,466.54 L196.76,466.60 L196.81,466.65 L196.86,466.70 L196.90,466.75 L196.95,466.80 L196.99,466.85 L197.04,466.90 L197.09,466.95 L197.13,467.00 L197.18,467.05 L197.22,467.10 L197.27,467.15 L197.32,467.20 L197.36,467.24 L197.41,467.29 L197.45,467.34 L197.50,467.38 L197.55,467.43 L197.59,467.47 L197.64,467.52 L197.68,467.56 L197.73,467.61 L197.78,467.65 L197.82,467.70 L197.87,467.74 L197.91,467.78 L197.96,467.83 L198.01,467.87 L198.05,467.91 L198.10,467.95 L198.14,467.99 L198.19,468.03 L198.24,468.07 L198.28,468.11 L198.33,468.15 L198.37,468.19 L198.42,468.23 L198.47,468.27 L198.51,468.31 L198.56,468.35 L198.60,468.39 L198.65,468.43 L198.70,468.47 L198.74,468.50 L198.79,468.54 L198.83,468.58 L198.88,468.61 L198.93,468.65 L198.97,468.69 L199.02,468.72 L199.06,468.76 L199.11,468.79 L199.16,468.83 L199.20,468.87 L199.25,468.90 L199.29,468.93 L199.34,468.97 L199.39,469.00 L199.43,469.04 L199.48,469.07 L199.52,469.10 L199.57,469.14 L199.62,469.17 L199.66,469.20 L199.71,469.24 L199.75,469.27 L199.80,469.30 L199.85,469.33 L199.89,469.37 L199.94,469.40 L199.98,469.43 L200.03,469.46 L200.08,469.49 L200.12,469.52 L200.17,469.55 L200.21,469.58 L200.26,469.61 L200.31,469.64 L200.35,469.67 L200.40,469.70 L200.44,469.73 L200.49,469.76 L200.54,469.79 L200.58,469.82 L200.63,469.85 L200.67,469.88 L200.72,469.91 L200.77,469.94 L200.81,469.97 L200.86,469.99 L200.90,470.02 L200.95,470.05 L201.00,470.08 L201.04,470.10 L201.09,470.13 L201.13,470.16 L201.18,470.19 L201.23,470.21 L201.27,470.24 L201.32,470.27 L201.36,470.29 L201.41,470.32 L201.46,470.35 L201.50,470.37 L201.55,470.40 L201.59,470.43 L201.64,470.45 L201.69,470.48 L201.73,470.50 L201.78,470.53 L201.82,470.55 L201.87,470.58 L201.92,470.60 L201.96,470.63 L202.01,470.65 L202.05,470.68 L202.10,470.70 L202.15,470.73 L202.19,470.75 L202.24,470.78 L202.28,470.80 L202.33,470.82 L202.38,470.85 L202.42,470.87 L202.47,470.89 L202.51,470.92 L202.56,470.94 L202.61,470.97 L202.65,470.99 L202.70,471.01 L202.74,471.03 L202.79,471.06 L202.84,471.08 L202.88,471.10 L202.93,471.13 L202.97,471.15 L203.02,471.17 L203.07,471.19 L203.11,471.22 L203.16,471.24 L203.20,471.26 L203.25,471.28 L203.25,471.28 L203.99,471.62 L204.73,471.95 L205.47,472.25 L206.21,472.54 L206.95,472.81 L207.69,473.08 L208.43,473.33 L209.17,473.57 L209.91,473.80 L210.65,474.03 L211.39,474.25 L212.13,474.46 L212.87,474.66 L213.61,474.86 L214.35,475.05 L215.09,475.24 L215.83,475.42 L216.57,475.60 L217.31,475.77 L218.05,475.94 L218.79,476.10 L219.53,476.26 L220.27,476.42 L221.01,476.57 L221.75,476.72 L222.49,476.87 L223.23,477.01 L223.97,477.15 L224.71,477.28 L225.45,477.42 L226.19,477.55 L226.93,477.67 L227.67,477.80 L228.41,477.92 L229.15,478.03 L229.89,478.15 L230.63,478.26 L231.37,478.37 L232.11,478.48 L232.85,478.58 L233.59,478.69 L234.33,478.79 L235.07,478.88 L235.81,478.98 L236.55,479.07 L237.29,479.16 L238.03,479.25 L238.77,479.34 L239.51,479.43 L240.25,479.51 L240.99,479.59 L241.73,479.67 L242.47,479.75 L243.21,479.83 L243.95,479.90 L244.69,479.97 L245.43,480.04 L246.17,480.11 L246.91,480.18 L247.65,480.25 L248.39,480.31 L249.13,480.38 L249.87,480.44 L250.61,480.50 L251.35,480.56 L252.09,480.62 L252.83,480.68 L253.57,480.73 L254.31,480.79 L255.05,480.84 L255.79,480.89 L256.53,480.94 L257.27,481.00 L258.01,481.04 L258.74,481.09 L259.48,481.14 L260.22,481.19 L260.96,481.23 L261.70,481.28 L262.44,481.32 L263.18,481.36 L263.92,481.40 L264.66,481.44 L265.40,481.48 L266.14,481.52 L266.88,481.56 L267.62,481.60 L268.36,481.64 L269.10,481.67 L269.84,481.71 L270.58,481.74 L271.32,481.78 L272.06,481.81 L272.80,481.84 L273.54,481.88 L274.28,481.91 L275.02,481.94 L275.76,481.97 L276.50,482.00 L277.24,482.03 L277.98,482.06 L278.72,482.09 L279.46,482.11 L280.20,482.14 L280.94,482.17 L281.68,482.19 L282.42,482.22 L283.16,482.24 L283.90,482.27 L284.64,482.29 L285.38,482.32 L286.12,482.34 L286.86,482.36 L287.60,482.39 L288.34,482.41 L289.08,482.43 L289.82,482.45 L290.56,482.47 L291.30,482.49 L292.04,482.51 L292.78,482.53 L293.52,482.55 L294.26,482.57 L295.00,482.59 L295.74,482.61 L296.48,482.63 L297.22,482.65 L297.96,482.67 L298.70,482.68 L299.44,482.70 L300.18,482.72 L300.92,482.73 L301.66,482.75 L302.40,482.77 L303.14,482.78 L303.88,482.80 L304.62,482.81 L305.36,482.83 L306.10,482.84 L306.84,482.86 L307.58,482.87 L308.32,482.89 L309.06,482.90 L309.80,482.92 L310.54,482.93 L311.28,482.94 L312.02,482.96 L312.76,482.97 L313.50,482.98" stroke="#EB3D2B" stroke-width="2.2" fill="none" stroke-linejoin="round"/>
<path d="M47.79,462.60h6.40v7.50h-6.40z M50.88,459.67h6.40v7.50h-6.40z M53.98,460.31h6.40v7.50h-6.40z M57.08,459.73h6.40v7.50h-6.40z M60.18,459.93h6.40v7.50h-6.40z M63.28,459.39h6.40v7.50h-6.40z M66.37,460.01h6.40v7.50h-6.40z M69.47,458.80h6.40v7.50h-6.40z M72.57,459.53h6.40v7.50h-6.40z M75.66,459.32h6.40v7.50h-6.40z M78.76,458.88h6.40v7.50h-6.40z M81.86,460.16h6.40v7.50h-6.40z M84.96,458.12h6.40v7.50h-6.40z M88.06,457.45h6.40v7.50h-6.40z M91.15,456.28h6.40v7.50h-6.40z M94.25,457.25h6.40v7.50h-6.40z M97.35,453.72h6.40v7.50h-6.40z M100.44,454.83h6.40v7.50h-6.40z M103.54,455.75h6.40v7.50h-6.40z M106.64,455.71h6.40v7.50h-6.40z M109.74,453.33h6.40v7.50h-6.40z M112.83,451.69h6.40v7.50h-6.40z M115.93,450.49h6.40v7.50h-6.40z M119.03,447.57h6.40v7.50h-6.40z M122.13,446.14h6.40v7.50h-6.40z M125.22,442.77h6.40v7.50h-6.40z M128.32,441.82h6.40v7.50h-6.40z M131.42,438.49h6.40v7.50h-6.40z M134.52,434.04h6.40v7.50h-6.40z M137.61,428.02h6.40v7.50h-6.40z M140.71,426.59h6.40v7.50h-6.40z M143.81,419.98h6.40v7.50h-6.40z M146.91,411.93h6.40v7.50h-6.40z M150.00,400.11h6.40v7.50h-6.40z M153.10,390.50h6.40v7.50h-6.40z M156.20,370.93h6.40v7.50h-6.40z M159.30,350.91h6.40v7.50h-6.40z M162.39,333.91h6.40v7.50h-6.40z M165.49,315.20h6.40v7.50h-6.40z M168.59,297.01h6.40v7.50h-6.40z M171.69,285.99h6.40v7.50h-6.40z M174.78,280.36h6.40v7.50h-6.40z M177.88,282.42h6.40v7.50h-6.40z M180.98,288.92h6.40v7.50h-6.40z M184.08,297.10h6.40v7.50h-6.40z M187.17,308.00h6.40v7.50h-6.40z M190.27,319.50h6.40v7.50h-6.40z M193.37,331.34h6.40v7.50h-6.40z M196.47,344.91h6.40v7.50h-6.40z M199.56,360.70h6.40v7.50h-6.40z M202.66,381.80h6.40v7.50h-6.40z M205.76,394.84h6.40v7.50h-6.40z M208.86,406.43h6.40v7.50h-6.40z M211.96,414.23h6.40v7.50h-6.40z M215.05,420.72h6.40v7.50h-6.40z M218.15,425.24h6.40v7.50h-6.40z M221.25,432.05h6.40v7.50h-6.40z M224.34,435.77h6.40v7.50h-6.40z M227.44,441.04h6.40v7.50h-6.40z M230.54,442.47h6.40v7.50h-6.40z M233.64,446.36h6.40v7.50h-6.40z M236.73,447.82h6.40v7.50h-6.40z M239.83,446.68h6.40v7.50h-6.40z M242.93,449.68h6.40v7.50h-6.40z M246.03,452.06h6.40v7.50h-6.40z M249.12,452.66h6.40v7.50h-6.40z M252.22,453.17h6.40v7.50h-6.40z M255.32,453.11h6.40v7.50h-6.40z M258.42,455.61h6.40v7.50h-6.40z M261.51,457.65h6.40v7.50h-6.40z M264.61,456.97h6.40v7.50h-6.40z M267.71,457.48h6.40v7.50h-6.40z M270.81,458.20h6.40v7.50h-6.40z M273.90,457.82h6.40v7.50h-6.40z M277.00,459.68h6.40v7.50h-6.40z M280.10,460.04h6.40v7.50h-6.40z M283.20,462.83h6.40v7.50h-6.40z M286.29,461.70h6.40v7.50h-6.40z M289.39,461.30h6.40v7.50h-6.40z M292.49,463.42h6.40v7.50h-6.40z M295.59,464.65h6.40v7.50h-6.40z M298.69,465.36h6.40v7.50h-6.40z M301.78,464.23h6.40v7.50h-6.40z M304.88,467.38h6.40v7.50h-6.40z M307.98,466.86h6.40v7.50h-6.40z" fill="#69A9D7"/>
<path d="M51.00,465.44 L51.33,465.43 L51.66,465.42 L51.99,465.41 L52.31,465.40 L52.64,465.39 L52.97,465.38 L53.30,465.37 L53.63,465.35 L53.96,465.34 L54.29,465.33 L54.61,465.32 L54.94,465.30 L55.27,465.29 L55.60,465.27 L55.93,465.26 L56.26,465.24 L56.59,465.23 L56.91,465.21 L57.24,465.20 L57.57,465.18 L57.90,465.16 L58.23,465.15 L58.56,465.13 L58.88,465.11 L59.21,465.10 L59.54,465.08 L59.87,465.06 L60.20,465.04 L60.53,465.02 L60.86,465.00 L61.18,464.98 L61.51,464.96 L61.84,464.94 L62.17,464.92 L62.50,464.90 L62.83,464.88 L63.16,464.86 L63.48,464.84 L63.81,464.82 L64.14,464.80 L64.47,464.78 L64.80,464.75 L65.13,464.73 L65.46,464.71 L65.78,464.69 L66.11,464.66 L66.44,464.64 L66.77,464.62 L67.10,464.60 L67.43,464.57 L67.76,464.55 L68.08,464.53 L68.41,464.50 L68.74,464.48 L69.07,464.45 L69.40,464.43 L69.73,464.40 L70.06,464.38 L70.38,464.35 L70.71,464.33 L71.04,464.31 L71.37,464.28 L71.70,464.25 L72.03,464.23 L72.35,464.20 L72.68,464.18 L73.01,464.15 L73.34,464.13 L73.67,464.10 L74.00,464.07 L74.33,464.04 L74.65,464.02 L74.98,463.99 L75.31,463.96 L75.64,463.93 L75.97,463.90 L76.30,463.87 L76.63,463.84 L76.95,463.81 L77.28,463.78 L77.61,463.75 L77.94,463.72 L78.27,463.69 L78.60,463.66 L78.93,463.62 L79.25,463.59 L79.58,463.56 L79.91,463.53 L80.24,463.49 L80.57,463.46 L80.90,463.42 L81.23,463.39 L81.55,463.35 L81.88,463.32 L82.21,463.28 L82.54,463.24 L82.87,463.21 L83.20,463.17 L83.53,463.13 L83.85,463.09 L84.18,463.05 L84.51,463.01 L84.84,462.97 L85.17,462.93 L85.50,462.89 L85.82,462.85 L86.15,462.81 L86.48,462.77 L86.81,462.72 L87.14,462.68 L87.47,462.64 L87.80,462.59 L88.12,462.55 L88.45,462.50 L88.78,462.46 L89.11,462.41 L89.44,462.36 L89.77,462.32 L90.10,462.27 L90.42,462.22 L90.75,462.17 L91.08,462.12 L91.41,462.07 L91.74,462.02 L92.07,461.97 L92.40,461.92 L92.72,461.87 L93.05,461.82 L93.38,461.76 L93.71,461.71 L94.04,461.66 L94.37,461.60 L94.70,461.54 L95.02,461.49 L95.35,461.43 L95.68,461.37 L96.01,461.31 L96.34,461.25 L96.67,461.18 L96.99,461.12 L97.32,461.05 L97.65,460.98 L97.98,460.92 L98.31,460.85 L98.64,460.77 L98.97,460.70 L99.29,460.63 L99.62,460.55 L99.95,460.48 L100.28,460.40 L100.61,460.32 L100.94,460.24 L101.27,460.16 L101.59,460.08 L101.92,460.00 L102.25,459.91 L102.58,459.83 L102.91,459.74 L103.24,459.65 L103.57,459.56 L103.89,459.47 L104.22,459.38 L104.55,459.29 L104.88,459.20 L105.21,459.10 L105.54,459.01 L105.87,458.91 L106.19,458.81 L106.52,458.71 L106.85,458.61 L107.18,458.51 L107.51,458.41 L107.84,458.31 L108.17,458.20 L108.49,458.10 L108.82,457.99 L109.15,457.88 L109.48,457.77 L109.81,457.67 L110.14,457.55 L110.46,457.44 L110.79,457.33 L111.12,457.22 L111.45,457.10 L111.78,456.99 L112.11,456.87 L112.44,456.75 L112.76,456.64 L113.09,456.52 L113.42,456.40 L113.75,456.28 L114.08,456.15 L114.41,456.03 L114.74,455.91 L115.06,455.78 L115.39,455.66 L115.72,455.53 L116.05,455.40 L116.38,455.28 L116.71,455.15 L117.04,455.02 L117.36,454.89 L117.69,454.75 L118.02,454.62 L118.35,454.49 L118.68,454.35 L119.01,454.21 L119.34,454.07 L119.66,453.92 L119.99,453.76 L120.32,453.61 L120.65,453.45 L120.98,453.29 L121.31,453.12 L121.64,452.95 L121.96,452.78 L122.29,452.60 L122.62,452.42 L122.95,452.24 L123.28,452.05 L123.61,451.87 L123.93,451.67 L124.26,451.48 L124.59,451.28 L124.92,451.08 L125.25,450.88 L125.58,450.68 L125.91,450.47 L126.23,450.26 L126.56,450.05 L126.89,449.84 L127.22,449.62 L127.55,449.40 L127.88,449.18 L128.21,448.96 L128.53,448.74 L128.86,448.51 L129.19,448.28 L129.52,448.06 L129.85,447.82 L130.18,447.59 L130.51,447.35 L130.83,447.11 L131.16,446.87 L131.49,446.62 L131.82,446.37 L132.15,446.11 L132.48,445.84 L132.81,445.57 L133.13,445.30 L133.46,445.01 L133.79,444.72 L134.12,444.43 L134.45,444.12 L134.78,443.81 L135.11,443.49 L135.43,443.17 L135.76,442.83 L136.09,442.48 L136.42,442.13 L136.75,441.76 L137.08,441.38 L137.40,440.98 L137.73,440.57 L138.06,440.14 L138.39,439.70 L138.72,439.25 L139.05,438.79 L139.38,438.32 L139.70,437.83 L140.03,437.34 L140.36,436.83 L140.69,436.32 L141.02,435.80 L141.35,435.27 L141.68,434.73 L142.00,434.19 L142.33,433.64 L142.66,433.08 L142.99,432.52 L143.32,431.95 L143.65,431.38 L143.98,430.80 L144.30,430.22 L144.63,429.62 L144.96,429.01 L145.29,428.38 L145.62,427.74 L145.95,427.09 L146.28,426.42 L146.60,425.74 L146.93,425.04 L147.26,424.32 L147.59,423.58 L147.92,422.83 L148.25,422.05 L148.58,421.25 L148.90,420.43 L149.23,419.57 L149.56,418.67 L149.89,417.74 L150.22,416.78 L150.55,415.80 L150.87,414.79 L151.20,413.75 L151.53,412.70 L151.86,411.63 L152.19,410.54 L152.52,409.45 L152.85,408.34 L153.17,407.23 L153.50,406.11 L153.83,405.00 L154.16,403.89 L154.49,402.77 L154.82,401.64 L155.15,400.49 L155.47,399.31 L155.80,398.10 L156.13,396.84 L156.46,395.53 L156.79,394.16 L157.12,392.73 L157.45,391.23 L157.77,389.62 L158.10,387.84 L158.43,385.90 L158.76,383.83 L159.09,381.65 L159.42,379.40 L159.75,377.09 L160.07,374.75 L160.40,372.41 L160.73,370.09 L161.06,367.82 L161.39,365.63 L161.72,363.54 L162.05,361.54 L162.37,359.59 L162.70,357.68 L163.03,355.79 L163.36,353.92 L163.69,352.07 L164.02,350.22 L164.34,348.36 L164.67,346.50 L165.00,344.61 L165.33,342.70 L165.66,340.76 L165.99,338.79 L166.32,336.80 L166.64,334.80 L166.97,332.78 L167.30,330.76 L167.63,328.75 L167.96,326.75 L168.29,324.76 L168.62,322.80 L168.94,320.86 L169.27,318.96 L169.60,317.03 L169.93,315.08 L170.26,313.12 L170.59,311.16 L170.92,309.22 L171.24,307.31 L171.57,305.44 L171.90,303.61 L172.23,301.86 L172.56,300.18 L172.89,298.58 L173.22,297.09 L173.54,295.69 L173.87,294.28 L174.20,292.90 L174.53,291.56 L174.86,290.28 L175.19,289.08 L175.52,287.98 L175.84,287.00 L176.17,286.16 L176.50,285.48 L176.83,284.87 L177.16,284.28 L177.49,283.73 L177.81,283.25 L178.14,282.87 L178.47,282.61 L178.80,282.50 L179.13,282.55 L179.46,282.71 L179.79,282.97 L180.11,283.30 L180.44,283.70 L180.77,284.15 L181.10,284.62 L181.43,285.10 L181.76,285.57 L182.09,286.09 L182.41,286.69 L182.74,287.36 L183.07,288.09 L183.40,288.86 L183.73,289.68 L184.06,290.52 L184.39,291.37 L184.71,292.23 L185.04,293.09 L185.37,293.92 L185.70,294.75 L186.03,295.57 L186.36,296.40 L186.69,297.23 L187.01,298.07 L187.34,298.92 L187.67,299.78 L188.00,300.65 L188.33,301.54 L188.66,302.45 L188.98,303.38 L189.31,304.33 L189.64,305.30 L189.97,306.30 L190.30,307.32 L190.63,308.38 L190.96,309.47 L191.28,310.62 L191.61,311.84 L191.94,313.11 L192.27,314.43 L192.60,315.80 L192.93,317.20 L193.26,318.62 L193.58,320.06 L193.91,321.52 L194.24,322.97 L194.57,324.42 L194.90,325.85 L195.23,327.26 L195.56,328.64 L195.88,330.02 L196.21,331.40 L196.54,332.77 L196.87,334.15 L197.20,335.53 L197.53,336.92 L197.86,338.31 L198.18,339.70 L198.51,341.10 L198.84,342.51 L199.17,343.93 L199.50,345.36 L199.83,346.79 L200.16,348.23 L200.48,349.65 L200.81,351.07 L201.14,352.51 L201.47,353.96 L201.80,355.45 L202.13,356.99 L202.45,358.59 L202.78,360.26 L203.11,362.05 L203.44,363.96 L203.77,365.98 L204.10,368.07 L204.43,370.24 L204.75,372.44 L205.08,374.66 L205.41,376.88 L205.74,379.07 L206.07,381.23 L206.40,383.32 L206.73,385.32 L207.05,387.22 L207.38,388.99 L207.71,390.61 L208.04,392.13 L208.37,393.61 L208.70,395.05 L209.03,396.46 L209.35,397.82 L209.68,399.14 L210.01,400.42 L210.34,401.66 L210.67,402.86 L211.00,404.01 L211.33,405.13 L211.65,406.19 L211.98,407.22 L212.31,408.20 L212.64,409.13 L212.97,410.03 L213.30,410.89 L213.63,411.71 L213.95,412.51 L214.28,413.28 L214.61,414.03 L214.94,414.76 L215.27,415.47 L215.60,416.17 L215.92,416.86 L216.25,417.54 L216.58,418.21 L216.91,418.89 L217.24,419.57 L217.57,420.26 L217.90,420.95 L218.22,421.66 L218.55,422.37 L218.88,423.08 L219.21,423.79 L219.54,424.50 L219.87,425.21 L220.20,425.91 L220.52,426.61 L220.85,427.30 L221.18,427.98 L221.51,428.65 L221.84,429.31 L222.17,429.95 L222.50,430.58 L222.82,431.19 L223.15,431.78 L223.48,432.36 L223.81,432.91 L224.14,433.45 L224.47,433.98 L224.80,434.51 L225.12,435.03 L225.45,435.54 L225.78,436.04 L226.11,436.54 L226.44,437.03 L226.77,437.50 L227.10,437.97 L227.42,438.43 L227.75,438.88 L228.08,439.32 L228.41,439.75 L228.74,440.17 L229.07,440.57 L229.39,440.96 L229.72,441.35 L230.05,441.71 L230.38,442.07 L230.71,442.41 L231.04,442.75 L231.37,443.07 L231.69,443.40 L232.02,443.71 L232.35,444.03 L232.68,444.33 L233.01,444.63 L233.34,444.93 L233.67,445.22 L233.99,445.50 L234.32,445.78 L234.65,446.05 L234.98,446.32 L235.31,446.59 L235.64,446.85 L235.97,447.10 L236.29,447.35 L236.62,447.60 L236.95,447.84 L237.28,448.08 L237.61,448.31 L237.94,448.54 L238.27,448.77 L238.59,448.99 L238.92,449.21 L239.25,449.43 L239.58,449.64 L239.91,449.85 L240.24,450.06 L240.57,450.26 L240.89,450.46 L241.22,450.66 L241.55,450.85 L241.88,451.04 L242.21,451.23 L242.54,451.41 L242.86,451.59 L243.19,451.77 L243.52,451.94 L243.85,452.11 L244.18,452.28 L244.51,452.45 L244.84,452.62 L245.16,452.78 L245.49,452.94 L245.82,453.10 L246.15,453.26 L246.48,453.42 L246.81,453.57 L247.14,453.73 L247.46,453.88 L247.79,454.03 L248.12,454.18 L248.45,454.33 L248.78,454.48 L249.11,454.63 L249.44,454.78 L249.76,454.93 L250.09,455.08 L250.42,455.22 L250.75,455.37 L251.08,455.51 L251.41,455.66 L251.74,455.80 L252.06,455.94 L252.39,456.08 L252.72,456.22 L253.05,456.36 L253.38,456.50 L253.71,456.63 L254.04,456.77 L254.36,456.90 L254.69,457.04 L255.02,457.17 L255.35,457.30 L255.68,457.43 L256.01,457.56 L256.33,457.68 L256.66,457.81 L256.99,457.93 L257.32,458.06 L257.65,458.18 L257.98,458.30 L258.31,458.42 L258.63,458.53 L258.96,458.65 L259.29,458.76 L259.62,458.88 L259.95,458.99 L260.28,459.10 L260.61,459.21 L260.93,459.31 L261.26,459.42 L261.59,459.53 L261.92,459.64 L262.25,459.74 L262.58,459.85 L262.91,459.95 L263.23,460.05 L263.56,460.16 L263.89,460.26 L264.22,460.36 L264.55,460.46 L264.88,460.56 L265.21,460.66 L265.53,460.76 L265.86,460.86 L266.19,460.95 L266.52,461.05 L266.85,461.14 L267.18,461.24 L267.51,461.33 L267.83,461.42 L268.16,461.51 L268.49,461.60 L268.82,461.69 L269.15,461.78 L269.48,461.87 L269.80,461.96 L270.13,462.04 L270.46,462.13 L270.79,462.21 L271.12,462.30 L271.45,462.38 L271.78,462.46 L272.10,462.54 L272.43,462.62 L272.76,462.70 L273.09,462.78 L273.42,462.86 L273.75,462.93 L274.08,463.01 L274.40,463.08 L274.73,463.16 L275.06,463.23 L275.39,463.30 L275.72,463.38 L276.05,463.45 L276.38,463.52 L276.70,463.59 L277.03,463.66 L277.36,463.72 L277.69,463.79 L278.02,463.86 L278.35,463.92 L278.68,463.99 L279.00,464.06 L279.33,464.12 L279.66,464.19 L279.99,464.25 L280.32,464.31 L280.65,464.38 L280.97,464.44 L281.30,464.50 L281.63,464.56 L281.96,464.62 L282.29,464.68 L282.62,464.74 L282.95,464.80 L283.27,464.86 L283.60,464.92 L283.93,464.98 L284.26,465.04 L284.59,465.10 L284.92,465.16 L285.25,465.21 L285.57,465.27 L285.90,465.33 L286.23,465.39 L286.56,465.44 L286.89,465.50 L287.22,465.56 L287.55,465.61 L287.87,465.67 L288.20,465.72 L288.53,465.78 L288.86,465.84 L289.19,465.89 L289.52,465.95 L289.85,466.00 L290.17,466.06 L290.50,466.11 L290.83,466.17 L291.16,466.22 L291.49,466.28 L291.82,466.34 L292.15,466.39 L292.47,466.45 L292.80,466.50 L293.13,466.56 L293.46,466.61 L293.79,466.67 L294.12,466.72 L294.44,466.78 L294.77,466.83 L295.10,466.89 L295.43,466.94 L295.76,466.99 L296.09,467.05 L296.42,467.10 L296.74,467.16 L297.07,467.21 L297.40,467.26 L297.73,467.32 L298.06,467.37 L298.39,467.42 L298.72,467.48 L299.04,467.53 L299.37,467.58 L299.70,467.63 L300.03,467.69 L300.36,467.74 L300.69,467.79 L301.02,467.84 L301.34,467.89 L301.67,467.94 L302.00,468.00 L302.33,468.05 L302.66,468.10 L302.99,468.15 L303.32,468.20 L303.64,468.25 L303.97,468.30 L304.30,468.35 L304.63,468.40 L304.96,468.45 L305.29,468.50 L305.62,468.55 L305.94,468.60 L306.27,468.65 L306.60,468.70 L306.93,468.74 L307.26,468.79 L307.59,468.84 L307.91,468.89 L308.24,468.94 L308.57,468.98 L308.90,469.03 L309.23,469.08 L309.56,469.13 L309.89,469.17 L310.21,469.22 L310.54,469.27 L310.87,469.31 L311.20,469.36 L311.53,469.41 L311.86,469.45 L312.19,469.50 L312.51,469.54 L312.84,469.59 L313.17,469.63 L313.50,469.68" stroke="#0F54A3" stroke-width="2.5" fill="none" stroke-linejoin="round"/>
</g>
<path d="M116.62,484.20 L116.62,480.20 M116.62,272.50 L116.62,276.50 M182.25,484.20 L182.25,480.20 M182.25,272.50 L182.25,276.50 M247.88,484.20 L247.88,480.20 M247.88,272.50 L247.88,276.50 M83.81,484.20 L83.81,482.00 M83.81,272.50 L83.81,274.70 M149.44,484.20 L149.44,482.00 M149.44,272.50 L149.44,274.70 M215.06,484.20 L215.06,482.00 M215.06,272.50 L215.06,274.70 M280.69,484.20 L280.69,482.00 M280.69,272.50 L280.69,274.70 M51.00,383.35 L55.00,383.35 M51.00,282.50 L55.00,282.50 M51.00,433.77 L53.20,433.77 M51.00,332.93 L53.20,332.93" stroke="#222" stroke-width="1.1" fill="none"/>
<path d="M313.50,383.35 L309.50,383.35 M313.50,282.50 L309.50,282.50 M313.50,433.77 L311.30,433.77 M313.50,332.93 L311.30,332.93" stroke="#222" stroke-width="1.1" fill="none"/>
<path d="M313.5,272.5 L51.0,272.5 L51.0,484.2 L313.5,484.2" stroke="#222" stroke-width="1.1" fill="none" stroke-linejoin="miter" stroke-linecap="square"/>
<path d="M313.5,272.5 L313.5,484.2" stroke="#222" stroke-width="1.1" fill="none" stroke-linecap="square"/>
<text x="51.00" y="498.30" font-size="12.4" text-anchor="middle" fill="#000" font-weight="normal" font-style="normal" >0</text>
<text x="116.62" y="498.30" font-size="12.4" text-anchor="middle" fill="#000" font-weight="normal" font-style="normal" >25</text>
<text x="182.25" y="498.30" font-size="12.4" text-anchor="middle" fill="#000" font-weight="normal" font-style="normal" >50</text>
<text x="247.88" y="498.30" font-size="12.4" text-anchor="middle" fill="#000" font-weight="normal" font-style="normal" >75</text>
<text x="313.50" y="498.30" font-size="12.4" text-anchor="middle" fill="#000" > 00</text>
<path d="M306.27,498.30 L306.27,490.81 L304.35,492.18 L304.35,491.16 L306.36,489.77 L307.37,489.77 L307.37,498.30Z" fill="#000"/>
<text x="45.80" y="487.60" font-size="12.4" text-anchor="end" fill="#000" font-weight="normal" font-style="normal" >0.0</text>
<text x="45.80" y="386.75" font-size="12.4" text-anchor="end" fill="#000" font-weight="normal" font-style="normal" >0.5</text>
<text x="45.80" y="285.90" font-size="12.4" text-anchor="end" fill="#000" > .0</text>
<path d="M31.68,285.90 L31.68,278.41 L29.76,279.78 L29.76,278.76 L31.77,277.37 L32.78,277.37 L32.78,285.90Z" fill="#000"/>
<text x="182.6" y="523" font-size="15.0" text-anchor="middle" fill="#000">μ<tspan font-size="10" dy="3">0</tspan><tspan dy="-3" font-style="italic">H</tspan> (mT)</text>
<text transform="translate(22.5,377.4) rotate(-90)" font-size="15.0" text-anchor="middle" fill="#000"><tspan font-style="italic">P</tspan> (<tspan font-style="italic">B</tspan>)</text>
<rect x="260.8" y="285.8" width="7" height="7" fill="#F98B6E"/>
<rect x="260.8" y="298.8" width="7" height="7" fill="#69A9D7"/>
<text x="276.40" y="293.00" font-size="10.4" text-anchor="start" fill="#000" font-weight="normal" font-style="normal" >3.4 K</text>
<text x="276.40" y="306.00" font-size="10.4" text-anchor="start" fill="#000" >0.  K</text>
<path d="M287.69,306.00 L287.69,299.72 L286.07,300.87 L286.07,300.01 L287.76,298.84 L288.61,298.84 L288.61,306.00Z" fill="#000"/>
<text x="-0.60" y="281.90" font-size="13" text-anchor="start" fill="#000" font-weight="bold" font-style="normal" >b</text>
<clipPath id="cc"><rect x="370.0" y="5.5" width="262.6" height="211.7"/></clipPath>
<g clip-path="url(#cc)">
<g fill="#1F6DB5"><circle cx="375.0" cy="29.3" r="4.25"/><circle cx="383.0" cy="27.5" r="4.25"/><circle cx="389.9" cy="26.9" r="4.25"/><circle cx="396.9" cy="29.9" r="4.25"/><circle cx="403.9" cy="29.9" r="4.25"/><circle cx="410.9" cy="30.9" r="4.25"/><circle cx="417.9" cy="31.9" r="4.25"/><circle cx="424.8" cy="31.9" r="4.25"/><circle cx="438.4" cy="35.5" r="4.25"/><circle cx="452.4" cy="41.9" r="4.25"/><circle cx="466.3" cy="47.3" r="4.25"/><circle cx="479.9" cy="59.4" r="4.25"/><circle cx="493.7" cy="75.8" r="4.25"/><circle cx="508.2" cy="85.8" r="4.25"/><circle cx="521.6" cy="98.3" r="4.25"/><circle cx="535.5" cy="113.1" r="4.25"/><circle cx="549.5" cy="130.5" r="4.25"/><circle cx="562.9" cy="148.1" r="4.25"/><circle cx="577.2" cy="169.3" r="4.25"/><circle cx="591.1" cy="191.2" r="4.25"/><circle cx="597.8" cy="202.7" r="4.25"/><circle cx="604.5" cy="210.9" r="4.25"/><circle cx="618.8" cy="216.4" r="4.25"/></g>
<path d="M371.60,183.30h7.40v7.40h-7.40z M374.70,181.40h1.2v11.20h-1.2z M371.80,180.80h7.0v1.2h-7.0z M371.80,192.00h7.0v1.2h-7.0z M379.30,193.50h7.40v7.40h-7.40z M382.40,191.00h1.2v12.40h-1.2z M379.50,190.40h7.0v1.2h-7.0z M379.50,202.80h7.0v1.2h-7.0z M386.50,186.40h7.40v7.40h-7.40z M393.20,182.00h7.40v7.40h-7.40z M400.50,189.70h7.40v7.40h-7.40z M403.60,187.00h1.2v12.80h-1.2z M400.70,186.40h7.0v1.2h-7.0z M400.70,199.20h7.0v1.2h-7.0z M407.30,193.50h7.40v7.40h-7.40z M410.40,191.20h1.2v12.00h-1.2z M407.50,190.60h7.0v1.2h-7.0z M407.50,202.60h7.0v1.2h-7.0z M414.40,182.00h7.40v7.40h-7.40z M417.50,179.40h1.2v12.60h-1.2z M414.60,178.80h7.0v1.2h-7.0z M414.60,191.40h7.0v1.2h-7.0z M421.20,182.30h7.40v7.40h-7.40z M424.30,180.00h1.2v12.00h-1.2z M421.40,179.40h7.0v1.2h-7.0z M421.40,191.40h7.0v1.2h-7.0z M435.00,193.50h7.40v7.40h-7.40z M438.10,191.20h1.2v12.00h-1.2z M435.20,190.60h7.0v1.2h-7.0z M435.20,202.60h7.0v1.2h-7.0z M448.70,194.10h7.40v7.40h-7.40z M451.80,192.00h1.2v11.60h-1.2z M448.90,191.40h7.0v1.2h-7.0z M448.90,203.00h7.0v1.2h-7.0z M462.60,163.30h7.40v7.40h-7.40z M465.70,161.20h1.2v11.60h-1.2z M462.80,160.60h7.0v1.2h-7.0z M462.80,172.20h7.0v1.2h-7.0z M476.50,173.30h7.40v7.40h-7.40z M479.60,171.90h1.2v10.20h-1.2z M476.70,171.30h7.0v1.2h-7.0z M476.70,181.50h7.0v1.2h-7.0z M489.90,153.50h7.40v7.40h-7.40z M504.50,145.00h7.40v7.40h-7.40z M517.90,126.10h7.40v7.40h-7.40z M531.80,114.90h7.40v7.40h-7.40z M545.70,93.80h7.40v7.40h-7.40z M559.40,74.40h7.40v7.40h-7.40z M573.30,56.90h7.40v7.40h-7.40z M587.20,36.80h7.40v7.40h-7.40z M594.00,25.10h7.40v7.40h-7.40z M601.20,12.50h7.40v7.40h-7.40z M614.80,9.40h7.40v7.40h-7.40z" fill="#CE161D"/>
<rect x="602" y="5.5" width="7" height="211.7" fill="#b4b4b4" fill-opacity="0.5"/>
</g>
<path d="M439.30,217.20 L439.30,213.20 M439.30,5.50 L439.30,9.50 M508.60,217.20 L508.60,213.20 M508.60,5.50 L508.60,9.50 M577.90,217.20 L577.90,213.20 M577.90,5.50 L577.90,9.50 M404.65,217.20 L404.65,215.00 M404.65,5.50 L404.65,7.70 M473.95,217.20 L473.95,215.00 M473.95,5.50 L473.95,7.70 M543.25,217.20 L543.25,215.00 M543.25,5.50 L543.25,7.70 M612.55,217.20 L612.55,215.00 M612.55,5.50 L612.55,7.70 M370.00,164.27 L374.00,164.27 M370.00,111.35 L374.00,111.35 M370.00,58.43 L374.00,58.43 M370.00,190.74 L372.20,190.74 M370.00,137.81 L372.20,137.81 M370.00,84.89 L372.20,84.89 M370.00,31.96 L372.20,31.96" stroke="#222" stroke-width="1.1" fill="none"/>
<path d="M632.60,13.80 L628.60,13.80 M632.60,46.26 L628.60,46.26 M632.60,78.72 L628.60,78.72 M632.60,111.18 L628.60,111.18 M632.60,143.64 L628.60,143.64 M632.60,176.10 L628.60,176.10 M632.60,208.56 L628.60,208.56 M632.60,30.03 L630.40,30.03 M632.60,62.49 L630.40,62.49 M632.60,94.95 L630.40,94.95 M632.60,127.41 L630.40,127.41 M632.60,159.87 L630.40,159.87 M632.60,192.33 L630.40,192.33" stroke="#CE161D" stroke-width="1.1" fill="none"/>
<path d="M632.6,5.5 L370.0,5.5 L370.0,217.2 L632.6,217.2" stroke="#222" stroke-width="1.1" fill="none" stroke-linejoin="miter" stroke-linecap="square"/>
<path d="M632.6,5.5 L632.6,217.2" stroke="#CE161D" stroke-width="1.1" fill="none" stroke-linecap="square"/>
<text x="370.00" y="231.60" font-size="12.4" text-anchor="middle" fill="#000" font-weight="normal" font-style="normal" >0</text>
<text x="439.30" y="231.60" font-size="12.4" text-anchor="middle" fill="#000" > </text>
<path d="M438.97,231.60 L438.97,224.11 L437.04,225.48 L437.04,224.46 L439.06,223.07 L440.07,223.07 L440.07,231.60Z" fill="#000"/>
<text x="508.60" y="231.60" font-size="12.4" text-anchor="middle" fill="#000" font-weight="normal" font-style="normal" >2</text>
<text x="577.90" y="231.60" font-size="12.4" text-anchor="middle" fill="#000" font-weight="normal" font-style="normal" >3</text>
<text x="364.80" y="220.60" font-size="12.4" text-anchor="end" fill="#000" font-weight="normal" font-style="normal" >0</text>
<text x="364.80" y="167.67" font-size="12.4" text-anchor="end" fill="#000" > </text>
<path d="M361.02,167.67 L361.02,160.19 L359.10,161.56 L359.10,160.53 L361.11,159.14 L362.12,159.14 L362.12,167.67Z" fill="#000"/>
<text x="364.80" y="114.75" font-size="12.4" text-anchor="end" fill="#000" font-weight="normal" font-style="normal" >2</text>
<text x="364.80" y="61.83" font-size="12.4" text-anchor="end" fill="#000" font-weight="normal" font-style="normal" >3</text>
<text x="364.80" y="8.00" font-size="12.4" text-anchor="end" fill="#000" font-weight="normal" font-style="normal" >4</text>
<text x="637.20" y="17.20" font-size="12.4" text-anchor="start" fill="#CE161D" font-weight="normal" font-style="normal" >0.0</text>
<text x="637.20" y="49.66" font-size="12.4" text-anchor="start" fill="#CE161D" font-weight="normal" font-style="normal" >−0.2</text>
<text x="637.20" y="82.12" font-size="12.4" text-anchor="start" fill="#CE161D" font-weight="normal" font-style="normal" >−0.4</text>
<text x="637.20" y="114.58" font-size="12.4" text-anchor="start" fill="#CE161D" font-weight="normal" font-style="normal" >−0.6</text>
<text x="637.20" y="147.04" font-size="12.4" text-anchor="start" fill="#CE161D" font-weight="normal" font-style="normal" >−0.8</text>
<text x="637.20" y="179.50" font-size="12.4" text-anchor="start" fill="#CE161D" >− .0</text>
<path d="M647.56,179.50 L647.56,172.01 L645.63,173.38 L645.63,172.36 L647.65,170.97 L648.66,170.97 L648.66,179.50Z" fill="#CE161D"/>
<text x="637.20" y="211.96" font-size="12.4" text-anchor="start" fill="#CE161D" >− .2</text>
<path d="M647.56,211.96 L647.56,204.47 L645.63,205.84 L645.63,204.82 L647.65,203.43 L648.66,203.43 L648.66,211.96Z" fill="#CE161D"/>
<text x="501.9" y="254.8" font-size="15.0" text-anchor="middle" fill="#000"><tspan font-style="italic">T</tspan> (K)</text>
<text transform="translate(350,110.6) rotate(-90)" font-size="15.0" text-anchor="middle" fill="#000"><tspan font-style="italic">σ</tspan><tspan font-size="10" dy="3">SC</tspan><tspan dy="-3"> (μs</tspan><tspan font-size="10" dy="-5.5">-1</tspan><tspan dy="5.5">)</tspan></text>
<text transform="translate(681.3,111.6) rotate(-90)" font-size="15.0" text-anchor="middle" fill="#CE161D">Δ<tspan font-style="italic">B</tspan><tspan font-size="10" dy="3">int</tspan><tspan dy="-3"> (mT)</tspan></text>
<circle cx="401.2" cy="97.3" r="4.4" fill="#1F6DB5"/>
<rect x="397.1" y="111.0" width="8" height="8" fill="#CE161D"/>
<text x="416.6" y="101.6" font-size="11" fill="#000"><tspan font-style="italic">σ</tspan><tspan font-size="8" dy="2.6">SC</tspan></text>
<text x="416.2" y="118.8" font-size="11" fill="#000">Δ<tspan font-style="italic">B</tspan><tspan font-size="8" dy="2.8">int</tspan></text>
<text x="614.2" y="201.8" font-size="11.4" fill="#000"><tspan font-style="italic">T</tspan><tspan font-size="8" dy="3.2">c</tspan></text>
<text x="330.20" y="15.20" font-size="13" text-anchor="start" fill="#000" font-weight="bold" font-style="normal" >c</text>
<clipPath id="cd"><rect x="370.0" y="272.3" width="262.4" height="211.89999999999998"/></clipPath>
<g clip-path="url(#cd)">
<g fill="#1F6DB5"><circle cx="374.7" cy="292.8" r="4.7"/><circle cx="382.9" cy="290.6" r="4.7"/><circle cx="390.3" cy="290.2" r="4.7"/><circle cx="397.0" cy="294.0" r="4.7"/><circle cx="403.7" cy="293.6" r="4.7"/><circle cx="411.2" cy="295.1" r="4.7"/><circle cx="417.9" cy="295.8" r="4.7"/><circle cx="424.6" cy="295.1" r="4.7"/><circle cx="438.7" cy="298.8" r="4.7"/><circle cx="452.1" cy="305.5" r="4.7"/><circle cx="466.0" cy="311.0" r="4.7"/><circle cx="479.1" cy="323.9" r="4.7"/><circle cx="493.2" cy="341.2" r="4.7"/><circle cx="507.8" cy="351.0" r="4.7"/><circle cx="521.9" cy="363.8" r="4.7"/><circle cx="535.7" cy="379.7" r="4.7"/><circle cx="549.0" cy="397.0" r="4.7"/><circle cx="562.9" cy="414.6" r="4.7"/><circle cx="577.1" cy="434.2" r="4.7"/><circle cx="590.8" cy="454.9" r="4.7"/><circle cx="597.6" cy="466.6" r="4.7"/><circle cx="604.8" cy="478.9" r="4.7"/></g>
<path d="M370.00,277.55 L372.34,277.55 L374.67,277.82 L377.01,278.60 L379.34,279.60 L381.68,280.66 L384.02,281.73 L386.35,282.80 L388.69,283.87 L391.02,284.95 L393.36,286.02 L395.70,287.10 L398.03,288.18 L400.37,289.27 L402.70,290.35 L405.04,291.45 L407.38,292.54 L409.71,293.64 L412.05,294.74 L414.38,295.85 L416.72,296.97 L419.06,298.09 L421.39,299.22 L423.73,300.35 L426.06,301.50 L428.40,302.66 L430.73,303.83 L433.07,305.01 L435.41,306.20 L437.74,307.41 L440.08,308.63 L442.41,309.86 L444.75,311.11 L447.09,312.38 L449.42,313.67 L451.76,314.98 L454.09,316.30 L456.43,317.65 L458.77,319.02 L461.10,320.40 L463.44,321.81 L465.77,323.25 L468.11,324.70 L470.45,326.18 L472.78,327.68 L475.12,329.21 L477.45,330.76 L479.79,332.34 L482.13,333.94 L484.46,335.57 L486.80,337.23 L489.13,338.92 L491.47,340.63 L493.81,342.37 L496.14,344.14 L498.48,345.94 L500.81,347.77 L503.15,349.63 L505.49,351.52 L507.82,353.44 L510.16,355.39 L512.49,357.38 L514.83,359.40 L517.17,361.46 L519.50,363.55 L521.84,365.68 L524.17,367.85 L526.51,370.05 L528.84,372.29 L531.18,374.58 L533.52,376.90 L535.85,379.27 L538.19,381.68 L540.52,384.14 L542.86,386.65 L545.20,389.20 L547.53,391.80 L549.87,394.46 L552.20,397.17 L554.54,399.93 L556.88,402.75 L559.21,405.63 L561.55,408.58 L563.88,411.58 L566.22,414.66 L568.56,417.80 L570.89,421.01 L573.23,424.30 L575.56,427.66 L577.90,431.10 L577.90,431.10 L578.61,432.16 L579.32,433.24 L580.03,434.31 L580.74,435.40 L581.45,436.50 L582.16,437.60 L582.87,438.71 L583.58,439.83 L584.30,440.95 L585.01,442.09 L585.72,443.23 L586.43,444.39 L587.14,445.55 L587.85,446.72 L588.56,447.89 L589.27,449.08 L589.98,450.28 L590.69,451.48 L591.40,452.69 L592.11,453.91 L592.82,455.15 L593.53,456.39 L594.24,457.64 L594.95,458.89 L595.66,460.16 L596.38,461.44 L597.09,462.72 L597.80,464.02 L598.51,465.32 L599.22,466.63 L599.93,467.95 L600.64,469.28 L601.35,470.61 L602.06,471.96 L602.77,473.30 L603.48,474.66 L604.19,476.01 L604.90,477.36 L605.61,478.69 L605.62,478.70 L633.34,478.70" stroke="#24488E" stroke-width="1.7" fill="none" stroke-dasharray="1.7,1.6"/>
<path d="M370.00,294.50 L372.34,294.50 L374.67,294.50 L377.01,294.50 L379.34,294.50 L381.68,294.50 L384.02,294.50 L386.35,294.50 L388.69,294.50 L391.02,294.50 L393.36,294.50 L395.70,294.50 L398.03,294.50 L400.37,294.50 L402.70,294.50 L405.04,294.51 L407.38,294.52 L409.71,294.54 L412.05,294.58 L414.38,294.63 L416.72,294.70 L419.06,294.80 L421.39,294.93 L423.73,295.11 L426.06,295.32 L428.40,295.59 L430.73,295.91 L433.07,296.29 L435.41,296.74 L437.74,297.25 L440.08,297.83 L442.41,298.48 L444.75,299.21 L447.09,300.01 L449.42,300.89 L451.76,301.85 L454.09,302.89 L456.43,304.00 L458.77,305.19 L461.10,306.46 L463.44,307.80 L465.77,309.22 L468.11,310.71 L470.45,312.27 L472.78,313.90 L475.12,315.60 L477.45,317.36 L479.79,319.19 L482.13,321.08 L484.46,323.03 L486.80,325.04 L489.13,327.10 L491.47,329.22 L493.81,331.39 L496.14,333.62 L498.48,335.89 L500.81,338.21 L503.15,340.58 L505.49,342.99 L507.82,345.44 L510.16,347.94 L512.49,350.47 L514.83,353.05 L517.17,355.67 L519.50,358.32 L521.84,361.01 L524.17,363.73 L526.51,366.49 L528.84,369.29 L531.18,372.11 L533.52,374.98 L535.85,377.87 L538.19,380.80 L540.52,383.75 L542.86,386.74 L545.20,389.76 L547.53,392.82 L549.87,395.90 L552.20,399.02 L554.54,402.16 L556.88,405.34 L559.21,408.55 L561.55,411.79 L563.88,415.07 L566.22,418.37 L568.56,421.71 L570.89,425.08 L573.23,428.48 L575.56,431.91 L577.90,435.38 L577.90,435.38 L578.61,436.44 L579.32,437.50 L580.03,438.57 L580.74,439.64 L581.45,440.72 L582.16,441.79 L582.87,442.87 L583.58,443.95 L584.30,445.04 L585.01,446.13 L585.72,447.22 L586.43,448.31 L587.14,449.41 L587.85,450.51 L588.56,451.61 L589.27,452.72 L589.98,453.83 L590.69,454.94 L591.40,456.06 L592.11,457.17 L592.82,458.29 L593.53,459.42 L594.24,460.54 L594.95,461.67 L595.66,462.80 L596.38,463.93 L597.09,465.07 L597.80,466.20 L598.51,467.34 L599.22,468.48 L599.93,469.62 L600.64,470.76 L601.35,471.91 L602.06,473.05 L602.77,474.19 L603.48,475.33 L604.19,476.46 L604.90,477.59 L605.61,478.69 L605.62,478.70 L633.34,478.70" stroke="#173A78" stroke-width="1.9" fill="none" stroke-dasharray="4.3,3.2"/>
<path d="M370.00,293.89 L372.34,293.87 L374.67,293.84 L377.01,293.82 L379.34,293.79 L381.68,293.77 L384.02,293.74 L386.35,293.72 L388.69,293.69 L391.02,293.66 L393.36,293.63 L395.70,293.60 L398.03,293.57 L400.37,293.54 L402.70,293.53 L405.04,293.52 L407.38,293.52 L409.71,293.55 L412.05,293.60 L414.38,293.68 L416.72,293.80 L419.06,293.96 L421.39,294.16 L423.73,294.42 L426.06,294.72 L428.40,295.09 L430.73,295.51 L433.07,296.01 L435.41,296.58 L437.74,297.23 L440.08,297.96 L442.41,298.77 L444.75,299.68 L447.09,300.67 L449.42,301.77 L451.76,302.96 L454.09,304.24 L456.43,305.61 L458.77,307.08 L461.10,308.64 L463.44,310.27 L465.77,311.98 L468.11,313.76 L470.45,315.61 L472.78,317.51 L475.12,319.46 L477.45,321.46 L479.79,323.49 L482.13,325.57 L484.46,327.67 L486.80,329.80 L489.13,331.96 L491.47,334.14 L493.81,336.35 L496.14,338.59 L498.48,340.84 L500.81,343.12 L503.15,345.43 L505.49,347.76 L507.82,350.12 L510.16,352.50 L512.49,354.91 L514.83,357.35 L517.17,359.82 L519.50,362.31 L521.84,364.83 L524.17,367.38 L526.51,369.97 L528.84,372.58 L531.18,375.22 L533.52,377.89 L535.85,380.59 L538.19,383.33 L540.52,386.09 L542.86,388.89 L545.20,391.72 L547.53,394.58 L549.87,397.48 L552.20,400.41 L554.54,403.38 L556.88,406.38 L559.21,409.42 L561.55,412.50 L563.88,415.62 L566.22,418.78 L568.56,421.98 L570.89,425.22 L573.23,428.50 L575.56,431.83 L577.90,435.20 L577.90,435.20 L578.61,436.24 L579.32,437.28 L580.03,438.32 L580.74,439.37 L581.45,440.42 L582.16,441.48 L582.87,442.54 L583.58,443.61 L584.30,444.68 L585.01,445.75 L585.72,446.83 L586.43,447.91 L587.14,449.00 L587.85,450.10 L588.56,451.19 L589.27,452.30 L589.98,453.40 L590.69,454.51 L591.40,455.63 L592.11,456.75 L592.82,457.87 L593.53,459.00 L594.24,460.14 L594.95,461.28 L595.66,462.42 L596.38,463.56 L597.09,464.71 L597.80,465.87 L598.51,467.03 L599.22,468.19 L599.93,469.35 L600.64,470.52 L601.35,471.69 L602.06,472.87 L602.77,474.04 L603.48,475.21 L604.19,476.39 L604.90,477.55 L605.61,478.69 L605.62,478.70 L633.34,478.70" stroke="#F8A692" stroke-width="1.6" fill="none"/>
<path d="M370.00,292.68 L372.34,292.68 L374.67,292.68 L377.01,292.68 L379.34,292.68 L381.68,292.68 L384.02,292.68 L386.35,292.68 L388.69,292.68 L391.02,292.68 L393.36,292.68 L395.70,292.69 L398.03,292.70 L400.37,292.71 L402.70,292.74 L405.04,292.79 L407.38,292.86 L409.71,292.96 L412.05,293.10 L414.38,293.28 L416.72,293.51 L419.06,293.79 L421.39,294.13 L423.73,294.53 L426.06,294.99 L428.40,295.52 L430.73,296.12 L433.07,296.80 L435.41,297.54 L437.74,298.36 L440.08,299.25 L442.41,300.21 L444.75,301.24 L447.09,302.34 L449.42,303.51 L451.76,304.74 L454.09,306.04 L456.43,307.41 L458.77,308.84 L461.10,310.32 L463.44,311.87 L465.77,313.47 L468.11,315.12 L470.45,316.83 L472.78,318.59 L475.12,320.40 L477.45,322.25 L479.79,324.15 L482.13,326.09 L484.46,328.08 L486.80,330.10 L489.13,332.17 L491.47,334.27 L493.81,336.41 L496.14,338.59 L498.48,340.80 L500.81,343.04 L503.15,345.32 L505.49,347.63 L507.82,349.98 L510.16,352.35 L512.49,354.76 L514.83,357.20 L517.17,359.66 L519.50,362.16 L521.84,364.69 L524.17,367.25 L526.51,369.83 L528.84,372.45 L531.18,375.10 L533.52,377.78 L535.85,380.49 L538.19,383.23 L540.52,386.00 L542.86,388.80 L545.20,391.64 L547.53,394.51 L549.87,397.41 L552.20,400.35 L554.54,403.32 L556.88,406.33 L559.21,409.38 L561.55,412.46 L563.88,415.58 L566.22,418.74 L568.56,421.95 L570.89,425.19 L573.23,428.48 L575.56,431.81 L577.90,435.19 L577.90,435.19 L578.61,436.22 L579.32,437.26 L580.03,438.31 L580.74,439.36 L581.45,440.41 L582.16,441.47 L582.87,442.53 L583.58,443.60 L584.30,444.67 L585.01,445.74 L585.72,446.82 L586.43,447.91 L587.14,449.00 L587.85,450.09 L588.56,451.19 L589.27,452.29 L589.98,453.40 L590.69,454.51 L591.40,455.63 L592.11,456.75 L592.82,457.87 L593.53,459.00 L594.24,460.13 L594.95,461.27 L595.66,462.42 L596.38,463.56 L597.09,464.71 L597.80,465.87 L598.51,467.03 L599.22,468.19 L599.93,469.35 L600.64,470.52 L601.35,471.69 L602.06,472.87 L602.77,474.04 L603.48,475.21 L604.19,476.39 L604.90,477.55 L605.61,478.69 L605.62,478.70 L633.34,478.70" stroke="#CE161D" stroke-width="1.7" fill="none"/>
<rect x="602" y="272.3" width="7" height="211.89999999999998" fill="#b4b4b4" fill-opacity="0.5"/>
</g>
<path d="M439.30,484.20 L439.30,480.20 M439.30,272.30 L439.30,276.30 M508.60,484.20 L508.60,480.20 M508.60,272.30 L508.60,276.30 M577.90,484.20 L577.90,480.20 M577.90,272.30 L577.90,276.30 M404.65,484.20 L404.65,482.00 M404.65,272.30 L404.65,274.50 M473.95,484.20 L473.95,482.00 M473.95,272.30 L473.95,274.50 M543.25,484.20 L543.25,482.00 M543.25,272.30 L543.25,274.50 M612.55,484.20 L612.55,482.00 M612.55,272.30 L612.55,274.50 M370.00,478.70 L374.00,478.70 M370.00,451.21 L374.00,451.21 M370.00,423.73 L374.00,423.73 M370.00,396.25 L374.00,396.25 M370.00,368.76 L374.00,368.76 M370.00,341.27 L374.00,341.27 M370.00,313.79 L374.00,313.79 M370.00,286.31 L374.00,286.31 M370.00,464.96 L372.20,464.96 M370.00,437.47 L372.20,437.47 M370.00,409.99 L372.20,409.99 M370.00,382.50 L372.20,382.50 M370.00,355.02 L372.20,355.02 M370.00,327.53 L372.20,327.53 M370.00,300.05 L372.20,300.05" stroke="#222" stroke-width="1.1" fill="none"/>
<path d="M632.40,478.70 L628.40,478.70 M632.40,451.21 L628.40,451.21 M632.40,423.73 L628.40,423.73 M632.40,396.25 L628.40,396.25 M632.40,368.76 L628.40,368.76 M632.40,341.27 L628.40,341.27 M632.40,313.79 L628.40,313.79 M632.40,286.31 L628.40,286.31 M632.40,464.96 L630.20,464.96 M632.40,437.47 L630.20,437.47 M632.40,409.99 L630.20,409.99 M632.40,382.50 L630.20,382.50 M632.40,355.02 L630.20,355.02 M632.40,327.53 L630.20,327.53 M632.40,300.05 L630.20,300.05" stroke="#222" stroke-width="1.1" fill="none"/>
<path d="M632.4,272.3 L370.0,272.3 L370.0,484.2 L632.4,484.2" stroke="#222" stroke-width="1.1" fill="none" stroke-linejoin="miter" stroke-linecap="square"/>
<path d="M632.4,272.3 L632.4,484.2" stroke="#222" stroke-width="1.1" fill="none" stroke-linecap="square"/>
<text x="370.00" y="498.40" font-size="12.4" text-anchor="middle" fill="#000" font-weight="normal" font-style="normal" >0</text>
<text x="439.30" y="498.40" font-size="12.4" text-anchor="middle" fill="#000" > </text>
<path d="M438.97,498.40 L438.97,490.91 L437.04,492.28 L437.04,491.26 L439.06,489.87 L440.07,489.87 L440.07,498.40Z" fill="#000"/>
<text x="508.60" y="498.40" font-size="12.4" text-anchor="middle" fill="#000" font-weight="normal" font-style="normal" >2</text>
<text x="577.90" y="498.40" font-size="12.4" text-anchor="middle" fill="#000" font-weight="normal" font-style="normal" >3</text>
<text x="364.80" y="482.10" font-size="12.4" text-anchor="end" fill="#000" font-weight="normal" font-style="normal" >0</text>
<text x="364.80" y="454.61" font-size="12.4" text-anchor="end" fill="#000" font-weight="normal" font-style="normal" >5</text>
<text x="364.80" y="427.13" font-size="12.4" text-anchor="end" fill="#000" > 0</text>
<path d="M354.13,427.13 L354.13,419.64 L352.20,421.01 L352.20,419.99 L354.22,418.60 L355.22,418.60 L355.22,427.13Z" fill="#000"/>
<text x="364.80" y="399.64" font-size="12.4" text-anchor="end" fill="#000" > 5</text>
<path d="M354.13,399.64 L354.13,392.16 L352.20,393.53 L352.20,392.50 L354.22,391.11 L355.22,391.11 L355.22,399.64Z" fill="#000"/>
<text x="364.80" y="372.16" font-size="12.4" text-anchor="end" fill="#000" font-weight="normal" font-style="normal" >20</text>
<text x="364.80" y="344.67" font-size="12.4" text-anchor="end" fill="#000" font-weight="normal" font-style="normal" >25</text>
<text x="364.80" y="317.19" font-size="12.4" text-anchor="end" fill="#000" font-weight="normal" font-style="normal" >30</text>
<text x="364.80" y="289.70" font-size="12.4" text-anchor="end" fill="#000" font-weight="normal" font-style="normal" >35</text>
<text x="501.9" y="521.9" font-size="15.0" text-anchor="middle" fill="#000"><tspan font-style="italic">T</tspan> (K)</text>
<text transform="translate(343,378.6) rotate(-90)" font-size="15.0" text-anchor="middle" fill="#000"><tspan font-style="italic">λ</tspan><tspan font-size="10" dy="3">eff</tspan><tspan font-size="10" dy="-8.5">-2</tspan><tspan dy="5.5"> (μm</tspan><tspan font-size="10" dy="-5.5">-2</tspan><tspan dy="5.5">)</tspan></text>
<circle cx="401.5" cy="407.8" r="4.9" fill="#1F6DB5"/>
<text x="416.8" y="412.5" font-size="11" fill="#000"><tspan font-style="italic">λ</tspan><tspan font-size="7.6" dy="2.4">eff</tspan><tspan font-size="7.6" dy="-7.6" dx="0.8">-2</tspan></text>
<path d="M388.6,424.0 L414.8,424.0" stroke="#173A78" stroke-width="1.9" stroke-dasharray="4.3,3.2"/>
<path d="M388.6,437.0 L414.8,437.0" stroke="#24488E" stroke-width="1.7" stroke-dasharray="1.7,1.6"/>
<path d="M388.6,450.3 L414.8,450.3" stroke="#F8A692" stroke-width="1.8"/>
<path d="M388.6,463.5 L414.8,463.5" stroke="#CE161D" stroke-width="1.9"/>
<text x="416.20" y="427.90" font-size="11" text-anchor="start" fill="#000" font-weight="normal" font-style="normal" >Isotropic full gap</text>
<text x="416.20" y="440.90" font-size="11" text-anchor="start" fill="#000" font-weight="normal" font-style="normal" >Nodal gap</text>
<text x="416.20" y="454.20" font-size="11" text-anchor="start" fill="#000" font-weight="normal" font-style="normal" >Two isotropic full gaps</text>
<text x="416.20" y="467.40" font-size="11" text-anchor="start" fill="#000" font-weight="normal" font-style="normal" >Anisotropic nodeless gap</text>
<text x="614.2" y="468.2" font-size="11.4" fill="#000"><tspan font-style="italic">T</tspan><tspan font-size="8" dy="3.4">c</tspan></text>
<text x="329.60" y="281.90" font-size="13" text-anchor="start" fill="#000" font-weight="bold" font-style="normal" >d</text>
</svg></body></html>
